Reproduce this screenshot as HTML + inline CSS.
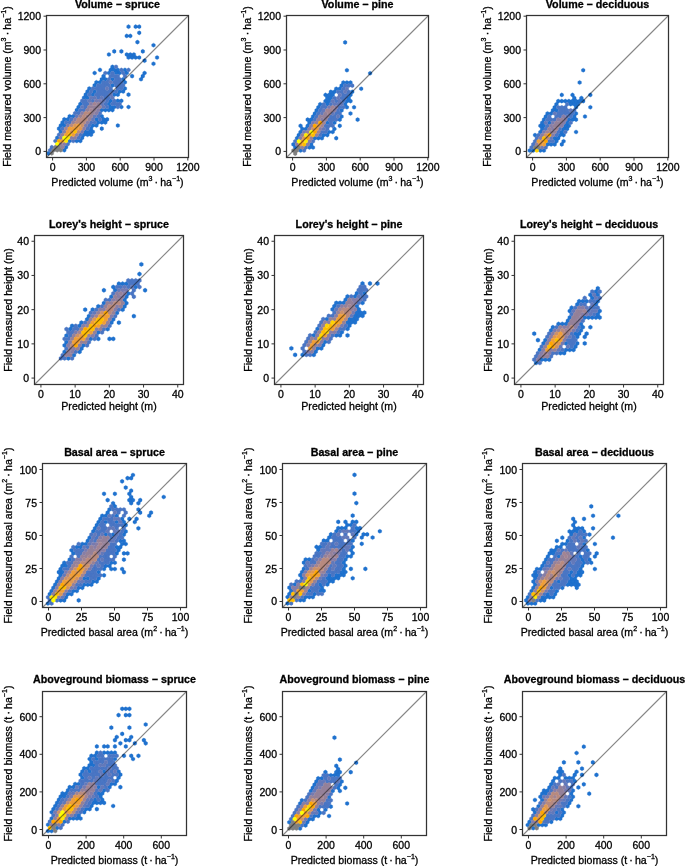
<!DOCTYPE html><html><head><meta charset="utf-8"><style>html,body{margin:0;padding:0;background:#fff}svg{display:block;will-change:transform}*{-webkit-font-smoothing:antialiased}text{font-family:"Liberation Sans", sans-serif;stroke:#000;stroke-width:0.3px;paint-order:stroke}</style></head><body>
<svg width="685" height="866" viewBox="0 0 685 866">
<rect width="685" height="866" fill="#fff"/>
<clipPath id="c46_15"><rect x="46.5" y="15.5" width="142" height="142"/></clipPath><g clip-path="url(#c46_15)"><path fill="#1f72cf" stroke="#1f72cf" stroke-width="0.35" stroke-linejoin="round" d="M48.25 151.28l1.78 1.03v2.06l-1.78 1.03l-1.78 -1.03v-2.06zM64.30 148.19l1.78 1.03v2.06l-1.78 1.03l-1.78 -1.03v-2.06zM66.09 145.10l1.78 1.03v2.06l-1.78 1.03l-1.78 -1.03v-2.06zM69.66 138.93l1.78 1.03v2.06l-1.78 1.03l-1.78 -1.03v-2.06zM76.79 138.93l1.78 1.03v2.06l-1.78 1.03l-1.78 -1.03v-2.06zM80.36 138.93l1.78 1.03v2.06l-1.78 1.03l-1.78 -1.03v-2.06zM57.17 135.84l1.78 1.03v2.06l-1.78 1.03l-1.78 -1.03v-2.06zM82.14 135.84l1.78 1.03v2.06l-1.78 1.03l-1.78 -1.03v-2.06zM83.93 132.75l1.78 1.03v2.06l-1.78 1.03l-1.78 -1.03v-2.06zM87.49 132.75l1.78 1.03v2.06l-1.78 1.03l-1.78 -1.03v-2.06zM91.06 132.75l1.78 1.03v2.06l-1.78 1.03l-1.78 -1.03v-2.06zM60.74 129.66l1.78 1.03v2.06l-1.78 1.03l-1.78 -1.03v-2.06zM85.71 129.66l1.78 1.03v2.06l-1.78 1.03l-1.78 -1.03v-2.06zM89.28 129.66l1.78 1.03v2.06l-1.78 1.03l-1.78 -1.03v-2.06zM92.85 129.66l1.78 1.03v2.06l-1.78 1.03l-1.78 -1.03v-2.06zM58.95 126.57l1.78 1.03v2.06l-1.78 1.03l-1.78 -1.03v-2.06zM91.06 126.57l1.78 1.03v2.06l-1.78 1.03l-1.78 -1.03v-2.06zM60.74 123.48l1.78 1.03v2.06l-1.78 1.03l-1.78 -1.03v-2.06zM64.30 123.48l1.78 1.03v2.06l-1.78 1.03l-1.78 -1.03v-2.06zM92.85 123.48l1.78 1.03v2.06l-1.78 1.03l-1.78 -1.03v-2.06zM96.41 123.48l1.78 1.03v2.06l-1.78 1.03l-1.78 -1.03v-2.06zM62.52 120.39l1.78 1.03v2.06l-1.78 1.03l-1.78 -1.03v-2.06zM98.20 120.39l1.78 1.03v2.06l-1.78 1.03l-1.78 -1.03v-2.06zM101.77 120.39l1.78 1.03v2.06l-1.78 1.03l-1.78 -1.03v-2.06zM105.33 120.39l1.78 1.03v2.06l-1.78 1.03l-1.78 -1.03v-2.06zM64.30 117.30l1.78 1.03v2.06l-1.78 1.03l-1.78 -1.03v-2.06zM67.87 117.30l1.78 1.03v2.06l-1.78 1.03l-1.78 -1.03v-2.06zM96.41 117.30l1.78 1.03v2.06l-1.78 1.03l-1.78 -1.03v-2.06zM103.55 117.30l1.78 1.03v2.06l-1.78 1.03l-1.78 -1.03v-2.06zM107.12 117.30l1.78 1.03v2.06l-1.78 1.03l-1.78 -1.03v-2.06zM69.66 114.21l1.78 1.03v2.06l-1.78 1.03l-1.78 -1.03v-2.06zM73.22 114.21l1.78 1.03v2.06l-1.78 1.03l-1.78 -1.03v-2.06zM101.77 114.21l1.78 1.03v2.06l-1.78 1.03l-1.78 -1.03v-2.06zM76.79 108.03l1.78 1.03v2.06l-1.78 1.03l-1.78 -1.03v-2.06zM101.77 108.03l1.78 1.03v2.06l-1.78 1.03l-1.78 -1.03v-2.06zM105.33 108.03l1.78 1.03v2.06l-1.78 1.03l-1.78 -1.03v-2.06zM108.90 108.03l1.78 1.03v2.06l-1.78 1.03l-1.78 -1.03v-2.06zM112.47 108.03l1.78 1.03v2.06l-1.78 1.03l-1.78 -1.03v-2.06zM78.58 104.94l1.78 1.03v2.06l-1.78 1.03l-1.78 -1.03v-2.06zM110.69 104.94l1.78 1.03v2.06l-1.78 1.03l-1.78 -1.03v-2.06zM114.25 104.94l1.78 1.03v2.06l-1.78 1.03l-1.78 -1.03v-2.06zM121.39 104.94l1.78 1.03v2.06l-1.78 1.03l-1.78 -1.03v-2.06zM80.36 101.85l1.78 1.03v2.06l-1.78 1.03l-1.78 -1.03v-2.06zM108.90 101.85l1.78 1.03v2.06l-1.78 1.03l-1.78 -1.03v-2.06zM110.69 98.76l1.78 1.03v2.06l-1.78 1.03l-1.78 -1.03v-2.06zM117.82 98.76l1.78 1.03v2.06l-1.78 1.03l-1.78 -1.03v-2.06zM121.39 98.76l1.78 1.03v2.06l-1.78 1.03l-1.78 -1.03v-2.06zM83.93 95.67l1.78 1.03v2.06l-1.78 1.03l-1.78 -1.03v-2.06zM87.49 95.67l1.78 1.03v2.06l-1.78 1.03l-1.78 -1.03v-2.06zM85.71 92.58l1.78 1.03v2.06l-1.78 1.03l-1.78 -1.03v-2.06zM92.85 92.58l1.78 1.03v2.06l-1.78 1.03l-1.78 -1.03v-2.06zM114.25 92.58l1.78 1.03v2.06l-1.78 1.03l-1.78 -1.03v-2.06zM117.82 92.58l1.78 1.03v2.06l-1.78 1.03l-1.78 -1.03v-2.06zM87.49 89.49l1.78 1.03v2.06l-1.78 1.03l-1.78 -1.03v-2.06zM94.63 89.49l1.78 1.03v2.06l-1.78 1.03l-1.78 -1.03v-2.06zM119.61 89.49l1.78 1.03v2.06l-1.78 1.03l-1.78 -1.03v-2.06zM123.17 89.49l1.78 1.03v2.06l-1.78 1.03l-1.78 -1.03v-2.06zM89.28 86.40l1.78 1.03v2.06l-1.78 1.03l-1.78 -1.03v-2.06zM94.63 83.31l1.78 1.03v2.06l-1.78 1.03l-1.78 -1.03v-2.06zM112.47 83.31l1.78 1.03v2.06l-1.78 1.03l-1.78 -1.03v-2.06zM96.41 80.22l1.78 1.03v2.06l-1.78 1.03l-1.78 -1.03v-2.06zM99.98 80.22l1.78 1.03v2.06l-1.78 1.03l-1.78 -1.03v-2.06zM124.96 80.22l1.78 1.03v2.06l-1.78 1.03l-1.78 -1.03v-2.06zM101.77 77.13l1.78 1.03v2.06l-1.78 1.03l-1.78 -1.03v-2.06zM105.33 77.13l1.78 1.03v2.06l-1.78 1.03l-1.78 -1.03v-2.06zM112.47 77.13l1.78 1.03v2.06l-1.78 1.03l-1.78 -1.03v-2.06zM123.17 77.13l1.78 1.03v2.06l-1.78 1.03l-1.78 -1.03v-2.06zM103.55 74.04l1.78 1.03v2.06l-1.78 1.03l-1.78 -1.03v-2.06zM108.90 70.95l1.78 1.03v2.06l-1.78 1.03l-1.78 -1.03v-2.06zM116.04 70.95l1.78 1.03v2.06l-1.78 1.03l-1.78 -1.03v-2.06zM119.61 70.95l1.78 1.03v2.06l-1.78 1.03l-1.78 -1.03v-2.06zM126.74 70.95l1.78 1.03v2.06l-1.78 1.03l-1.78 -1.03v-2.06zM110.69 67.86l1.78 1.03v2.06l-1.78 1.03l-1.78 -1.03v-2.06zM114.25 67.86l1.78 1.03v2.06l-1.78 1.03l-1.78 -1.03v-2.06zM117.82 67.86l1.78 1.03v2.06l-1.78 1.03l-1.78 -1.03v-2.06zM124.96 67.86l1.78 1.03v2.06l-1.78 1.03l-1.78 -1.03v-2.06zM112.47 64.77l1.78 1.03v2.06l-1.78 1.03l-1.78 -1.03v-2.06zM128.53 24.60l1.78 1.03v2.06l-1.78 1.03l-1.78 -1.03v-2.06zM135.66 24.60l1.78 1.03v2.06l-1.78 1.03l-1.78 -1.03v-2.06zM139.23 24.60l1.78 1.03v2.06l-1.78 1.03l-1.78 -1.03v-2.06zM139.23 30.78l1.78 1.03v2.06l-1.78 1.03l-1.78 -1.03v-2.06zM126.74 33.87l1.78 1.03v2.06l-1.78 1.03l-1.78 -1.03v-2.06zM130.31 33.87l1.78 1.03v2.06l-1.78 1.03l-1.78 -1.03v-2.06zM137.44 40.05l1.78 1.03v2.06l-1.78 1.03l-1.78 -1.03v-2.06zM153.50 43.14l1.78 1.03v2.06l-1.78 1.03l-1.78 -1.03v-2.06zM142.80 49.32l1.78 1.03v2.06l-1.78 1.03l-1.78 -1.03v-2.06zM108.90 52.41l1.78 1.03v2.06l-1.78 1.03l-1.78 -1.03v-2.06zM114.25 49.32l1.78 1.03v2.06l-1.78 1.03l-1.78 -1.03v-2.06zM121.39 49.32l1.78 1.03v2.06l-1.78 1.03l-1.78 -1.03v-2.06zM126.74 52.41l1.78 1.03v2.06l-1.78 1.03l-1.78 -1.03v-2.06zM130.31 52.41l1.78 1.03v2.06l-1.78 1.03l-1.78 -1.03v-2.06zM133.88 52.41l1.78 1.03v2.06l-1.78 1.03l-1.78 -1.03v-2.06zM128.53 55.50l1.78 1.03v2.06l-1.78 1.03l-1.78 -1.03v-2.06zM132.09 55.50l1.78 1.03v2.06l-1.78 1.03l-1.78 -1.03v-2.06zM135.66 55.50l1.78 1.03v2.06l-1.78 1.03l-1.78 -1.03v-2.06zM139.23 55.50l1.78 1.03v2.06l-1.78 1.03l-1.78 -1.03v-2.06zM157.07 55.50l1.78 1.03v2.06l-1.78 1.03l-1.78 -1.03v-2.06zM144.58 58.59l1.78 1.03v2.06l-1.78 1.03l-1.78 -1.03v-2.06zM153.50 61.68l1.78 1.03v2.06l-1.78 1.03l-1.78 -1.03v-2.06zM144.58 70.95l1.78 1.03v2.06l-1.78 1.03l-1.78 -1.03v-2.06zM142.80 74.04l1.78 1.03v2.06l-1.78 1.03l-1.78 -1.03v-2.06zM141.01 77.13l1.78 1.03v2.06l-1.78 1.03l-1.78 -1.03v-2.06zM132.09 74.04l1.78 1.03v2.06l-1.78 1.03l-1.78 -1.03v-2.06zM99.98 67.86l1.78 1.03v2.06l-1.78 1.03l-1.78 -1.03v-2.06zM94.63 70.95l1.78 1.03v2.06l-1.78 1.03l-1.78 -1.03v-2.06zM124.96 86.40l1.78 1.03v2.06l-1.78 1.03l-1.78 -1.03v-2.06zM128.53 92.58l1.78 1.03v2.06l-1.78 1.03l-1.78 -1.03v-2.06zM128.53 104.94l1.78 1.03v2.06l-1.78 1.03l-1.78 -1.03v-2.06zM117.82 123.48l1.78 1.03v2.06l-1.78 1.03l-1.78 -1.03v-2.06zM101.77 126.57l1.78 1.03v2.06l-1.78 1.03l-1.78 -1.03v-2.06z"/><path fill="#4a76c4" stroke="#4a76c4" stroke-width="0.35" stroke-linejoin="round" d="M50.03 148.19l1.78 1.03v2.06l-1.78 1.03l-1.78 -1.03v-2.06zM51.82 145.10l1.78 1.03v2.06l-1.78 1.03l-1.78 -1.03v-2.06zM67.87 142.01l1.78 1.03v2.06l-1.78 1.03l-1.78 -1.03v-2.06zM55.38 138.93l1.78 1.03v2.06l-1.78 1.03l-1.78 -1.03v-2.06zM73.22 138.93l1.78 1.03v2.06l-1.78 1.03l-1.78 -1.03v-2.06zM78.58 135.84l1.78 1.03v2.06l-1.78 1.03l-1.78 -1.03v-2.06zM58.95 132.75l1.78 1.03v2.06l-1.78 1.03l-1.78 -1.03v-2.06zM80.36 132.75l1.78 1.03v2.06l-1.78 1.03l-1.78 -1.03v-2.06zM62.52 126.57l1.78 1.03v2.06l-1.78 1.03l-1.78 -1.03v-2.06zM87.49 126.57l1.78 1.03v2.06l-1.78 1.03l-1.78 -1.03v-2.06zM89.28 123.48l1.78 1.03v2.06l-1.78 1.03l-1.78 -1.03v-2.06zM66.09 120.39l1.78 1.03v2.06l-1.78 1.03l-1.78 -1.03v-2.06zM69.66 120.39l1.78 1.03v2.06l-1.78 1.03l-1.78 -1.03v-2.06zM91.06 120.39l1.78 1.03v2.06l-1.78 1.03l-1.78 -1.03v-2.06zM94.63 120.39l1.78 1.03v2.06l-1.78 1.03l-1.78 -1.03v-2.06zM71.44 117.30l1.78 1.03v2.06l-1.78 1.03l-1.78 -1.03v-2.06zM99.98 117.30l1.78 1.03v2.06l-1.78 1.03l-1.78 -1.03v-2.06zM98.20 114.21l1.78 1.03v2.06l-1.78 1.03l-1.78 -1.03v-2.06zM75.01 111.12l1.78 1.03v2.06l-1.78 1.03l-1.78 -1.03v-2.06zM78.58 111.12l1.78 1.03v2.06l-1.78 1.03l-1.78 -1.03v-2.06zM99.98 111.12l1.78 1.03v2.06l-1.78 1.03l-1.78 -1.03v-2.06zM80.36 108.03l1.78 1.03v2.06l-1.78 1.03l-1.78 -1.03v-2.06zM83.93 108.03l1.78 1.03v2.06l-1.78 1.03l-1.78 -1.03v-2.06zM85.71 104.94l1.78 1.03v2.06l-1.78 1.03l-1.78 -1.03v-2.06zM107.12 104.94l1.78 1.03v2.06l-1.78 1.03l-1.78 -1.03v-2.06zM117.82 104.94l1.78 1.03v2.06l-1.78 1.03l-1.78 -1.03v-2.06zM83.93 101.85l1.78 1.03v2.06l-1.78 1.03l-1.78 -1.03v-2.06zM87.49 101.85l1.78 1.03v2.06l-1.78 1.03l-1.78 -1.03v-2.06zM105.33 101.85l1.78 1.03v2.06l-1.78 1.03l-1.78 -1.03v-2.06zM112.47 101.85l1.78 1.03v2.06l-1.78 1.03l-1.78 -1.03v-2.06zM116.04 101.85l1.78 1.03v2.06l-1.78 1.03l-1.78 -1.03v-2.06zM119.61 101.85l1.78 1.03v2.06l-1.78 1.03l-1.78 -1.03v-2.06zM82.14 98.76l1.78 1.03v2.06l-1.78 1.03l-1.78 -1.03v-2.06zM85.71 98.76l1.78 1.03v2.06l-1.78 1.03l-1.78 -1.03v-2.06zM92.85 98.76l1.78 1.03v2.06l-1.78 1.03l-1.78 -1.03v-2.06zM107.12 98.76l1.78 1.03v2.06l-1.78 1.03l-1.78 -1.03v-2.06zM114.25 98.76l1.78 1.03v2.06l-1.78 1.03l-1.78 -1.03v-2.06zM98.20 95.67l1.78 1.03v2.06l-1.78 1.03l-1.78 -1.03v-2.06zM105.33 95.67l1.78 1.03v2.06l-1.78 1.03l-1.78 -1.03v-2.06zM108.90 95.67l1.78 1.03v2.06l-1.78 1.03l-1.78 -1.03v-2.06zM89.28 92.58l1.78 1.03v2.06l-1.78 1.03l-1.78 -1.03v-2.06zM96.41 92.58l1.78 1.03v2.06l-1.78 1.03l-1.78 -1.03v-2.06zM99.98 92.58l1.78 1.03v2.06l-1.78 1.03l-1.78 -1.03v-2.06zM103.55 92.58l1.78 1.03v2.06l-1.78 1.03l-1.78 -1.03v-2.06zM107.12 92.58l1.78 1.03v2.06l-1.78 1.03l-1.78 -1.03v-2.06zM91.06 89.49l1.78 1.03v2.06l-1.78 1.03l-1.78 -1.03v-2.06zM98.20 89.49l1.78 1.03v2.06l-1.78 1.03l-1.78 -1.03v-2.06zM101.77 89.49l1.78 1.03v2.06l-1.78 1.03l-1.78 -1.03v-2.06zM105.33 89.49l1.78 1.03v2.06l-1.78 1.03l-1.78 -1.03v-2.06zM108.90 89.49l1.78 1.03v2.06l-1.78 1.03l-1.78 -1.03v-2.06zM112.47 89.49l1.78 1.03v2.06l-1.78 1.03l-1.78 -1.03v-2.06zM116.04 89.49l1.78 1.03v2.06l-1.78 1.03l-1.78 -1.03v-2.06zM92.85 86.40l1.78 1.03v2.06l-1.78 1.03l-1.78 -1.03v-2.06zM96.41 86.40l1.78 1.03v2.06l-1.78 1.03l-1.78 -1.03v-2.06zM99.98 86.40l1.78 1.03v2.06l-1.78 1.03l-1.78 -1.03v-2.06zM103.55 86.40l1.78 1.03v2.06l-1.78 1.03l-1.78 -1.03v-2.06zM110.69 86.40l1.78 1.03v2.06l-1.78 1.03l-1.78 -1.03v-2.06zM117.82 86.40l1.78 1.03v2.06l-1.78 1.03l-1.78 -1.03v-2.06zM121.39 86.40l1.78 1.03v2.06l-1.78 1.03l-1.78 -1.03v-2.06zM98.20 83.31l1.78 1.03v2.06l-1.78 1.03l-1.78 -1.03v-2.06zM101.77 83.31l1.78 1.03v2.06l-1.78 1.03l-1.78 -1.03v-2.06zM105.33 83.31l1.78 1.03v2.06l-1.78 1.03l-1.78 -1.03v-2.06zM108.90 83.31l1.78 1.03v2.06l-1.78 1.03l-1.78 -1.03v-2.06zM116.04 83.31l1.78 1.03v2.06l-1.78 1.03l-1.78 -1.03v-2.06zM119.61 83.31l1.78 1.03v2.06l-1.78 1.03l-1.78 -1.03v-2.06zM123.17 83.31l1.78 1.03v2.06l-1.78 1.03l-1.78 -1.03v-2.06zM103.55 80.22l1.78 1.03v2.06l-1.78 1.03l-1.78 -1.03v-2.06zM107.12 80.22l1.78 1.03v2.06l-1.78 1.03l-1.78 -1.03v-2.06zM114.25 80.22l1.78 1.03v2.06l-1.78 1.03l-1.78 -1.03v-2.06zM117.82 80.22l1.78 1.03v2.06l-1.78 1.03l-1.78 -1.03v-2.06zM121.39 80.22l1.78 1.03v2.06l-1.78 1.03l-1.78 -1.03v-2.06zM108.90 77.13l1.78 1.03v2.06l-1.78 1.03l-1.78 -1.03v-2.06zM116.04 77.13l1.78 1.03v2.06l-1.78 1.03l-1.78 -1.03v-2.06zM119.61 77.13l1.78 1.03v2.06l-1.78 1.03l-1.78 -1.03v-2.06zM110.69 74.04l1.78 1.03v2.06l-1.78 1.03l-1.78 -1.03v-2.06zM114.25 74.04l1.78 1.03v2.06l-1.78 1.03l-1.78 -1.03v-2.06zM117.82 74.04l1.78 1.03v2.06l-1.78 1.03l-1.78 -1.03v-2.06zM124.96 74.04l1.78 1.03v2.06l-1.78 1.03l-1.78 -1.03v-2.06zM105.33 70.95l1.78 1.03v2.06l-1.78 1.03l-1.78 -1.03v-2.06zM112.47 70.95l1.78 1.03v2.06l-1.78 1.03l-1.78 -1.03v-2.06zM123.17 70.95l1.78 1.03v2.06l-1.78 1.03l-1.78 -1.03v-2.06zM121.39 67.86l1.78 1.03v2.06l-1.78 1.03l-1.78 -1.03v-2.06zM128.53 67.86l1.78 1.03v2.06l-1.78 1.03l-1.78 -1.03v-2.06zM116.04 64.77l1.78 1.03v2.06l-1.78 1.03l-1.78 -1.03v-2.06z"/><path fill="#6379ba" stroke="#6379ba" stroke-width="0.35" stroke-linejoin="round" d="M92.85 117.30l1.78 1.03v2.06l-1.78 1.03l-1.78 -1.03v-2.06zM76.79 114.21l1.78 1.03v2.06l-1.78 1.03l-1.78 -1.03v-2.06zM94.63 114.21l1.78 1.03v2.06l-1.78 1.03l-1.78 -1.03v-2.06zM82.14 104.94l1.78 1.03v2.06l-1.78 1.03l-1.78 -1.03v-2.06zM103.55 104.94l1.78 1.03v2.06l-1.78 1.03l-1.78 -1.03v-2.06zM101.77 101.85l1.78 1.03v2.06l-1.78 1.03l-1.78 -1.03v-2.06zM89.28 98.76l1.78 1.03v2.06l-1.78 1.03l-1.78 -1.03v-2.06zM103.55 98.76l1.78 1.03v2.06l-1.78 1.03l-1.78 -1.03v-2.06zM91.06 95.67l1.78 1.03v2.06l-1.78 1.03l-1.78 -1.03v-2.06zM94.63 95.67l1.78 1.03v2.06l-1.78 1.03l-1.78 -1.03v-2.06zM101.77 95.67l1.78 1.03v2.06l-1.78 1.03l-1.78 -1.03v-2.06zM112.47 95.67l1.78 1.03v2.06l-1.78 1.03l-1.78 -1.03v-2.06zM110.69 92.58l1.78 1.03v2.06l-1.78 1.03l-1.78 -1.03v-2.06zM107.12 86.40l1.78 1.03v2.06l-1.78 1.03l-1.78 -1.03v-2.06zM110.69 80.22l1.78 1.03v2.06l-1.78 1.03l-1.78 -1.03v-2.06z"/><path fill="#767bb0" stroke="#767bb0" stroke-width="0.35" stroke-linejoin="round" d="M82.14 129.66l1.78 1.03v2.06l-1.78 1.03l-1.78 -1.03v-2.06zM67.87 123.48l1.78 1.03v2.06l-1.78 1.03l-1.78 -1.03v-2.06zM85.71 123.48l1.78 1.03v2.06l-1.78 1.03l-1.78 -1.03v-2.06zM96.41 98.76l1.78 1.03v2.06l-1.78 1.03l-1.78 -1.03v-2.06zM99.98 98.76l1.78 1.03v2.06l-1.78 1.03l-1.78 -1.03v-2.06z"/><path fill="#877ea6" stroke="#877ea6" stroke-width="0.35" stroke-linejoin="round" d="M64.30 142.01l1.78 1.03v2.06l-1.78 1.03l-1.78 -1.03v-2.06zM60.74 135.84l1.78 1.03v2.06l-1.78 1.03l-1.78 -1.03v-2.06zM71.44 135.84l1.78 1.03v2.06l-1.78 1.03l-1.78 -1.03v-2.06zM75.01 135.84l1.78 1.03v2.06l-1.78 1.03l-1.78 -1.03v-2.06zM64.30 129.66l1.78 1.03v2.06l-1.78 1.03l-1.78 -1.03v-2.06zM83.93 126.57l1.78 1.03v2.06l-1.78 1.03l-1.78 -1.03v-2.06zM87.49 120.39l1.78 1.03v2.06l-1.78 1.03l-1.78 -1.03v-2.06zM75.01 117.30l1.78 1.03v2.06l-1.78 1.03l-1.78 -1.03v-2.06zM82.14 111.12l1.78 1.03v2.06l-1.78 1.03l-1.78 -1.03v-2.06zM96.41 111.12l1.78 1.03v2.06l-1.78 1.03l-1.78 -1.03v-2.06zM98.20 108.03l1.78 1.03v2.06l-1.78 1.03l-1.78 -1.03v-2.06zM91.06 101.85l1.78 1.03v2.06l-1.78 1.03l-1.78 -1.03v-2.06z"/><path fill="#958199" stroke="#958199" stroke-width="0.35" stroke-linejoin="round" d="M62.52 145.10l1.78 1.03v2.06l-1.78 1.03l-1.78 -1.03v-2.06zM60.74 142.01l1.78 1.03v2.06l-1.78 1.03l-1.78 -1.03v-2.06zM62.52 132.75l1.78 1.03v2.06l-1.78 1.03l-1.78 -1.03v-2.06zM76.79 132.75l1.78 1.03v2.06l-1.78 1.03l-1.78 -1.03v-2.06zM73.22 120.39l1.78 1.03v2.06l-1.78 1.03l-1.78 -1.03v-2.06zM89.28 117.30l1.78 1.03v2.06l-1.78 1.03l-1.78 -1.03v-2.06zM80.36 114.21l1.78 1.03v2.06l-1.78 1.03l-1.78 -1.03v-2.06zM91.06 114.21l1.78 1.03v2.06l-1.78 1.03l-1.78 -1.03v-2.06zM92.85 111.12l1.78 1.03v2.06l-1.78 1.03l-1.78 -1.03v-2.06zM87.49 108.03l1.78 1.03v2.06l-1.78 1.03l-1.78 -1.03v-2.06zM94.63 108.03l1.78 1.03v2.06l-1.78 1.03l-1.78 -1.03v-2.06zM89.28 104.94l1.78 1.03v2.06l-1.78 1.03l-1.78 -1.03v-2.06zM92.85 104.94l1.78 1.03v2.06l-1.78 1.03l-1.78 -1.03v-2.06zM96.41 104.94l1.78 1.03v2.06l-1.78 1.03l-1.78 -1.03v-2.06zM99.98 104.94l1.78 1.03v2.06l-1.78 1.03l-1.78 -1.03v-2.06zM98.20 101.85l1.78 1.03v2.06l-1.78 1.03l-1.78 -1.03v-2.06z"/><path fill="#a28493" stroke="#a28493" stroke-width="0.35" stroke-linejoin="round" d="M66.09 126.57l1.78 1.03v2.06l-1.78 1.03l-1.78 -1.03v-2.06zM87.49 114.21l1.78 1.03v2.06l-1.78 1.03l-1.78 -1.03v-2.06zM91.06 108.03l1.78 1.03v2.06l-1.78 1.03l-1.78 -1.03v-2.06zM94.63 101.85l1.78 1.03v2.06l-1.78 1.03l-1.78 -1.03v-2.06z"/><path fill="#b88a7f" stroke="#b88a7f" stroke-width="0.35" stroke-linejoin="round" d="M78.58 129.66l1.78 1.03v2.06l-1.78 1.03l-1.78 -1.03v-2.06zM71.44 123.48l1.78 1.03v2.06l-1.78 1.03l-1.78 -1.03v-2.06zM76.79 120.39l1.78 1.03v2.06l-1.78 1.03l-1.78 -1.03v-2.06zM80.36 120.39l1.78 1.03v2.06l-1.78 1.03l-1.78 -1.03v-2.06zM83.93 120.39l1.78 1.03v2.06l-1.78 1.03l-1.78 -1.03v-2.06zM78.58 117.30l1.78 1.03v2.06l-1.78 1.03l-1.78 -1.03v-2.06zM82.14 117.30l1.78 1.03v2.06l-1.78 1.03l-1.78 -1.03v-2.06zM85.71 117.30l1.78 1.03v2.06l-1.78 1.03l-1.78 -1.03v-2.06zM83.93 114.21l1.78 1.03v2.06l-1.78 1.03l-1.78 -1.03v-2.06zM85.71 111.12l1.78 1.03v2.06l-1.78 1.03l-1.78 -1.03v-2.06zM89.28 111.12l1.78 1.03v2.06l-1.78 1.03l-1.78 -1.03v-2.06z"/><path fill="#cc916a" stroke="#cc916a" stroke-width="0.35" stroke-linejoin="round" d="M82.14 123.48l1.78 1.03v2.06l-1.78 1.03l-1.78 -1.03v-2.06z"/><path fill="#de9753" stroke="#de9753" stroke-width="0.35" stroke-linejoin="round" d="M71.44 129.66l1.78 1.03v2.06l-1.78 1.03l-1.78 -1.03v-2.06zM80.36 126.57l1.78 1.03v2.06l-1.78 1.03l-1.78 -1.03v-2.06zM75.01 123.48l1.78 1.03v2.06l-1.78 1.03l-1.78 -1.03v-2.06z"/><path fill="#ef9e38" stroke="#ef9e38" stroke-width="0.35" stroke-linejoin="round" d="M62.52 138.93l1.78 1.03v2.06l-1.78 1.03l-1.78 -1.03v-2.06zM66.09 132.75l1.78 1.03v2.06l-1.78 1.03l-1.78 -1.03v-2.06zM73.22 132.75l1.78 1.03v2.06l-1.78 1.03l-1.78 -1.03v-2.06zM67.87 129.66l1.78 1.03v2.06l-1.78 1.03l-1.78 -1.03v-2.06zM69.66 126.57l1.78 1.03v2.06l-1.78 1.03l-1.78 -1.03v-2.06zM73.22 126.57l1.78 1.03v2.06l-1.78 1.03l-1.78 -1.03v-2.06zM76.79 126.57l1.78 1.03v2.06l-1.78 1.03l-1.78 -1.03v-2.06zM78.58 123.48l1.78 1.03v2.06l-1.78 1.03l-1.78 -1.03v-2.06z"/><path fill="#ffa500" stroke="#ffa500" stroke-width="0.35" stroke-linejoin="round" d="M58.95 138.93l1.78 1.03v2.06l-1.78 1.03l-1.78 -1.03v-2.06z"/><path fill="#ffbc00" stroke="#ffbc00" stroke-width="0.35" stroke-linejoin="round" d="M69.66 132.75l1.78 1.03v2.06l-1.78 1.03l-1.78 -1.03v-2.06zM75.01 129.66l1.78 1.03v2.06l-1.78 1.03l-1.78 -1.03v-2.06z"/><path fill="#ffe900" stroke="#ffe900" stroke-width="0.35" stroke-linejoin="round" d="M66.09 138.93l1.78 1.03v2.06l-1.78 1.03l-1.78 -1.03v-2.06zM67.87 135.84l1.78 1.03v2.06l-1.78 1.03l-1.78 -1.03v-2.06z"/><path fill="#ffff00" stroke="#ffff00" stroke-width="0.35" stroke-linejoin="round" d="M57.17 142.01l1.78 1.03v2.06l-1.78 1.03l-1.78 -1.03v-2.06zM64.30 135.84l1.78 1.03v2.06l-1.78 1.03l-1.78 -1.03v-2.06z"/><path fill="#808080" stroke="#808080" stroke-width="0.35" stroke-linejoin="round" d="M51.82 151.28l1.78 1.03v2.06l-1.78 1.03l-1.78 -1.03v-2.06zM53.60 148.19l1.78 1.03v2.06l-1.78 1.03l-1.78 -1.03v-2.06zM57.17 148.19l1.78 1.03v2.06l-1.78 1.03l-1.78 -1.03v-2.06zM60.74 148.19l1.78 1.03v2.06l-1.78 1.03l-1.78 -1.03v-2.06zM55.38 145.10l1.78 1.03v2.06l-1.78 1.03l-1.78 -1.03v-2.06zM58.95 145.10l1.78 1.03v2.06l-1.78 1.03l-1.78 -1.03v-2.06z"/></g>
<line x1="46.5" y1="157.5" x2="188.5" y2="15.5" stroke="#000" stroke-opacity="0.48" stroke-width="1.1"/>
<rect x="46.5" y="15.5" width="142" height="142" fill="none" stroke="#333" stroke-width="1.25"/>
<path d="M52.59 157.5v3M46.5 151.41h-3M86.40 157.5v3M46.5 117.60h-3M120.20 157.5v3M46.5 83.80h-3M154.01 157.5v3M46.5 49.99h-3M187.82 157.5v3M46.5 16.18h-3" stroke="#333" stroke-width="1" fill="none"/>
<text x="52.59" y="170.70" font-size="10.5" text-anchor="middle" fill="#000">0</text>
<text x="41.00" y="155.41" font-size="10.5" text-anchor="end" fill="#000">0</text>
<text x="86.40" y="170.70" font-size="10.5" text-anchor="middle" fill="#000">300</text>
<text x="41.00" y="121.60" font-size="10.5" text-anchor="end" fill="#000">300</text>
<text x="120.20" y="170.70" font-size="10.5" text-anchor="middle" fill="#000">600</text>
<text x="41.00" y="87.80" font-size="10.5" text-anchor="end" fill="#000">600</text>
<text x="154.01" y="170.70" font-size="10.5" text-anchor="middle" fill="#000">900</text>
<text x="41.00" y="53.99" font-size="10.5" text-anchor="end" fill="#000">900</text>
<text x="187.82" y="170.70" font-size="10.5" text-anchor="middle" fill="#000">1200</text>
<text x="41.00" y="20.18" font-size="10.5" text-anchor="end" fill="#000">1200</text>
<text x="117.50" y="7.5" font-size="10.7" font-weight="bold" text-anchor="middle">Volume − spruce</text>
<text x="117.50" y="185.50" font-size="10.6" text-anchor="middle"><tspan>Predicted volume (m</tspan><tspan font-size="7.1" dy="-4.5">3</tspan><tspan dy="4.5"> · ha</tspan><tspan font-size="7.1" dy="-4.5">−1</tspan><tspan dy="4.5">)</tspan></text>
<text transform="translate(10.90,86.50) rotate(-90)" font-size="10.6" text-anchor="middle"><tspan>Field measured volume (m</tspan><tspan font-size="7.1" dy="-4.5">3</tspan><tspan dy="4.5"> · ha</tspan><tspan font-size="7.1" dy="-4.5">−1</tspan><tspan dy="4.5">)</tspan></text>
<clipPath id="c286_15"><rect x="286.5" y="15.5" width="142" height="142"/></clipPath><g clip-path="url(#c286_15)"><path fill="#1f72cf" stroke="#1f72cf" stroke-width="0.35" stroke-linejoin="round" d="M300.54 148.48l1.78 1.03v2.06l-1.78 1.03l-1.78 -1.03v-2.06zM295.19 145.39l1.78 1.03v2.06l-1.78 1.03l-1.78 -1.03v-2.06zM309.46 145.39l1.78 1.03v2.06l-1.78 1.03l-1.78 -1.03v-2.06zM313.03 145.39l1.78 1.03v2.06l-1.78 1.03l-1.78 -1.03v-2.06zM293.40 142.30l1.78 1.03v2.06l-1.78 1.03l-1.78 -1.03v-2.06zM311.24 142.30l1.78 1.03v2.06l-1.78 1.03l-1.78 -1.03v-2.06zM296.97 136.12l1.78 1.03v2.06l-1.78 1.03l-1.78 -1.03v-2.06zM314.81 136.12l1.78 1.03v2.06l-1.78 1.03l-1.78 -1.03v-2.06zM318.38 136.12l1.78 1.03v2.06l-1.78 1.03l-1.78 -1.03v-2.06zM321.95 136.12l1.78 1.03v2.06l-1.78 1.03l-1.78 -1.03v-2.06zM298.75 133.03l1.78 1.03v2.06l-1.78 1.03l-1.78 -1.03v-2.06zM323.73 133.03l1.78 1.03v2.06l-1.78 1.03l-1.78 -1.03v-2.06zM327.30 133.03l1.78 1.03v2.06l-1.78 1.03l-1.78 -1.03v-2.06zM300.54 129.94l1.78 1.03v2.06l-1.78 1.03l-1.78 -1.03v-2.06zM329.08 129.94l1.78 1.03v2.06l-1.78 1.03l-1.78 -1.03v-2.06zM332.65 129.94l1.78 1.03v2.06l-1.78 1.03l-1.78 -1.03v-2.06zM302.32 126.85l1.78 1.03v2.06l-1.78 1.03l-1.78 -1.03v-2.06zM305.89 126.85l1.78 1.03v2.06l-1.78 1.03l-1.78 -1.03v-2.06zM334.43 126.85l1.78 1.03v2.06l-1.78 1.03l-1.78 -1.03v-2.06zM307.67 123.76l1.78 1.03v2.06l-1.78 1.03l-1.78 -1.03v-2.06zM309.46 120.67l1.78 1.03v2.06l-1.78 1.03l-1.78 -1.03v-2.06zM327.30 120.67l1.78 1.03v2.06l-1.78 1.03l-1.78 -1.03v-2.06zM334.43 120.67l1.78 1.03v2.06l-1.78 1.03l-1.78 -1.03v-2.06zM311.24 117.58l1.78 1.03v2.06l-1.78 1.03l-1.78 -1.03v-2.06zM339.78 117.58l1.78 1.03v2.06l-1.78 1.03l-1.78 -1.03v-2.06zM313.03 114.49l1.78 1.03v2.06l-1.78 1.03l-1.78 -1.03v-2.06zM341.57 114.49l1.78 1.03v2.06l-1.78 1.03l-1.78 -1.03v-2.06zM314.81 111.40l1.78 1.03v2.06l-1.78 1.03l-1.78 -1.03v-2.06zM316.59 108.31l1.78 1.03v2.06l-1.78 1.03l-1.78 -1.03v-2.06zM341.57 108.31l1.78 1.03v2.06l-1.78 1.03l-1.78 -1.03v-2.06zM318.38 105.22l1.78 1.03v2.06l-1.78 1.03l-1.78 -1.03v-2.06zM346.92 105.22l1.78 1.03v2.06l-1.78 1.03l-1.78 -1.03v-2.06zM320.16 102.13l1.78 1.03v2.06l-1.78 1.03l-1.78 -1.03v-2.06zM327.30 102.13l1.78 1.03v2.06l-1.78 1.03l-1.78 -1.03v-2.06zM345.14 102.13l1.78 1.03v2.06l-1.78 1.03l-1.78 -1.03v-2.06zM325.51 99.04l1.78 1.03v2.06l-1.78 1.03l-1.78 -1.03v-2.06zM329.08 99.04l1.78 1.03v2.06l-1.78 1.03l-1.78 -1.03v-2.06zM346.92 99.04l1.78 1.03v2.06l-1.78 1.03l-1.78 -1.03v-2.06zM350.49 99.04l1.78 1.03v2.06l-1.78 1.03l-1.78 -1.03v-2.06zM327.30 95.95l1.78 1.03v2.06l-1.78 1.03l-1.78 -1.03v-2.06zM330.86 95.95l1.78 1.03v2.06l-1.78 1.03l-1.78 -1.03v-2.06zM348.70 95.95l1.78 1.03v2.06l-1.78 1.03l-1.78 -1.03v-2.06zM329.08 92.86l1.78 1.03v2.06l-1.78 1.03l-1.78 -1.03v-2.06zM332.65 92.86l1.78 1.03v2.06l-1.78 1.03l-1.78 -1.03v-2.06zM350.49 92.86l1.78 1.03v2.06l-1.78 1.03l-1.78 -1.03v-2.06zM330.86 89.77l1.78 1.03v2.06l-1.78 1.03l-1.78 -1.03v-2.06zM334.43 89.77l1.78 1.03v2.06l-1.78 1.03l-1.78 -1.03v-2.06zM352.27 89.77l1.78 1.03v2.06l-1.78 1.03l-1.78 -1.03v-2.06zM336.22 86.68l1.78 1.03v2.06l-1.78 1.03l-1.78 -1.03v-2.06zM339.78 86.68l1.78 1.03v2.06l-1.78 1.03l-1.78 -1.03v-2.06zM341.57 83.59l1.78 1.03v2.06l-1.78 1.03l-1.78 -1.03v-2.06zM343.35 80.50l1.78 1.03v2.06l-1.78 1.03l-1.78 -1.03v-2.06zM346.92 80.50l1.78 1.03v2.06l-1.78 1.03l-1.78 -1.03v-2.06zM350.49 80.50l1.78 1.03v2.06l-1.78 1.03l-1.78 -1.03v-2.06zM325.51 92.86l1.78 1.03v2.06l-1.78 1.03l-1.78 -1.03v-2.06zM361.19 86.68l1.78 1.03v2.06l-1.78 1.03l-1.78 -1.03v-2.06zM354.06 105.22l1.78 1.03v2.06l-1.78 1.03l-1.78 -1.03v-2.06zM350.49 111.40l1.78 1.03v2.06l-1.78 1.03l-1.78 -1.03v-2.06zM357.62 117.58l1.78 1.03v2.06l-1.78 1.03l-1.78 -1.03v-2.06zM339.78 123.76l1.78 1.03v2.06l-1.78 1.03l-1.78 -1.03v-2.06zM336.22 136.12l1.78 1.03v2.06l-1.78 1.03l-1.78 -1.03v-2.06zM300.54 123.76l1.78 1.03v2.06l-1.78 1.03l-1.78 -1.03v-2.06zM307.67 117.58l1.78 1.03v2.06l-1.78 1.03l-1.78 -1.03v-2.06zM345.14 40.33l1.78 1.03v2.06l-1.78 1.03l-1.78 -1.03v-2.06zM346.92 68.14l1.78 1.03v2.06l-1.78 1.03l-1.78 -1.03v-2.06zM370.11 71.23l1.78 1.03v2.06l-1.78 1.03l-1.78 -1.03v-2.06z"/><path fill="#4a76c4" stroke="#4a76c4" stroke-width="0.35" stroke-linejoin="round" d="M304.11 148.48l1.78 1.03v2.06l-1.78 1.03l-1.78 -1.03v-2.06zM305.89 145.39l1.78 1.03v2.06l-1.78 1.03l-1.78 -1.03v-2.06zM295.19 139.21l1.78 1.03v2.06l-1.78 1.03l-1.78 -1.03v-2.06zM313.03 139.21l1.78 1.03v2.06l-1.78 1.03l-1.78 -1.03v-2.06zM320.16 133.03l1.78 1.03v2.06l-1.78 1.03l-1.78 -1.03v-2.06zM321.95 129.94l1.78 1.03v2.06l-1.78 1.03l-1.78 -1.03v-2.06zM325.51 129.94l1.78 1.03v2.06l-1.78 1.03l-1.78 -1.03v-2.06zM327.30 126.85l1.78 1.03v2.06l-1.78 1.03l-1.78 -1.03v-2.06zM325.51 123.76l1.78 1.03v2.06l-1.78 1.03l-1.78 -1.03v-2.06zM329.08 123.76l1.78 1.03v2.06l-1.78 1.03l-1.78 -1.03v-2.06zM332.65 123.76l1.78 1.03v2.06l-1.78 1.03l-1.78 -1.03v-2.06zM330.86 120.67l1.78 1.03v2.06l-1.78 1.03l-1.78 -1.03v-2.06zM314.81 117.58l1.78 1.03v2.06l-1.78 1.03l-1.78 -1.03v-2.06zM329.08 117.58l1.78 1.03v2.06l-1.78 1.03l-1.78 -1.03v-2.06zM332.65 117.58l1.78 1.03v2.06l-1.78 1.03l-1.78 -1.03v-2.06zM336.22 117.58l1.78 1.03v2.06l-1.78 1.03l-1.78 -1.03v-2.06zM316.59 114.49l1.78 1.03v2.06l-1.78 1.03l-1.78 -1.03v-2.06zM330.86 114.49l1.78 1.03v2.06l-1.78 1.03l-1.78 -1.03v-2.06zM334.43 114.49l1.78 1.03v2.06l-1.78 1.03l-1.78 -1.03v-2.06zM318.38 111.40l1.78 1.03v2.06l-1.78 1.03l-1.78 -1.03v-2.06zM336.22 111.40l1.78 1.03v2.06l-1.78 1.03l-1.78 -1.03v-2.06zM339.78 111.40l1.78 1.03v2.06l-1.78 1.03l-1.78 -1.03v-2.06zM320.16 108.31l1.78 1.03v2.06l-1.78 1.03l-1.78 -1.03v-2.06zM338.00 108.31l1.78 1.03v2.06l-1.78 1.03l-1.78 -1.03v-2.06zM321.95 105.22l1.78 1.03v2.06l-1.78 1.03l-1.78 -1.03v-2.06zM325.51 105.22l1.78 1.03v2.06l-1.78 1.03l-1.78 -1.03v-2.06zM339.78 105.22l1.78 1.03v2.06l-1.78 1.03l-1.78 -1.03v-2.06zM343.35 105.22l1.78 1.03v2.06l-1.78 1.03l-1.78 -1.03v-2.06zM323.73 102.13l1.78 1.03v2.06l-1.78 1.03l-1.78 -1.03v-2.06zM330.86 102.13l1.78 1.03v2.06l-1.78 1.03l-1.78 -1.03v-2.06zM336.22 99.04l1.78 1.03v2.06l-1.78 1.03l-1.78 -1.03v-2.06zM343.35 99.04l1.78 1.03v2.06l-1.78 1.03l-1.78 -1.03v-2.06zM334.43 95.95l1.78 1.03v2.06l-1.78 1.03l-1.78 -1.03v-2.06zM341.57 95.95l1.78 1.03v2.06l-1.78 1.03l-1.78 -1.03v-2.06zM345.14 95.95l1.78 1.03v2.06l-1.78 1.03l-1.78 -1.03v-2.06zM343.35 92.86l1.78 1.03v2.06l-1.78 1.03l-1.78 -1.03v-2.06zM346.92 92.86l1.78 1.03v2.06l-1.78 1.03l-1.78 -1.03v-2.06zM338.00 89.77l1.78 1.03v2.06l-1.78 1.03l-1.78 -1.03v-2.06zM341.57 89.77l1.78 1.03v2.06l-1.78 1.03l-1.78 -1.03v-2.06zM348.70 89.77l1.78 1.03v2.06l-1.78 1.03l-1.78 -1.03v-2.06zM343.35 86.68l1.78 1.03v2.06l-1.78 1.03l-1.78 -1.03v-2.06zM345.14 83.59l1.78 1.03v2.06l-1.78 1.03l-1.78 -1.03v-2.06zM348.70 83.59l1.78 1.03v2.06l-1.78 1.03l-1.78 -1.03v-2.06zM352.27 83.59l1.78 1.03v2.06l-1.78 1.03l-1.78 -1.03v-2.06z"/><path fill="#6379ba" stroke="#6379ba" stroke-width="0.35" stroke-linejoin="round" d="M323.73 126.85l1.78 1.03v2.06l-1.78 1.03l-1.78 -1.03v-2.06zM338.00 114.49l1.78 1.03v2.06l-1.78 1.03l-1.78 -1.03v-2.06zM321.95 111.40l1.78 1.03v2.06l-1.78 1.03l-1.78 -1.03v-2.06zM332.65 111.40l1.78 1.03v2.06l-1.78 1.03l-1.78 -1.03v-2.06zM323.73 108.31l1.78 1.03v2.06l-1.78 1.03l-1.78 -1.03v-2.06zM334.43 102.13l1.78 1.03v2.06l-1.78 1.03l-1.78 -1.03v-2.06zM338.00 102.13l1.78 1.03v2.06l-1.78 1.03l-1.78 -1.03v-2.06zM341.57 102.13l1.78 1.03v2.06l-1.78 1.03l-1.78 -1.03v-2.06zM332.65 99.04l1.78 1.03v2.06l-1.78 1.03l-1.78 -1.03v-2.06zM339.78 99.04l1.78 1.03v2.06l-1.78 1.03l-1.78 -1.03v-2.06zM338.00 95.95l1.78 1.03v2.06l-1.78 1.03l-1.78 -1.03v-2.06zM339.78 92.86l1.78 1.03v2.06l-1.78 1.03l-1.78 -1.03v-2.06zM345.14 89.77l1.78 1.03v2.06l-1.78 1.03l-1.78 -1.03v-2.06zM346.92 86.68l1.78 1.03v2.06l-1.78 1.03l-1.78 -1.03v-2.06z"/><path fill="#767bb0" stroke="#767bb0" stroke-width="0.35" stroke-linejoin="round" d="M304.11 129.94l1.78 1.03v2.06l-1.78 1.03l-1.78 -1.03v-2.06zM313.03 120.67l1.78 1.03v2.06l-1.78 1.03l-1.78 -1.03v-2.06zM329.08 105.22l1.78 1.03v2.06l-1.78 1.03l-1.78 -1.03v-2.06z"/><path fill="#877ea6" stroke="#877ea6" stroke-width="0.35" stroke-linejoin="round" d="M296.97 142.30l1.78 1.03v2.06l-1.78 1.03l-1.78 -1.03v-2.06zM307.67 142.30l1.78 1.03v2.06l-1.78 1.03l-1.78 -1.03v-2.06zM309.46 139.21l1.78 1.03v2.06l-1.78 1.03l-1.78 -1.03v-2.06zM300.54 136.12l1.78 1.03v2.06l-1.78 1.03l-1.78 -1.03v-2.06zM309.46 126.85l1.78 1.03v2.06l-1.78 1.03l-1.78 -1.03v-2.06zM320.16 126.85l1.78 1.03v2.06l-1.78 1.03l-1.78 -1.03v-2.06zM311.24 123.76l1.78 1.03v2.06l-1.78 1.03l-1.78 -1.03v-2.06zM321.95 117.58l1.78 1.03v2.06l-1.78 1.03l-1.78 -1.03v-2.06zM334.43 108.31l1.78 1.03v2.06l-1.78 1.03l-1.78 -1.03v-2.06zM336.22 105.22l1.78 1.03v2.06l-1.78 1.03l-1.78 -1.03v-2.06z"/><path fill="#958199" stroke="#958199" stroke-width="0.35" stroke-linejoin="round" d="M302.32 145.39l1.78 1.03v2.06l-1.78 1.03l-1.78 -1.03v-2.06zM311.24 136.12l1.78 1.03v2.06l-1.78 1.03l-1.78 -1.03v-2.06zM302.32 133.03l1.78 1.03v2.06l-1.78 1.03l-1.78 -1.03v-2.06zM316.59 133.03l1.78 1.03v2.06l-1.78 1.03l-1.78 -1.03v-2.06zM307.67 129.94l1.78 1.03v2.06l-1.78 1.03l-1.78 -1.03v-2.06zM316.59 120.67l1.78 1.03v2.06l-1.78 1.03l-1.78 -1.03v-2.06zM318.38 117.58l1.78 1.03v2.06l-1.78 1.03l-1.78 -1.03v-2.06zM325.51 117.58l1.78 1.03v2.06l-1.78 1.03l-1.78 -1.03v-2.06zM320.16 114.49l1.78 1.03v2.06l-1.78 1.03l-1.78 -1.03v-2.06zM323.73 114.49l1.78 1.03v2.06l-1.78 1.03l-1.78 -1.03v-2.06zM327.30 114.49l1.78 1.03v2.06l-1.78 1.03l-1.78 -1.03v-2.06zM325.51 111.40l1.78 1.03v2.06l-1.78 1.03l-1.78 -1.03v-2.06z"/><path fill="#a28493" stroke="#a28493" stroke-width="0.35" stroke-linejoin="round" d="M318.38 129.94l1.78 1.03v2.06l-1.78 1.03l-1.78 -1.03v-2.06zM321.95 123.76l1.78 1.03v2.06l-1.78 1.03l-1.78 -1.03v-2.06zM323.73 120.67l1.78 1.03v2.06l-1.78 1.03l-1.78 -1.03v-2.06zM329.08 111.40l1.78 1.03v2.06l-1.78 1.03l-1.78 -1.03v-2.06zM327.30 108.31l1.78 1.03v2.06l-1.78 1.03l-1.78 -1.03v-2.06zM330.86 108.31l1.78 1.03v2.06l-1.78 1.03l-1.78 -1.03v-2.06zM332.65 105.22l1.78 1.03v2.06l-1.78 1.03l-1.78 -1.03v-2.06z"/><path fill="#cc916a" stroke="#cc916a" stroke-width="0.35" stroke-linejoin="round" d="M313.03 126.85l1.78 1.03v2.06l-1.78 1.03l-1.78 -1.03v-2.06z"/><path fill="#de9753" stroke="#de9753" stroke-width="0.35" stroke-linejoin="round" d="M304.11 136.12l1.78 1.03v2.06l-1.78 1.03l-1.78 -1.03v-2.06zM318.38 123.76l1.78 1.03v2.06l-1.78 1.03l-1.78 -1.03v-2.06z"/><path fill="#ef9e38" stroke="#ef9e38" stroke-width="0.35" stroke-linejoin="round" d="M300.54 142.30l1.78 1.03v2.06l-1.78 1.03l-1.78 -1.03v-2.06zM302.32 139.21l1.78 1.03v2.06l-1.78 1.03l-1.78 -1.03v-2.06zM309.46 133.03l1.78 1.03v2.06l-1.78 1.03l-1.78 -1.03v-2.06zM316.59 126.85l1.78 1.03v2.06l-1.78 1.03l-1.78 -1.03v-2.06z"/><path fill="#ffa500" stroke="#ffa500" stroke-width="0.35" stroke-linejoin="round" d="M307.67 136.12l1.78 1.03v2.06l-1.78 1.03l-1.78 -1.03v-2.06zM314.81 129.94l1.78 1.03v2.06l-1.78 1.03l-1.78 -1.03v-2.06zM314.81 123.76l1.78 1.03v2.06l-1.78 1.03l-1.78 -1.03v-2.06zM320.16 120.67l1.78 1.03v2.06l-1.78 1.03l-1.78 -1.03v-2.06z"/><path fill="#ffbc00" stroke="#ffbc00" stroke-width="0.35" stroke-linejoin="round" d="M304.11 142.30l1.78 1.03v2.06l-1.78 1.03l-1.78 -1.03v-2.06zM313.03 133.03l1.78 1.03v2.06l-1.78 1.03l-1.78 -1.03v-2.06z"/><path fill="#ffe900" stroke="#ffe900" stroke-width="0.35" stroke-linejoin="round" d="M305.89 139.21l1.78 1.03v2.06l-1.78 1.03l-1.78 -1.03v-2.06zM305.89 133.03l1.78 1.03v2.06l-1.78 1.03l-1.78 -1.03v-2.06z"/><path fill="#ffff00" stroke="#ffff00" stroke-width="0.35" stroke-linejoin="round" d="M298.75 139.21l1.78 1.03v2.06l-1.78 1.03l-1.78 -1.03v-2.06zM311.24 129.94l1.78 1.03v2.06l-1.78 1.03l-1.78 -1.03v-2.06z"/><path fill="#808080" stroke="#808080" stroke-width="0.35" stroke-linejoin="round" d="M293.40 148.48l1.78 1.03v2.06l-1.78 1.03l-1.78 -1.03v-2.06zM296.97 148.48l1.78 1.03v2.06l-1.78 1.03l-1.78 -1.03v-2.06zM298.75 145.39l1.78 1.03v2.06l-1.78 1.03l-1.78 -1.03v-2.06zM295.19 151.57l1.78 1.03v2.06l-1.78 1.03l-1.78 -1.03v-2.06z"/></g>
<line x1="286.5" y1="157.5" x2="428.5" y2="15.5" stroke="#000" stroke-opacity="0.48" stroke-width="1.1"/>
<rect x="286.5" y="15.5" width="142" height="142" fill="none" stroke="#333" stroke-width="1.25"/>
<path d="M292.59 157.5v3M286.5 151.41h-3M326.40 157.5v3M286.5 117.60h-3M360.20 157.5v3M286.5 83.80h-3M394.01 157.5v3M286.5 49.99h-3M427.82 157.5v3M286.5 16.18h-3" stroke="#333" stroke-width="1" fill="none"/>
<text x="292.59" y="170.70" font-size="10.5" text-anchor="middle" fill="#000">0</text>
<text x="281.00" y="155.41" font-size="10.5" text-anchor="end" fill="#000">0</text>
<text x="326.40" y="170.70" font-size="10.5" text-anchor="middle" fill="#000">300</text>
<text x="281.00" y="121.60" font-size="10.5" text-anchor="end" fill="#000">300</text>
<text x="360.20" y="170.70" font-size="10.5" text-anchor="middle" fill="#000">600</text>
<text x="281.00" y="87.80" font-size="10.5" text-anchor="end" fill="#000">600</text>
<text x="394.01" y="170.70" font-size="10.5" text-anchor="middle" fill="#000">900</text>
<text x="281.00" y="53.99" font-size="10.5" text-anchor="end" fill="#000">900</text>
<text x="427.82" y="170.70" font-size="10.5" text-anchor="middle" fill="#000">1200</text>
<text x="281.00" y="20.18" font-size="10.5" text-anchor="end" fill="#000">1200</text>
<text x="357.50" y="7.5" font-size="10.7" font-weight="bold" text-anchor="middle">Volume − pine</text>
<text x="357.50" y="185.50" font-size="10.6" text-anchor="middle"><tspan>Predicted volume (m</tspan><tspan font-size="7.1" dy="-4.5">3</tspan><tspan dy="4.5"> · ha</tspan><tspan font-size="7.1" dy="-4.5">−1</tspan><tspan dy="4.5">)</tspan></text>
<text transform="translate(250.90,86.50) rotate(-90)" font-size="10.6" text-anchor="middle"><tspan>Field measured volume (m</tspan><tspan font-size="7.1" dy="-4.5">3</tspan><tspan dy="4.5"> · ha</tspan><tspan font-size="7.1" dy="-4.5">−1</tspan><tspan dy="4.5">)</tspan></text>
<clipPath id="c526_15"><rect x="526.5" y="15.5" width="142" height="142"/></clipPath><g clip-path="url(#c526_15)"><path fill="#1f72cf" stroke="#1f72cf" stroke-width="0.35" stroke-linejoin="round" d="M529.68 148.48l1.78 1.03v2.06l-1.78 1.03l-1.78 -1.03v-2.06zM533.25 148.48l1.78 1.03v2.06l-1.78 1.03l-1.78 -1.03v-2.06zM540.39 148.48l1.78 1.03v2.06l-1.78 1.03l-1.78 -1.03v-2.06zM543.95 148.48l1.78 1.03v2.06l-1.78 1.03l-1.78 -1.03v-2.06zM547.52 142.30l1.78 1.03v2.06l-1.78 1.03l-1.78 -1.03v-2.06zM551.09 142.30l1.78 1.03v2.06l-1.78 1.03l-1.78 -1.03v-2.06zM554.66 142.30l1.78 1.03v2.06l-1.78 1.03l-1.78 -1.03v-2.06zM556.44 139.21l1.78 1.03v2.06l-1.78 1.03l-1.78 -1.03v-2.06zM554.66 136.12l1.78 1.03v2.06l-1.78 1.03l-1.78 -1.03v-2.06zM558.23 136.12l1.78 1.03v2.06l-1.78 1.03l-1.78 -1.03v-2.06zM535.03 133.03l1.78 1.03v2.06l-1.78 1.03l-1.78 -1.03v-2.06zM560.01 133.03l1.78 1.03v2.06l-1.78 1.03l-1.78 -1.03v-2.06zM563.58 133.03l1.78 1.03v2.06l-1.78 1.03l-1.78 -1.03v-2.06zM540.39 129.94l1.78 1.03v2.06l-1.78 1.03l-1.78 -1.03v-2.06zM561.79 129.94l1.78 1.03v2.06l-1.78 1.03l-1.78 -1.03v-2.06zM542.17 126.85l1.78 1.03v2.06l-1.78 1.03l-1.78 -1.03v-2.06zM563.58 126.85l1.78 1.03v2.06l-1.78 1.03l-1.78 -1.03v-2.06zM567.14 126.85l1.78 1.03v2.06l-1.78 1.03l-1.78 -1.03v-2.06zM540.39 123.76l1.78 1.03v2.06l-1.78 1.03l-1.78 -1.03v-2.06zM543.95 123.76l1.78 1.03v2.06l-1.78 1.03l-1.78 -1.03v-2.06zM565.36 123.76l1.78 1.03v2.06l-1.78 1.03l-1.78 -1.03v-2.06zM568.93 123.76l1.78 1.03v2.06l-1.78 1.03l-1.78 -1.03v-2.06zM542.17 120.67l1.78 1.03v2.06l-1.78 1.03l-1.78 -1.03v-2.06zM549.31 120.67l1.78 1.03v2.06l-1.78 1.03l-1.78 -1.03v-2.06zM567.14 120.67l1.78 1.03v2.06l-1.78 1.03l-1.78 -1.03v-2.06zM543.95 117.58l1.78 1.03v2.06l-1.78 1.03l-1.78 -1.03v-2.06zM568.93 117.58l1.78 1.03v2.06l-1.78 1.03l-1.78 -1.03v-2.06zM572.50 117.58l1.78 1.03v2.06l-1.78 1.03l-1.78 -1.03v-2.06zM576.06 117.58l1.78 1.03v2.06l-1.78 1.03l-1.78 -1.03v-2.06zM545.74 114.49l1.78 1.03v2.06l-1.78 1.03l-1.78 -1.03v-2.06zM574.28 114.49l1.78 1.03v2.06l-1.78 1.03l-1.78 -1.03v-2.06zM547.52 111.40l1.78 1.03v2.06l-1.78 1.03l-1.78 -1.03v-2.06zM551.09 111.40l1.78 1.03v2.06l-1.78 1.03l-1.78 -1.03v-2.06zM576.06 111.40l1.78 1.03v2.06l-1.78 1.03l-1.78 -1.03v-2.06zM552.87 108.31l1.78 1.03v2.06l-1.78 1.03l-1.78 -1.03v-2.06zM556.44 108.31l1.78 1.03v2.06l-1.78 1.03l-1.78 -1.03v-2.06zM554.66 105.22l1.78 1.03v2.06l-1.78 1.03l-1.78 -1.03v-2.06zM576.06 105.22l1.78 1.03v2.06l-1.78 1.03l-1.78 -1.03v-2.06zM556.44 102.13l1.78 1.03v2.06l-1.78 1.03l-1.78 -1.03v-2.06zM570.71 102.13l1.78 1.03v2.06l-1.78 1.03l-1.78 -1.03v-2.06zM574.28 102.13l1.78 1.03v2.06l-1.78 1.03l-1.78 -1.03v-2.06zM577.85 102.13l1.78 1.03v2.06l-1.78 1.03l-1.78 -1.03v-2.06zM558.23 99.04l1.78 1.03v2.06l-1.78 1.03l-1.78 -1.03v-2.06zM561.79 99.04l1.78 1.03v2.06l-1.78 1.03l-1.78 -1.03v-2.06zM565.36 99.04l1.78 1.03v2.06l-1.78 1.03l-1.78 -1.03v-2.06zM568.93 99.04l1.78 1.03v2.06l-1.78 1.03l-1.78 -1.03v-2.06zM572.50 99.04l1.78 1.03v2.06l-1.78 1.03l-1.78 -1.03v-2.06zM576.06 99.04l1.78 1.03v2.06l-1.78 1.03l-1.78 -1.03v-2.06zM579.63 99.04l1.78 1.03v2.06l-1.78 1.03l-1.78 -1.03v-2.06zM561.79 92.86l1.78 1.03v2.06l-1.78 1.03l-1.78 -1.03v-2.06zM572.50 92.86l1.78 1.03v2.06l-1.78 1.03l-1.78 -1.03v-2.06zM574.28 95.95l1.78 1.03v2.06l-1.78 1.03l-1.78 -1.03v-2.06zM581.42 95.95l1.78 1.03v2.06l-1.78 1.03l-1.78 -1.03v-2.06zM583.20 99.04l1.78 1.03v2.06l-1.78 1.03l-1.78 -1.03v-2.06zM583.20 68.14l1.78 1.03v2.06l-1.78 1.03l-1.78 -1.03v-2.06zM579.63 80.50l1.78 1.03v2.06l-1.78 1.03l-1.78 -1.03v-2.06zM590.34 92.86l1.78 1.03v2.06l-1.78 1.03l-1.78 -1.03v-2.06zM590.34 105.22l1.78 1.03v2.06l-1.78 1.03l-1.78 -1.03v-2.06zM584.98 114.49l1.78 1.03v2.06l-1.78 1.03l-1.78 -1.03v-2.06zM576.06 129.94l1.78 1.03v2.06l-1.78 1.03l-1.78 -1.03v-2.06zM563.58 139.21l1.78 1.03v2.06l-1.78 1.03l-1.78 -1.03v-2.06zM561.79 142.30l1.78 1.03v2.06l-1.78 1.03l-1.78 -1.03v-2.06z"/><path fill="#4a76c4" stroke="#4a76c4" stroke-width="0.35" stroke-linejoin="round" d="M531.47 145.39l1.78 1.03v2.06l-1.78 1.03l-1.78 -1.03v-2.06zM545.74 145.39l1.78 1.03v2.06l-1.78 1.03l-1.78 -1.03v-2.06zM533.25 142.30l1.78 1.03v2.06l-1.78 1.03l-1.78 -1.03v-2.06zM535.03 139.21l1.78 1.03v2.06l-1.78 1.03l-1.78 -1.03v-2.06zM549.31 139.21l1.78 1.03v2.06l-1.78 1.03l-1.78 -1.03v-2.06zM552.87 139.21l1.78 1.03v2.06l-1.78 1.03l-1.78 -1.03v-2.06zM536.82 136.12l1.78 1.03v2.06l-1.78 1.03l-1.78 -1.03v-2.06zM538.60 133.03l1.78 1.03v2.06l-1.78 1.03l-1.78 -1.03v-2.06zM556.44 133.03l1.78 1.03v2.06l-1.78 1.03l-1.78 -1.03v-2.06zM558.23 129.94l1.78 1.03v2.06l-1.78 1.03l-1.78 -1.03v-2.06zM565.36 129.94l1.78 1.03v2.06l-1.78 1.03l-1.78 -1.03v-2.06zM545.74 126.85l1.78 1.03v2.06l-1.78 1.03l-1.78 -1.03v-2.06zM560.01 126.85l1.78 1.03v2.06l-1.78 1.03l-1.78 -1.03v-2.06zM547.52 123.76l1.78 1.03v2.06l-1.78 1.03l-1.78 -1.03v-2.06zM570.71 120.67l1.78 1.03v2.06l-1.78 1.03l-1.78 -1.03v-2.06zM547.52 117.58l1.78 1.03v2.06l-1.78 1.03l-1.78 -1.03v-2.06zM551.09 117.58l1.78 1.03v2.06l-1.78 1.03l-1.78 -1.03v-2.06zM554.66 117.58l1.78 1.03v2.06l-1.78 1.03l-1.78 -1.03v-2.06zM549.31 114.49l1.78 1.03v2.06l-1.78 1.03l-1.78 -1.03v-2.06zM556.44 114.49l1.78 1.03v2.06l-1.78 1.03l-1.78 -1.03v-2.06zM560.01 114.49l1.78 1.03v2.06l-1.78 1.03l-1.78 -1.03v-2.06zM570.71 114.49l1.78 1.03v2.06l-1.78 1.03l-1.78 -1.03v-2.06zM558.23 111.40l1.78 1.03v2.06l-1.78 1.03l-1.78 -1.03v-2.06zM561.79 111.40l1.78 1.03v2.06l-1.78 1.03l-1.78 -1.03v-2.06zM565.36 111.40l1.78 1.03v2.06l-1.78 1.03l-1.78 -1.03v-2.06zM568.93 111.40l1.78 1.03v2.06l-1.78 1.03l-1.78 -1.03v-2.06zM572.50 111.40l1.78 1.03v2.06l-1.78 1.03l-1.78 -1.03v-2.06zM560.01 108.31l1.78 1.03v2.06l-1.78 1.03l-1.78 -1.03v-2.06zM563.58 108.31l1.78 1.03v2.06l-1.78 1.03l-1.78 -1.03v-2.06zM567.14 108.31l1.78 1.03v2.06l-1.78 1.03l-1.78 -1.03v-2.06zM574.28 108.31l1.78 1.03v2.06l-1.78 1.03l-1.78 -1.03v-2.06zM558.23 105.22l1.78 1.03v2.06l-1.78 1.03l-1.78 -1.03v-2.06zM561.79 105.22l1.78 1.03v2.06l-1.78 1.03l-1.78 -1.03v-2.06zM565.36 105.22l1.78 1.03v2.06l-1.78 1.03l-1.78 -1.03v-2.06zM567.14 102.13l1.78 1.03v2.06l-1.78 1.03l-1.78 -1.03v-2.06z"/><path fill="#6379ba" stroke="#6379ba" stroke-width="0.35" stroke-linejoin="round" d="M551.09 136.12l1.78 1.03v2.06l-1.78 1.03l-1.78 -1.03v-2.06zM545.74 120.67l1.78 1.03v2.06l-1.78 1.03l-1.78 -1.03v-2.06zM567.14 114.49l1.78 1.03v2.06l-1.78 1.03l-1.78 -1.03v-2.06zM554.66 111.40l1.78 1.03v2.06l-1.78 1.03l-1.78 -1.03v-2.06zM570.71 108.31l1.78 1.03v2.06l-1.78 1.03l-1.78 -1.03v-2.06z"/><path fill="#767bb0" stroke="#767bb0" stroke-width="0.35" stroke-linejoin="round" d="M542.17 145.39l1.78 1.03v2.06l-1.78 1.03l-1.78 -1.03v-2.06zM543.95 129.94l1.78 1.03v2.06l-1.78 1.03l-1.78 -1.03v-2.06zM552.87 120.67l1.78 1.03v2.06l-1.78 1.03l-1.78 -1.03v-2.06z"/><path fill="#877ea6" stroke="#877ea6" stroke-width="0.35" stroke-linejoin="round" d="M540.39 136.12l1.78 1.03v2.06l-1.78 1.03l-1.78 -1.03v-2.06zM542.17 133.03l1.78 1.03v2.06l-1.78 1.03l-1.78 -1.03v-2.06zM552.87 133.03l1.78 1.03v2.06l-1.78 1.03l-1.78 -1.03v-2.06zM552.87 126.85l1.78 1.03v2.06l-1.78 1.03l-1.78 -1.03v-2.06zM551.09 123.76l1.78 1.03v2.06l-1.78 1.03l-1.78 -1.03v-2.06zM561.79 123.76l1.78 1.03v2.06l-1.78 1.03l-1.78 -1.03v-2.06zM563.58 120.67l1.78 1.03v2.06l-1.78 1.03l-1.78 -1.03v-2.06zM558.23 117.58l1.78 1.03v2.06l-1.78 1.03l-1.78 -1.03v-2.06zM565.36 117.58l1.78 1.03v2.06l-1.78 1.03l-1.78 -1.03v-2.06zM563.58 114.49l1.78 1.03v2.06l-1.78 1.03l-1.78 -1.03v-2.06z"/><path fill="#958199" stroke="#958199" stroke-width="0.35" stroke-linejoin="round" d="M536.82 142.30l1.78 1.03v2.06l-1.78 1.03l-1.78 -1.03v-2.06zM551.09 129.94l1.78 1.03v2.06l-1.78 1.03l-1.78 -1.03v-2.06zM554.66 129.94l1.78 1.03v2.06l-1.78 1.03l-1.78 -1.03v-2.06zM549.31 126.85l1.78 1.03v2.06l-1.78 1.03l-1.78 -1.03v-2.06zM554.66 123.76l1.78 1.03v2.06l-1.78 1.03l-1.78 -1.03v-2.06zM558.23 123.76l1.78 1.03v2.06l-1.78 1.03l-1.78 -1.03v-2.06zM556.44 120.67l1.78 1.03v2.06l-1.78 1.03l-1.78 -1.03v-2.06zM560.01 120.67l1.78 1.03v2.06l-1.78 1.03l-1.78 -1.03v-2.06zM561.79 117.58l1.78 1.03v2.06l-1.78 1.03l-1.78 -1.03v-2.06z"/><path fill="#a28493" stroke="#a28493" stroke-width="0.35" stroke-linejoin="round" d="M547.52 129.94l1.78 1.03v2.06l-1.78 1.03l-1.78 -1.03v-2.06zM556.44 126.85l1.78 1.03v2.06l-1.78 1.03l-1.78 -1.03v-2.06z"/><path fill="#b88a7f" stroke="#b88a7f" stroke-width="0.35" stroke-linejoin="round" d="M547.52 136.12l1.78 1.03v2.06l-1.78 1.03l-1.78 -1.03v-2.06z"/><path fill="#cc916a" stroke="#cc916a" stroke-width="0.35" stroke-linejoin="round" d="M545.74 133.03l1.78 1.03v2.06l-1.78 1.03l-1.78 -1.03v-2.06z"/><path fill="#de9753" stroke="#de9753" stroke-width="0.35" stroke-linejoin="round" d="M540.39 142.30l1.78 1.03v2.06l-1.78 1.03l-1.78 -1.03v-2.06zM542.17 139.21l1.78 1.03v2.06l-1.78 1.03l-1.78 -1.03v-2.06z"/><path fill="#ef9e38" stroke="#ef9e38" stroke-width="0.35" stroke-linejoin="round" d="M543.95 142.30l1.78 1.03v2.06l-1.78 1.03l-1.78 -1.03v-2.06zM538.60 139.21l1.78 1.03v2.06l-1.78 1.03l-1.78 -1.03v-2.06z"/><path fill="#ffa500" stroke="#ffa500" stroke-width="0.35" stroke-linejoin="round" d="M545.74 139.21l1.78 1.03v2.06l-1.78 1.03l-1.78 -1.03v-2.06zM549.31 133.03l1.78 1.03v2.06l-1.78 1.03l-1.78 -1.03v-2.06z"/><path fill="#ffbc00" stroke="#ffbc00" stroke-width="0.35" stroke-linejoin="round" d="M543.95 136.12l1.78 1.03v2.06l-1.78 1.03l-1.78 -1.03v-2.06z"/><path fill="#ffd300" stroke="#ffd300" stroke-width="0.35" stroke-linejoin="round" d="M536.82 148.48l1.78 1.03v2.06l-1.78 1.03l-1.78 -1.03v-2.06z"/><path fill="#808080" stroke="#808080" stroke-width="0.35" stroke-linejoin="round" d="M535.03 145.39l1.78 1.03v2.06l-1.78 1.03l-1.78 -1.03v-2.06zM538.60 145.39l1.78 1.03v2.06l-1.78 1.03l-1.78 -1.03v-2.06z"/></g>
<line x1="526.5" y1="157.5" x2="668.5" y2="15.5" stroke="#000" stroke-opacity="0.48" stroke-width="1.1"/>
<rect x="526.5" y="15.5" width="142" height="142" fill="none" stroke="#333" stroke-width="1.25"/>
<path d="M532.59 157.5v3M526.5 151.41h-3M566.40 157.5v3M526.5 117.60h-3M600.20 157.5v3M526.5 83.80h-3M634.01 157.5v3M526.5 49.99h-3M667.82 157.5v3M526.5 16.18h-3" stroke="#333" stroke-width="1" fill="none"/>
<text x="532.59" y="170.70" font-size="10.5" text-anchor="middle" fill="#000">0</text>
<text x="521.00" y="155.41" font-size="10.5" text-anchor="end" fill="#000">0</text>
<text x="566.40" y="170.70" font-size="10.5" text-anchor="middle" fill="#000">300</text>
<text x="521.00" y="121.60" font-size="10.5" text-anchor="end" fill="#000">300</text>
<text x="600.20" y="170.70" font-size="10.5" text-anchor="middle" fill="#000">600</text>
<text x="521.00" y="87.80" font-size="10.5" text-anchor="end" fill="#000">600</text>
<text x="634.01" y="170.70" font-size="10.5" text-anchor="middle" fill="#000">900</text>
<text x="521.00" y="53.99" font-size="10.5" text-anchor="end" fill="#000">900</text>
<text x="667.82" y="170.70" font-size="10.5" text-anchor="middle" fill="#000">1200</text>
<text x="521.00" y="20.18" font-size="10.5" text-anchor="end" fill="#000">1200</text>
<text x="597.50" y="7.5" font-size="10.7" font-weight="bold" text-anchor="middle">Volume − deciduous</text>
<text x="597.50" y="185.50" font-size="10.6" text-anchor="middle"><tspan>Predicted volume (m</tspan><tspan font-size="7.1" dy="-4.5">3</tspan><tspan dy="4.5"> · ha</tspan><tspan font-size="7.1" dy="-4.5">−1</tspan><tspan dy="4.5">)</tspan></text>
<text transform="translate(490.90,86.50) rotate(-90)" font-size="10.6" text-anchor="middle"><tspan>Field measured volume (m</tspan><tspan font-size="7.1" dy="-4.5">3</tspan><tspan dy="4.5"> · ha</tspan><tspan font-size="7.1" dy="-4.5">−1</tspan><tspan dy="4.5">)</tspan></text>
<clipPath id="c34_235"><rect x="34.5" y="235.5" width="149" height="149"/></clipPath><g clip-path="url(#c34_235)"><path fill="#1f72cf" stroke="#1f72cf" stroke-width="0.35" stroke-linejoin="round" d="M68.35 356.16l1.87 1.08v2.16l-1.87 1.08l-1.87 -1.08v-2.16zM73.96 352.92l1.87 1.08v2.16l-1.87 1.08l-1.87 -1.08v-2.16zM64.60 349.68l1.87 1.08v2.16l-1.87 1.08l-1.87 -1.08v-2.16zM79.58 349.68l1.87 1.08v2.16l-1.87 1.08l-1.87 -1.08v-2.16zM81.45 346.43l1.87 1.08v2.16l-1.87 1.08l-1.87 -1.08v-2.16zM64.60 343.19l1.87 1.08v2.16l-1.87 1.08l-1.87 -1.08v-2.16zM83.32 343.19l1.87 1.08v2.16l-1.87 1.08l-1.87 -1.08v-2.16zM66.48 339.95l1.87 1.08v2.16l-1.87 1.08l-1.87 -1.08v-2.16zM90.81 336.71l1.87 1.08v2.16l-1.87 1.08l-1.87 -1.08v-2.16zM98.30 336.71l1.87 1.08v2.16l-1.87 1.08l-1.87 -1.08v-2.16zM66.48 333.47l1.87 1.08v2.16l-1.87 1.08l-1.87 -1.08v-2.16zM98.30 330.22l1.87 1.08v2.16l-1.87 1.08l-1.87 -1.08v-2.16zM70.22 326.98l1.87 1.08v2.16l-1.87 1.08l-1.87 -1.08v-2.16zM107.66 326.98l1.87 1.08v2.16l-1.87 1.08l-1.87 -1.08v-2.16zM72.09 323.74l1.87 1.08v2.16l-1.87 1.08l-1.87 -1.08v-2.16zM79.58 323.74l1.87 1.08v2.16l-1.87 1.08l-1.87 -1.08v-2.16zM81.45 320.50l1.87 1.08v2.16l-1.87 1.08l-1.87 -1.08v-2.16zM111.40 320.50l1.87 1.08v2.16l-1.87 1.08l-1.87 -1.08v-2.16zM87.07 317.26l1.87 1.08v2.16l-1.87 1.08l-1.87 -1.08v-2.16zM113.27 317.26l1.87 1.08v2.16l-1.87 1.08l-1.87 -1.08v-2.16zM88.94 314.01l1.87 1.08v2.16l-1.87 1.08l-1.87 -1.08v-2.16zM117.02 310.77l1.87 1.08v2.16l-1.87 1.08l-1.87 -1.08v-2.16zM92.68 307.53l1.87 1.08v2.16l-1.87 1.08l-1.87 -1.08v-2.16zM122.63 307.53l1.87 1.08v2.16l-1.87 1.08l-1.87 -1.08v-2.16zM98.30 304.29l1.87 1.08v2.16l-1.87 1.08l-1.87 -1.08v-2.16zM124.50 304.29l1.87 1.08v2.16l-1.87 1.08l-1.87 -1.08v-2.16zM103.91 301.04l1.87 1.08v2.16l-1.87 1.08l-1.87 -1.08v-2.16zM126.38 301.04l1.87 1.08v2.16l-1.87 1.08l-1.87 -1.08v-2.16zM124.50 297.80l1.87 1.08v2.16l-1.87 1.08l-1.87 -1.08v-2.16zM111.40 294.56l1.87 1.08v2.16l-1.87 1.08l-1.87 -1.08v-2.16zM126.38 294.56l1.87 1.08v2.16l-1.87 1.08l-1.87 -1.08v-2.16zM128.25 291.32l1.87 1.08v2.16l-1.87 1.08l-1.87 -1.08v-2.16zM115.14 288.08l1.87 1.08v2.16l-1.87 1.08l-1.87 -1.08v-2.16zM113.27 284.83l1.87 1.08v2.16l-1.87 1.08l-1.87 -1.08v-2.16zM135.73 284.83l1.87 1.08v2.16l-1.87 1.08l-1.87 -1.08v-2.16zM118.89 281.59l1.87 1.08v2.16l-1.87 1.08l-1.87 -1.08v-2.16zM122.63 281.59l1.87 1.08v2.16l-1.87 1.08l-1.87 -1.08v-2.16zM126.38 281.59l1.87 1.08v2.16l-1.87 1.08l-1.87 -1.08v-2.16zM85.19 307.53l1.87 1.08v2.16l-1.87 1.08l-1.87 -1.08v-2.16zM118.89 320.50l1.87 1.08v2.16l-1.87 1.08l-1.87 -1.08v-2.16zM109.53 336.71l1.87 1.08v2.16l-1.87 1.08l-1.87 -1.08v-2.16zM113.27 336.71l1.87 1.08v2.16l-1.87 1.08l-1.87 -1.08v-2.16zM141.35 262.14l1.87 1.08v2.16l-1.87 1.08l-1.87 -1.08v-2.16zM139.48 271.87l1.87 1.08v2.16l-1.87 1.08l-1.87 -1.08v-2.16zM145.09 288.08l1.87 1.08v2.16l-1.87 1.08l-1.87 -1.08v-2.16zM133.86 314.01l1.87 1.08v2.16l-1.87 1.08l-1.87 -1.08v-2.16zM103.91 288.08l1.87 1.08v2.16l-1.87 1.08l-1.87 -1.08v-2.16z"/><path fill="#4a76c4" stroke="#4a76c4" stroke-width="0.35" stroke-linejoin="round" d="M60.86 356.16l1.87 1.08v2.16l-1.87 1.08l-1.87 -1.08v-2.16zM64.60 356.16l1.87 1.08v2.16l-1.87 1.08l-1.87 -1.08v-2.16zM72.09 356.16l1.87 1.08v2.16l-1.87 1.08l-1.87 -1.08v-2.16zM62.73 352.92l1.87 1.08v2.16l-1.87 1.08l-1.87 -1.08v-2.16zM75.83 349.68l1.87 1.08v2.16l-1.87 1.08l-1.87 -1.08v-2.16zM66.48 346.43l1.87 1.08v2.16l-1.87 1.08l-1.87 -1.08v-2.16zM87.07 343.19l1.87 1.08v2.16l-1.87 1.08l-1.87 -1.08v-2.16zM88.94 339.95l1.87 1.08v2.16l-1.87 1.08l-1.87 -1.08v-2.16zM64.60 336.71l1.87 1.08v2.16l-1.87 1.08l-1.87 -1.08v-2.16zM68.35 336.71l1.87 1.08v2.16l-1.87 1.08l-1.87 -1.08v-2.16zM94.55 336.71l1.87 1.08v2.16l-1.87 1.08l-1.87 -1.08v-2.16zM70.22 333.47l1.87 1.08v2.16l-1.87 1.08l-1.87 -1.08v-2.16zM96.43 333.47l1.87 1.08v2.16l-1.87 1.08l-1.87 -1.08v-2.16zM68.35 330.22l1.87 1.08v2.16l-1.87 1.08l-1.87 -1.08v-2.16zM72.09 330.22l1.87 1.08v2.16l-1.87 1.08l-1.87 -1.08v-2.16zM102.04 330.22l1.87 1.08v2.16l-1.87 1.08l-1.87 -1.08v-2.16zM66.48 326.98l1.87 1.08v2.16l-1.87 1.08l-1.87 -1.08v-2.16zM73.96 326.98l1.87 1.08v2.16l-1.87 1.08l-1.87 -1.08v-2.16zM77.71 326.98l1.87 1.08v2.16l-1.87 1.08l-1.87 -1.08v-2.16zM103.91 326.98l1.87 1.08v2.16l-1.87 1.08l-1.87 -1.08v-2.16zM75.83 323.74l1.87 1.08v2.16l-1.87 1.08l-1.87 -1.08v-2.16zM109.53 323.74l1.87 1.08v2.16l-1.87 1.08l-1.87 -1.08v-2.16zM85.19 320.50l1.87 1.08v2.16l-1.87 1.08l-1.87 -1.08v-2.16zM115.14 314.01l1.87 1.08v2.16l-1.87 1.08l-1.87 -1.08v-2.16zM90.81 310.77l1.87 1.08v2.16l-1.87 1.08l-1.87 -1.08v-2.16zM96.43 307.53l1.87 1.08v2.16l-1.87 1.08l-1.87 -1.08v-2.16zM118.89 307.53l1.87 1.08v2.16l-1.87 1.08l-1.87 -1.08v-2.16zM102.04 304.29l1.87 1.08v2.16l-1.87 1.08l-1.87 -1.08v-2.16zM105.78 297.80l1.87 1.08v2.16l-1.87 1.08l-1.87 -1.08v-2.16zM109.53 297.80l1.87 1.08v2.16l-1.87 1.08l-1.87 -1.08v-2.16zM133.86 294.56l1.87 1.08v2.16l-1.87 1.08l-1.87 -1.08v-2.16zM113.27 291.32l1.87 1.08v2.16l-1.87 1.08l-1.87 -1.08v-2.16zM131.99 291.32l1.87 1.08v2.16l-1.87 1.08l-1.87 -1.08v-2.16zM133.86 288.08l1.87 1.08v2.16l-1.87 1.08l-1.87 -1.08v-2.16zM117.02 284.83l1.87 1.08v2.16l-1.87 1.08l-1.87 -1.08v-2.16zM120.76 284.83l1.87 1.08v2.16l-1.87 1.08l-1.87 -1.08v-2.16zM128.25 284.83l1.87 1.08v2.16l-1.87 1.08l-1.87 -1.08v-2.16zM139.48 284.83l1.87 1.08v2.16l-1.87 1.08l-1.87 -1.08v-2.16zM130.12 281.59l1.87 1.08v2.16l-1.87 1.08l-1.87 -1.08v-2.16zM133.86 281.59l1.87 1.08v2.16l-1.87 1.08l-1.87 -1.08v-2.16zM137.61 281.59l1.87 1.08v2.16l-1.87 1.08l-1.87 -1.08v-2.16zM128.25 278.35l1.87 1.08v2.16l-1.87 1.08l-1.87 -1.08v-2.16zM131.99 278.35l1.87 1.08v2.16l-1.87 1.08l-1.87 -1.08v-2.16zM135.73 278.35l1.87 1.08v2.16l-1.87 1.08l-1.87 -1.08v-2.16zM139.48 278.35l1.87 1.08v2.16l-1.87 1.08l-1.87 -1.08v-2.16z"/><path fill="#6379ba" stroke="#6379ba" stroke-width="0.35" stroke-linejoin="round" d="M94.55 310.77l1.87 1.08v2.16l-1.87 1.08l-1.87 -1.08v-2.16zM118.89 288.08l1.87 1.08v2.16l-1.87 1.08l-1.87 -1.08v-2.16zM124.50 284.83l1.87 1.08v2.16l-1.87 1.08l-1.87 -1.08v-2.16zM131.99 284.83l1.87 1.08v2.16l-1.87 1.08l-1.87 -1.08v-2.16z"/><path fill="#767bb0" stroke="#767bb0" stroke-width="0.35" stroke-linejoin="round" d="M75.83 330.22l1.87 1.08v2.16l-1.87 1.08l-1.87 -1.08v-2.16zM92.68 314.01l1.87 1.08v2.16l-1.87 1.08l-1.87 -1.08v-2.16zM122.63 288.08l1.87 1.08v2.16l-1.87 1.08l-1.87 -1.08v-2.16zM126.38 288.08l1.87 1.08v2.16l-1.87 1.08l-1.87 -1.08v-2.16z"/><path fill="#877ea6" stroke="#877ea6" stroke-width="0.35" stroke-linejoin="round" d="M72.09 349.68l1.87 1.08v2.16l-1.87 1.08l-1.87 -1.08v-2.16zM73.96 346.43l1.87 1.08v2.16l-1.87 1.08l-1.87 -1.08v-2.16zM68.35 343.19l1.87 1.08v2.16l-1.87 1.08l-1.87 -1.08v-2.16zM79.58 343.19l1.87 1.08v2.16l-1.87 1.08l-1.87 -1.08v-2.16zM70.22 339.95l1.87 1.08v2.16l-1.87 1.08l-1.87 -1.08v-2.16zM87.07 336.71l1.87 1.08v2.16l-1.87 1.08l-1.87 -1.08v-2.16zM92.68 333.47l1.87 1.08v2.16l-1.87 1.08l-1.87 -1.08v-2.16zM96.43 326.98l1.87 1.08v2.16l-1.87 1.08l-1.87 -1.08v-2.16zM83.32 323.74l1.87 1.08v2.16l-1.87 1.08l-1.87 -1.08v-2.16zM109.53 317.26l1.87 1.08v2.16l-1.87 1.08l-1.87 -1.08v-2.16zM111.40 314.01l1.87 1.08v2.16l-1.87 1.08l-1.87 -1.08v-2.16zM100.17 307.53l1.87 1.08v2.16l-1.87 1.08l-1.87 -1.08v-2.16zM103.91 307.53l1.87 1.08v2.16l-1.87 1.08l-1.87 -1.08v-2.16zM115.14 307.53l1.87 1.08v2.16l-1.87 1.08l-1.87 -1.08v-2.16zM117.02 304.29l1.87 1.08v2.16l-1.87 1.08l-1.87 -1.08v-2.16zM113.27 297.80l1.87 1.08v2.16l-1.87 1.08l-1.87 -1.08v-2.16zM118.89 294.56l1.87 1.08v2.16l-1.87 1.08l-1.87 -1.08v-2.16zM122.63 294.56l1.87 1.08v2.16l-1.87 1.08l-1.87 -1.08v-2.16zM117.02 291.32l1.87 1.08v2.16l-1.87 1.08l-1.87 -1.08v-2.16zM124.50 291.32l1.87 1.08v2.16l-1.87 1.08l-1.87 -1.08v-2.16z"/><path fill="#958199" stroke="#958199" stroke-width="0.35" stroke-linejoin="round" d="M66.48 352.92l1.87 1.08v2.16l-1.87 1.08l-1.87 -1.08v-2.16zM70.22 352.92l1.87 1.08v2.16l-1.87 1.08l-1.87 -1.08v-2.16zM68.35 349.68l1.87 1.08v2.16l-1.87 1.08l-1.87 -1.08v-2.16zM70.22 346.43l1.87 1.08v2.16l-1.87 1.08l-1.87 -1.08v-2.16zM77.71 346.43l1.87 1.08v2.16l-1.87 1.08l-1.87 -1.08v-2.16zM81.45 339.95l1.87 1.08v2.16l-1.87 1.08l-1.87 -1.08v-2.16zM85.19 339.95l1.87 1.08v2.16l-1.87 1.08l-1.87 -1.08v-2.16zM72.09 336.71l1.87 1.08v2.16l-1.87 1.08l-1.87 -1.08v-2.16zM73.96 333.47l1.87 1.08v2.16l-1.87 1.08l-1.87 -1.08v-2.16zM88.94 333.47l1.87 1.08v2.16l-1.87 1.08l-1.87 -1.08v-2.16zM94.55 330.22l1.87 1.08v2.16l-1.87 1.08l-1.87 -1.08v-2.16zM81.45 326.98l1.87 1.08v2.16l-1.87 1.08l-1.87 -1.08v-2.16zM100.17 326.98l1.87 1.08v2.16l-1.87 1.08l-1.87 -1.08v-2.16zM87.07 323.74l1.87 1.08v2.16l-1.87 1.08l-1.87 -1.08v-2.16zM102.04 323.74l1.87 1.08v2.16l-1.87 1.08l-1.87 -1.08v-2.16zM105.78 323.74l1.87 1.08v2.16l-1.87 1.08l-1.87 -1.08v-2.16zM88.94 320.50l1.87 1.08v2.16l-1.87 1.08l-1.87 -1.08v-2.16zM107.66 320.50l1.87 1.08v2.16l-1.87 1.08l-1.87 -1.08v-2.16zM90.81 317.26l1.87 1.08v2.16l-1.87 1.08l-1.87 -1.08v-2.16zM98.30 310.77l1.87 1.08v2.16l-1.87 1.08l-1.87 -1.08v-2.16zM113.27 310.77l1.87 1.08v2.16l-1.87 1.08l-1.87 -1.08v-2.16zM105.78 304.29l1.87 1.08v2.16l-1.87 1.08l-1.87 -1.08v-2.16zM120.76 304.29l1.87 1.08v2.16l-1.87 1.08l-1.87 -1.08v-2.16zM107.66 301.04l1.87 1.08v2.16l-1.87 1.08l-1.87 -1.08v-2.16zM111.40 301.04l1.87 1.08v2.16l-1.87 1.08l-1.87 -1.08v-2.16zM122.63 301.04l1.87 1.08v2.16l-1.87 1.08l-1.87 -1.08v-2.16zM117.02 297.80l1.87 1.08v2.16l-1.87 1.08l-1.87 -1.08v-2.16zM120.76 297.80l1.87 1.08v2.16l-1.87 1.08l-1.87 -1.08v-2.16zM115.14 294.56l1.87 1.08v2.16l-1.87 1.08l-1.87 -1.08v-2.16zM120.76 291.32l1.87 1.08v2.16l-1.87 1.08l-1.87 -1.08v-2.16z"/><path fill="#a28493" stroke="#a28493" stroke-width="0.35" stroke-linejoin="round" d="M79.58 330.22l1.87 1.08v2.16l-1.87 1.08l-1.87 -1.08v-2.16zM96.43 314.01l1.87 1.08v2.16l-1.87 1.08l-1.87 -1.08v-2.16z"/><path fill="#b88a7f" stroke="#b88a7f" stroke-width="0.35" stroke-linejoin="round" d="M72.09 343.19l1.87 1.08v2.16l-1.87 1.08l-1.87 -1.08v-2.16zM109.53 310.77l1.87 1.08v2.16l-1.87 1.08l-1.87 -1.08v-2.16zM107.66 307.53l1.87 1.08v2.16l-1.87 1.08l-1.87 -1.08v-2.16zM111.40 307.53l1.87 1.08v2.16l-1.87 1.08l-1.87 -1.08v-2.16zM109.53 304.29l1.87 1.08v2.16l-1.87 1.08l-1.87 -1.08v-2.16zM113.27 304.29l1.87 1.08v2.16l-1.87 1.08l-1.87 -1.08v-2.16zM115.14 301.04l1.87 1.08v2.16l-1.87 1.08l-1.87 -1.08v-2.16zM118.89 301.04l1.87 1.08v2.16l-1.87 1.08l-1.87 -1.08v-2.16z"/><path fill="#cc916a" stroke="#cc916a" stroke-width="0.35" stroke-linejoin="round" d="M77.71 333.47l1.87 1.08v2.16l-1.87 1.08l-1.87 -1.08v-2.16zM102.04 310.77l1.87 1.08v2.16l-1.87 1.08l-1.87 -1.08v-2.16z"/><path fill="#de9753" stroke="#de9753" stroke-width="0.35" stroke-linejoin="round" d="M94.55 317.26l1.87 1.08v2.16l-1.87 1.08l-1.87 -1.08v-2.16z"/><path fill="#ef9e38" stroke="#ef9e38" stroke-width="0.35" stroke-linejoin="round" d="M73.96 339.95l1.87 1.08v2.16l-1.87 1.08l-1.87 -1.08v-2.16zM77.71 339.95l1.87 1.08v2.16l-1.87 1.08l-1.87 -1.08v-2.16zM75.83 336.71l1.87 1.08v2.16l-1.87 1.08l-1.87 -1.08v-2.16zM79.58 336.71l1.87 1.08v2.16l-1.87 1.08l-1.87 -1.08v-2.16zM83.32 336.71l1.87 1.08v2.16l-1.87 1.08l-1.87 -1.08v-2.16zM81.45 333.47l1.87 1.08v2.16l-1.87 1.08l-1.87 -1.08v-2.16zM90.81 330.22l1.87 1.08v2.16l-1.87 1.08l-1.87 -1.08v-2.16zM98.30 323.74l1.87 1.08v2.16l-1.87 1.08l-1.87 -1.08v-2.16zM92.68 320.50l1.87 1.08v2.16l-1.87 1.08l-1.87 -1.08v-2.16zM103.91 320.50l1.87 1.08v2.16l-1.87 1.08l-1.87 -1.08v-2.16zM105.78 317.26l1.87 1.08v2.16l-1.87 1.08l-1.87 -1.08v-2.16zM100.17 314.01l1.87 1.08v2.16l-1.87 1.08l-1.87 -1.08v-2.16zM103.91 314.01l1.87 1.08v2.16l-1.87 1.08l-1.87 -1.08v-2.16zM107.66 314.01l1.87 1.08v2.16l-1.87 1.08l-1.87 -1.08v-2.16z"/><path fill="#ffa500" stroke="#ffa500" stroke-width="0.35" stroke-linejoin="round" d="M75.83 343.19l1.87 1.08v2.16l-1.87 1.08l-1.87 -1.08v-2.16zM85.19 326.98l1.87 1.08v2.16l-1.87 1.08l-1.87 -1.08v-2.16zM94.55 323.74l1.87 1.08v2.16l-1.87 1.08l-1.87 -1.08v-2.16zM105.78 310.77l1.87 1.08v2.16l-1.87 1.08l-1.87 -1.08v-2.16z"/><path fill="#ffbc00" stroke="#ffbc00" stroke-width="0.35" stroke-linejoin="round" d="M85.19 333.47l1.87 1.08v2.16l-1.87 1.08l-1.87 -1.08v-2.16zM83.32 330.22l1.87 1.08v2.16l-1.87 1.08l-1.87 -1.08v-2.16zM87.07 330.22l1.87 1.08v2.16l-1.87 1.08l-1.87 -1.08v-2.16zM88.94 326.98l1.87 1.08v2.16l-1.87 1.08l-1.87 -1.08v-2.16zM92.68 326.98l1.87 1.08v2.16l-1.87 1.08l-1.87 -1.08v-2.16zM90.81 323.74l1.87 1.08v2.16l-1.87 1.08l-1.87 -1.08v-2.16zM96.43 320.50l1.87 1.08v2.16l-1.87 1.08l-1.87 -1.08v-2.16zM100.17 320.50l1.87 1.08v2.16l-1.87 1.08l-1.87 -1.08v-2.16zM98.30 317.26l1.87 1.08v2.16l-1.87 1.08l-1.87 -1.08v-2.16zM102.04 317.26l1.87 1.08v2.16l-1.87 1.08l-1.87 -1.08v-2.16z"/></g>
<line x1="34.5" y1="384.5" x2="183.5" y2="235.5" stroke="#000" stroke-opacity="0.48" stroke-width="1.1"/>
<rect x="34.5" y="235.5" width="149" height="149" fill="none" stroke="#333" stroke-width="1.25"/>
<path d="M40.93 384.5v3M34.5 378.07h-3M75.14 384.5v3M34.5 343.86h-3M109.34 384.5v3M34.5 309.66h-3M143.55 384.5v3M34.5 275.45h-3M177.75 384.5v3M34.5 241.25h-3" stroke="#333" stroke-width="1" fill="none"/>
<text x="40.93" y="398.10" font-size="10.5" text-anchor="middle" fill="#000">0</text>
<text x="29.00" y="382.07" font-size="10.5" text-anchor="end" fill="#000">0</text>
<text x="75.14" y="398.10" font-size="10.5" text-anchor="middle" fill="#000">10</text>
<text x="29.00" y="347.86" font-size="10.5" text-anchor="end" fill="#000">10</text>
<text x="109.34" y="398.10" font-size="10.5" text-anchor="middle" fill="#000">20</text>
<text x="29.00" y="313.66" font-size="10.5" text-anchor="end" fill="#000">20</text>
<text x="143.55" y="398.10" font-size="10.5" text-anchor="middle" fill="#000">30</text>
<text x="29.00" y="279.45" font-size="10.5" text-anchor="end" fill="#000">30</text>
<text x="177.75" y="398.10" font-size="10.5" text-anchor="middle" fill="#000">40</text>
<text x="29.00" y="245.25" font-size="10.5" text-anchor="end" fill="#000">40</text>
<text x="109.00" y="227.7" font-size="10.7" font-weight="bold" text-anchor="middle">Lorey's height − spruce</text>
<text x="109.00" y="410.10" font-size="10.6" text-anchor="middle"><tspan>Predicted height (m)</tspan></text>
<text transform="translate(12.30,310.00) rotate(-90)" font-size="10.6" text-anchor="middle"><tspan>Field measured height (m)</tspan></text>
<clipPath id="c274_235"><rect x="274.5" y="235.5" width="149" height="149"/></clipPath><g clip-path="url(#c274_235)"><path fill="#1f72cf" stroke="#1f72cf" stroke-width="0.35" stroke-linejoin="round" d="M302.60 352.67l1.87 1.08v2.16l-1.87 1.08l-1.87 -1.08v-2.16zM313.83 352.67l1.87 1.08v2.16l-1.87 1.08l-1.87 -1.08v-2.16zM315.70 349.42l1.87 1.08v2.16l-1.87 1.08l-1.87 -1.08v-2.16zM317.58 346.18l1.87 1.08v2.16l-1.87 1.08l-1.87 -1.08v-2.16zM321.32 346.18l1.87 1.08v2.16l-1.87 1.08l-1.87 -1.08v-2.16zM323.19 342.94l1.87 1.08v2.16l-1.87 1.08l-1.87 -1.08v-2.16zM325.06 339.70l1.87 1.08v2.16l-1.87 1.08l-1.87 -1.08v-2.16zM313.83 333.21l1.87 1.08v2.16l-1.87 1.08l-1.87 -1.08v-2.16zM336.29 333.21l1.87 1.08v2.16l-1.87 1.08l-1.87 -1.08v-2.16zM340.04 333.21l1.87 1.08v2.16l-1.87 1.08l-1.87 -1.08v-2.16zM341.91 329.97l1.87 1.08v2.16l-1.87 1.08l-1.87 -1.08v-2.16zM317.58 326.73l1.87 1.08v2.16l-1.87 1.08l-1.87 -1.08v-2.16zM347.53 326.73l1.87 1.08v2.16l-1.87 1.08l-1.87 -1.08v-2.16zM349.40 323.49l1.87 1.08v2.16l-1.87 1.08l-1.87 -1.08v-2.16zM347.53 320.24l1.87 1.08v2.16l-1.87 1.08l-1.87 -1.08v-2.16zM351.27 320.24l1.87 1.08v2.16l-1.87 1.08l-1.87 -1.08v-2.16zM355.01 320.24l1.87 1.08v2.16l-1.87 1.08l-1.87 -1.08v-2.16zM326.93 317.00l1.87 1.08v2.16l-1.87 1.08l-1.87 -1.08v-2.16zM349.40 317.00l1.87 1.08v2.16l-1.87 1.08l-1.87 -1.08v-2.16zM353.14 317.00l1.87 1.08v2.16l-1.87 1.08l-1.87 -1.08v-2.16zM356.88 317.00l1.87 1.08v2.16l-1.87 1.08l-1.87 -1.08v-2.16zM355.01 313.76l1.87 1.08v2.16l-1.87 1.08l-1.87 -1.08v-2.16zM358.76 313.76l1.87 1.08v2.16l-1.87 1.08l-1.87 -1.08v-2.16zM362.50 313.76l1.87 1.08v2.16l-1.87 1.08l-1.87 -1.08v-2.16zM356.88 310.52l1.87 1.08v2.16l-1.87 1.08l-1.87 -1.08v-2.16zM360.63 310.52l1.87 1.08v2.16l-1.87 1.08l-1.87 -1.08v-2.16zM364.37 310.52l1.87 1.08v2.16l-1.87 1.08l-1.87 -1.08v-2.16zM332.55 307.28l1.87 1.08v2.16l-1.87 1.08l-1.87 -1.08v-2.16zM358.76 307.28l1.87 1.08v2.16l-1.87 1.08l-1.87 -1.08v-2.16zM334.42 304.03l1.87 1.08v2.16l-1.87 1.08l-1.87 -1.08v-2.16zM356.88 304.03l1.87 1.08v2.16l-1.87 1.08l-1.87 -1.08v-2.16zM336.29 300.79l1.87 1.08v2.16l-1.87 1.08l-1.87 -1.08v-2.16zM340.04 300.79l1.87 1.08v2.16l-1.87 1.08l-1.87 -1.08v-2.16zM343.78 300.79l1.87 1.08v2.16l-1.87 1.08l-1.87 -1.08v-2.16zM362.50 300.79l1.87 1.08v2.16l-1.87 1.08l-1.87 -1.08v-2.16zM345.65 297.55l1.87 1.08v2.16l-1.87 1.08l-1.87 -1.08v-2.16zM347.53 294.31l1.87 1.08v2.16l-1.87 1.08l-1.87 -1.08v-2.16zM355.01 294.31l1.87 1.08v2.16l-1.87 1.08l-1.87 -1.08v-2.16zM356.88 291.07l1.87 1.08v2.16l-1.87 1.08l-1.87 -1.08v-2.16zM364.37 291.07l1.87 1.08v2.16l-1.87 1.08l-1.87 -1.08v-2.16zM291.37 346.18l1.87 1.08v2.16l-1.87 1.08l-1.87 -1.08v-2.16zM295.11 352.67l1.87 1.08v2.16l-1.87 1.08l-1.87 -1.08v-2.16zM347.53 333.21l1.87 1.08v2.16l-1.87 1.08l-1.87 -1.08v-2.16zM362.50 281.34l1.87 1.08v2.16l-1.87 1.08l-1.87 -1.08v-2.16zM369.99 281.34l1.87 1.08v2.16l-1.87 1.08l-1.87 -1.08v-2.16zM377.47 281.34l1.87 1.08v2.16l-1.87 1.08l-1.87 -1.08v-2.16z"/><path fill="#4a76c4" stroke="#4a76c4" stroke-width="0.35" stroke-linejoin="round" d="M306.34 352.67l1.87 1.08v2.16l-1.87 1.08l-1.87 -1.08v-2.16zM310.09 352.67l1.87 1.08v2.16l-1.87 1.08l-1.87 -1.08v-2.16zM304.47 349.42l1.87 1.08v2.16l-1.87 1.08l-1.87 -1.08v-2.16zM302.60 346.18l1.87 1.08v2.16l-1.87 1.08l-1.87 -1.08v-2.16zM304.47 342.94l1.87 1.08v2.16l-1.87 1.08l-1.87 -1.08v-2.16zM306.34 339.70l1.87 1.08v2.16l-1.87 1.08l-1.87 -1.08v-2.16zM328.81 339.70l1.87 1.08v2.16l-1.87 1.08l-1.87 -1.08v-2.16zM308.22 336.46l1.87 1.08v2.16l-1.87 1.08l-1.87 -1.08v-2.16zM330.68 336.46l1.87 1.08v2.16l-1.87 1.08l-1.87 -1.08v-2.16zM310.09 333.21l1.87 1.08v2.16l-1.87 1.08l-1.87 -1.08v-2.16zM332.55 333.21l1.87 1.08v2.16l-1.87 1.08l-1.87 -1.08v-2.16zM315.70 329.97l1.87 1.08v2.16l-1.87 1.08l-1.87 -1.08v-2.16zM338.17 329.97l1.87 1.08v2.16l-1.87 1.08l-1.87 -1.08v-2.16zM340.04 326.73l1.87 1.08v2.16l-1.87 1.08l-1.87 -1.08v-2.16zM343.78 326.73l1.87 1.08v2.16l-1.87 1.08l-1.87 -1.08v-2.16zM319.45 323.49l1.87 1.08v2.16l-1.87 1.08l-1.87 -1.08v-2.16zM345.65 323.49l1.87 1.08v2.16l-1.87 1.08l-1.87 -1.08v-2.16zM321.32 320.24l1.87 1.08v2.16l-1.87 1.08l-1.87 -1.08v-2.16zM323.19 317.00l1.87 1.08v2.16l-1.87 1.08l-1.87 -1.08v-2.16zM328.81 313.76l1.87 1.08v2.16l-1.87 1.08l-1.87 -1.08v-2.16zM332.55 313.76l1.87 1.08v2.16l-1.87 1.08l-1.87 -1.08v-2.16zM334.42 310.52l1.87 1.08v2.16l-1.87 1.08l-1.87 -1.08v-2.16zM338.17 304.03l1.87 1.08v2.16l-1.87 1.08l-1.87 -1.08v-2.16zM358.76 300.79l1.87 1.08v2.16l-1.87 1.08l-1.87 -1.08v-2.16zM364.37 297.55l1.87 1.08v2.16l-1.87 1.08l-1.87 -1.08v-2.16zM351.27 294.31l1.87 1.08v2.16l-1.87 1.08l-1.87 -1.08v-2.16zM362.50 294.31l1.87 1.08v2.16l-1.87 1.08l-1.87 -1.08v-2.16zM366.24 294.31l1.87 1.08v2.16l-1.87 1.08l-1.87 -1.08v-2.16zM360.63 291.07l1.87 1.08v2.16l-1.87 1.08l-1.87 -1.08v-2.16zM358.76 287.82l1.87 1.08v2.16l-1.87 1.08l-1.87 -1.08v-2.16zM362.50 287.82l1.87 1.08v2.16l-1.87 1.08l-1.87 -1.08v-2.16zM366.24 287.82l1.87 1.08v2.16l-1.87 1.08l-1.87 -1.08v-2.16zM360.63 284.58l1.87 1.08v2.16l-1.87 1.08l-1.87 -1.08v-2.16zM364.37 284.58l1.87 1.08v2.16l-1.87 1.08l-1.87 -1.08v-2.16z"/><path fill="#6379ba" stroke="#6379ba" stroke-width="0.35" stroke-linejoin="round" d="M351.27 313.76l1.87 1.08v2.16l-1.87 1.08l-1.87 -1.08v-2.16zM336.29 307.28l1.87 1.08v2.16l-1.87 1.08l-1.87 -1.08v-2.16zM360.63 297.55l1.87 1.08v2.16l-1.87 1.08l-1.87 -1.08v-2.16zM358.76 294.31l1.87 1.08v2.16l-1.87 1.08l-1.87 -1.08v-2.16z"/><path fill="#767bb0" stroke="#767bb0" stroke-width="0.35" stroke-linejoin="round" d="M341.91 323.49l1.87 1.08v2.16l-1.87 1.08l-1.87 -1.08v-2.16zM353.14 310.52l1.87 1.08v2.16l-1.87 1.08l-1.87 -1.08v-2.16z"/><path fill="#877ea6" stroke="#877ea6" stroke-width="0.35" stroke-linejoin="round" d="M308.22 349.42l1.87 1.08v2.16l-1.87 1.08l-1.87 -1.08v-2.16zM311.96 349.42l1.87 1.08v2.16l-1.87 1.08l-1.87 -1.08v-2.16zM308.22 342.94l1.87 1.08v2.16l-1.87 1.08l-1.87 -1.08v-2.16zM319.45 342.94l1.87 1.08v2.16l-1.87 1.08l-1.87 -1.08v-2.16zM321.32 339.70l1.87 1.08v2.16l-1.87 1.08l-1.87 -1.08v-2.16zM315.70 336.46l1.87 1.08v2.16l-1.87 1.08l-1.87 -1.08v-2.16zM323.19 336.46l1.87 1.08v2.16l-1.87 1.08l-1.87 -1.08v-2.16zM326.93 336.46l1.87 1.08v2.16l-1.87 1.08l-1.87 -1.08v-2.16zM317.58 333.21l1.87 1.08v2.16l-1.87 1.08l-1.87 -1.08v-2.16zM328.81 333.21l1.87 1.08v2.16l-1.87 1.08l-1.87 -1.08v-2.16zM330.68 329.97l1.87 1.08v2.16l-1.87 1.08l-1.87 -1.08v-2.16zM334.42 329.97l1.87 1.08v2.16l-1.87 1.08l-1.87 -1.08v-2.16zM321.32 326.73l1.87 1.08v2.16l-1.87 1.08l-1.87 -1.08v-2.16zM328.81 320.24l1.87 1.08v2.16l-1.87 1.08l-1.87 -1.08v-2.16zM336.29 313.76l1.87 1.08v2.16l-1.87 1.08l-1.87 -1.08v-2.16zM355.01 307.28l1.87 1.08v2.16l-1.87 1.08l-1.87 -1.08v-2.16zM341.91 304.03l1.87 1.08v2.16l-1.87 1.08l-1.87 -1.08v-2.16zM355.01 300.79l1.87 1.08v2.16l-1.87 1.08l-1.87 -1.08v-2.16zM353.14 297.55l1.87 1.08v2.16l-1.87 1.08l-1.87 -1.08v-2.16zM356.88 297.55l1.87 1.08v2.16l-1.87 1.08l-1.87 -1.08v-2.16z"/><path fill="#958199" stroke="#958199" stroke-width="0.35" stroke-linejoin="round" d="M313.83 346.18l1.87 1.08v2.16l-1.87 1.08l-1.87 -1.08v-2.16zM315.70 342.94l1.87 1.08v2.16l-1.87 1.08l-1.87 -1.08v-2.16zM310.09 339.70l1.87 1.08v2.16l-1.87 1.08l-1.87 -1.08v-2.16zM311.96 336.46l1.87 1.08v2.16l-1.87 1.08l-1.87 -1.08v-2.16zM319.45 329.97l1.87 1.08v2.16l-1.87 1.08l-1.87 -1.08v-2.16zM323.19 323.49l1.87 1.08v2.16l-1.87 1.08l-1.87 -1.08v-2.16zM325.06 320.24l1.87 1.08v2.16l-1.87 1.08l-1.87 -1.08v-2.16zM343.78 320.24l1.87 1.08v2.16l-1.87 1.08l-1.87 -1.08v-2.16zM330.68 317.00l1.87 1.08v2.16l-1.87 1.08l-1.87 -1.08v-2.16zM334.42 317.00l1.87 1.08v2.16l-1.87 1.08l-1.87 -1.08v-2.16zM338.17 310.52l1.87 1.08v2.16l-1.87 1.08l-1.87 -1.08v-2.16zM351.27 307.28l1.87 1.08v2.16l-1.87 1.08l-1.87 -1.08v-2.16zM345.65 304.03l1.87 1.08v2.16l-1.87 1.08l-1.87 -1.08v-2.16zM353.14 304.03l1.87 1.08v2.16l-1.87 1.08l-1.87 -1.08v-2.16zM347.53 300.79l1.87 1.08v2.16l-1.87 1.08l-1.87 -1.08v-2.16zM351.27 300.79l1.87 1.08v2.16l-1.87 1.08l-1.87 -1.08v-2.16zM349.40 297.55l1.87 1.08v2.16l-1.87 1.08l-1.87 -1.08v-2.16z"/><path fill="#a28493" stroke="#a28493" stroke-width="0.35" stroke-linejoin="round" d="M336.29 326.73l1.87 1.08v2.16l-1.87 1.08l-1.87 -1.08v-2.16zM340.04 307.28l1.87 1.08v2.16l-1.87 1.08l-1.87 -1.08v-2.16zM349.40 304.03l1.87 1.08v2.16l-1.87 1.08l-1.87 -1.08v-2.16z"/><path fill="#b88a7f" stroke="#b88a7f" stroke-width="0.35" stroke-linejoin="round" d="M345.65 317.00l1.87 1.08v2.16l-1.87 1.08l-1.87 -1.08v-2.16zM347.53 313.76l1.87 1.08v2.16l-1.87 1.08l-1.87 -1.08v-2.16zM345.65 310.52l1.87 1.08v2.16l-1.87 1.08l-1.87 -1.08v-2.16zM349.40 310.52l1.87 1.08v2.16l-1.87 1.08l-1.87 -1.08v-2.16zM343.78 307.28l1.87 1.08v2.16l-1.87 1.08l-1.87 -1.08v-2.16zM347.53 307.28l1.87 1.08v2.16l-1.87 1.08l-1.87 -1.08v-2.16z"/><path fill="#cc916a" stroke="#cc916a" stroke-width="0.35" stroke-linejoin="round" d="M338.17 323.49l1.87 1.08v2.16l-1.87 1.08l-1.87 -1.08v-2.16zM341.91 310.52l1.87 1.08v2.16l-1.87 1.08l-1.87 -1.08v-2.16z"/><path fill="#ef9e38" stroke="#ef9e38" stroke-width="0.35" stroke-linejoin="round" d="M310.09 346.18l1.87 1.08v2.16l-1.87 1.08l-1.87 -1.08v-2.16zM311.96 342.94l1.87 1.08v2.16l-1.87 1.08l-1.87 -1.08v-2.16zM313.83 339.70l1.87 1.08v2.16l-1.87 1.08l-1.87 -1.08v-2.16zM317.58 339.70l1.87 1.08v2.16l-1.87 1.08l-1.87 -1.08v-2.16zM325.06 333.21l1.87 1.08v2.16l-1.87 1.08l-1.87 -1.08v-2.16zM332.55 326.73l1.87 1.08v2.16l-1.87 1.08l-1.87 -1.08v-2.16zM334.42 323.49l1.87 1.08v2.16l-1.87 1.08l-1.87 -1.08v-2.16zM340.04 320.24l1.87 1.08v2.16l-1.87 1.08l-1.87 -1.08v-2.16zM338.17 317.00l1.87 1.08v2.16l-1.87 1.08l-1.87 -1.08v-2.16zM341.91 317.00l1.87 1.08v2.16l-1.87 1.08l-1.87 -1.08v-2.16zM340.04 313.76l1.87 1.08v2.16l-1.87 1.08l-1.87 -1.08v-2.16zM343.78 313.76l1.87 1.08v2.16l-1.87 1.08l-1.87 -1.08v-2.16z"/><path fill="#ffa500" stroke="#ffa500" stroke-width="0.35" stroke-linejoin="round" d="M336.29 320.24l1.87 1.08v2.16l-1.87 1.08l-1.87 -1.08v-2.16z"/><path fill="#ffbc00" stroke="#ffbc00" stroke-width="0.35" stroke-linejoin="round" d="M323.19 329.97l1.87 1.08v2.16l-1.87 1.08l-1.87 -1.08v-2.16zM325.06 326.73l1.87 1.08v2.16l-1.87 1.08l-1.87 -1.08v-2.16zM328.81 326.73l1.87 1.08v2.16l-1.87 1.08l-1.87 -1.08v-2.16zM330.68 323.49l1.87 1.08v2.16l-1.87 1.08l-1.87 -1.08v-2.16z"/><path fill="#ffd300" stroke="#ffd300" stroke-width="0.35" stroke-linejoin="round" d="M319.45 336.46l1.87 1.08v2.16l-1.87 1.08l-1.87 -1.08v-2.16zM321.32 333.21l1.87 1.08v2.16l-1.87 1.08l-1.87 -1.08v-2.16zM326.93 329.97l1.87 1.08v2.16l-1.87 1.08l-1.87 -1.08v-2.16zM326.93 323.49l1.87 1.08v2.16l-1.87 1.08l-1.87 -1.08v-2.16zM332.55 320.24l1.87 1.08v2.16l-1.87 1.08l-1.87 -1.08v-2.16z"/></g>
<line x1="274.5" y1="384.5" x2="423.5" y2="235.5" stroke="#000" stroke-opacity="0.48" stroke-width="1.1"/>
<rect x="274.5" y="235.5" width="149" height="149" fill="none" stroke="#333" stroke-width="1.25"/>
<path d="M280.93 384.5v3M274.5 378.07h-3M315.14 384.5v3M274.5 343.86h-3M349.34 384.5v3M274.5 309.66h-3M383.55 384.5v3M274.5 275.45h-3M417.75 384.5v3M274.5 241.25h-3" stroke="#333" stroke-width="1" fill="none"/>
<text x="280.93" y="398.10" font-size="10.5" text-anchor="middle" fill="#000">0</text>
<text x="269.00" y="382.07" font-size="10.5" text-anchor="end" fill="#000">0</text>
<text x="315.14" y="398.10" font-size="10.5" text-anchor="middle" fill="#000">10</text>
<text x="269.00" y="347.86" font-size="10.5" text-anchor="end" fill="#000">10</text>
<text x="349.34" y="398.10" font-size="10.5" text-anchor="middle" fill="#000">20</text>
<text x="269.00" y="313.66" font-size="10.5" text-anchor="end" fill="#000">20</text>
<text x="383.55" y="398.10" font-size="10.5" text-anchor="middle" fill="#000">30</text>
<text x="269.00" y="279.45" font-size="10.5" text-anchor="end" fill="#000">30</text>
<text x="417.75" y="398.10" font-size="10.5" text-anchor="middle" fill="#000">40</text>
<text x="269.00" y="245.25" font-size="10.5" text-anchor="end" fill="#000">40</text>
<text x="349.00" y="227.7" font-size="10.7" font-weight="bold" text-anchor="middle">Lorey's height − pine</text>
<text x="349.00" y="410.10" font-size="10.6" text-anchor="middle"><tspan>Predicted height (m)</tspan></text>
<text transform="translate(252.30,310.00) rotate(-90)" font-size="10.6" text-anchor="middle"><tspan>Field measured height (m)</tspan></text>
<clipPath id="c514_235"><rect x="514.5" y="235.5" width="149" height="149"/></clipPath><g clip-path="url(#c514_235)"><path fill="#1f72cf" stroke="#1f72cf" stroke-width="0.35" stroke-linejoin="round" d="M536.07 360.72l1.87 1.08v2.16l-1.87 1.08l-1.87 -1.08v-2.16zM541.69 357.48l1.87 1.08v2.16l-1.87 1.08l-1.87 -1.08v-2.16zM545.43 357.48l1.87 1.08v2.16l-1.87 1.08l-1.87 -1.08v-2.16zM549.17 357.48l1.87 1.08v2.16l-1.87 1.08l-1.87 -1.08v-2.16zM560.41 350.99l1.87 1.08v2.16l-1.87 1.08l-1.87 -1.08v-2.16zM564.15 350.99l1.87 1.08v2.16l-1.87 1.08l-1.87 -1.08v-2.16zM539.82 347.75l1.87 1.08v2.16l-1.87 1.08l-1.87 -1.08v-2.16zM566.02 347.75l1.87 1.08v2.16l-1.87 1.08l-1.87 -1.08v-2.16zM569.77 347.75l1.87 1.08v2.16l-1.87 1.08l-1.87 -1.08v-2.16zM573.51 347.75l1.87 1.08v2.16l-1.87 1.08l-1.87 -1.08v-2.16zM575.38 344.51l1.87 1.08v2.16l-1.87 1.08l-1.87 -1.08v-2.16zM543.56 341.27l1.87 1.08v2.16l-1.87 1.08l-1.87 -1.08v-2.16zM566.02 341.27l1.87 1.08v2.16l-1.87 1.08l-1.87 -1.08v-2.16zM577.25 341.27l1.87 1.08v2.16l-1.87 1.08l-1.87 -1.08v-2.16zM545.43 338.02l1.87 1.08v2.16l-1.87 1.08l-1.87 -1.08v-2.16zM577.25 334.78l1.87 1.08v2.16l-1.87 1.08l-1.87 -1.08v-2.16zM575.38 331.54l1.87 1.08v2.16l-1.87 1.08l-1.87 -1.08v-2.16zM579.12 331.54l1.87 1.08v2.16l-1.87 1.08l-1.87 -1.08v-2.16zM551.05 328.30l1.87 1.08v2.16l-1.87 1.08l-1.87 -1.08v-2.16zM581.00 328.30l1.87 1.08v2.16l-1.87 1.08l-1.87 -1.08v-2.16zM552.92 325.05l1.87 1.08v2.16l-1.87 1.08l-1.87 -1.08v-2.16zM582.87 325.05l1.87 1.08v2.16l-1.87 1.08l-1.87 -1.08v-2.16zM558.53 321.81l1.87 1.08v2.16l-1.87 1.08l-1.87 -1.08v-2.16zM562.28 321.81l1.87 1.08v2.16l-1.87 1.08l-1.87 -1.08v-2.16zM566.02 321.81l1.87 1.08v2.16l-1.87 1.08l-1.87 -1.08v-2.16zM581.00 321.81l1.87 1.08v2.16l-1.87 1.08l-1.87 -1.08v-2.16zM567.89 318.57l1.87 1.08v2.16l-1.87 1.08l-1.87 -1.08v-2.16zM569.77 315.33l1.87 1.08v2.16l-1.87 1.08l-1.87 -1.08v-2.16zM584.74 315.33l1.87 1.08v2.16l-1.87 1.08l-1.87 -1.08v-2.16zM588.48 315.33l1.87 1.08v2.16l-1.87 1.08l-1.87 -1.08v-2.16zM592.23 315.33l1.87 1.08v2.16l-1.87 1.08l-1.87 -1.08v-2.16zM595.97 315.33l1.87 1.08v2.16l-1.87 1.08l-1.87 -1.08v-2.16zM599.72 315.33l1.87 1.08v2.16l-1.87 1.08l-1.87 -1.08v-2.16zM597.84 312.09l1.87 1.08v2.16l-1.87 1.08l-1.87 -1.08v-2.16zM569.77 308.84l1.87 1.08v2.16l-1.87 1.08l-1.87 -1.08v-2.16zM599.72 308.84l1.87 1.08v2.16l-1.87 1.08l-1.87 -1.08v-2.16zM571.64 305.60l1.87 1.08v2.16l-1.87 1.08l-1.87 -1.08v-2.16zM577.25 302.36l1.87 1.08v2.16l-1.87 1.08l-1.87 -1.08v-2.16zM595.97 302.36l1.87 1.08v2.16l-1.87 1.08l-1.87 -1.08v-2.16zM579.12 299.12l1.87 1.08v2.16l-1.87 1.08l-1.87 -1.08v-2.16zM582.87 299.12l1.87 1.08v2.16l-1.87 1.08l-1.87 -1.08v-2.16zM586.61 299.12l1.87 1.08v2.16l-1.87 1.08l-1.87 -1.08v-2.16zM597.84 299.12l1.87 1.08v2.16l-1.87 1.08l-1.87 -1.08v-2.16zM592.23 295.87l1.87 1.08v2.16l-1.87 1.08l-1.87 -1.08v-2.16zM590.36 292.63l1.87 1.08v2.16l-1.87 1.08l-1.87 -1.08v-2.16zM597.84 292.63l1.87 1.08v2.16l-1.87 1.08l-1.87 -1.08v-2.16zM595.97 289.39l1.87 1.08v2.16l-1.87 1.08l-1.87 -1.08v-2.16zM597.84 286.15l1.87 1.08v2.16l-1.87 1.08l-1.87 -1.08v-2.16zM534.20 331.54l1.87 1.08v2.16l-1.87 1.08l-1.87 -1.08v-2.16zM537.94 338.02l1.87 1.08v2.16l-1.87 1.08l-1.87 -1.08v-2.16zM590.36 325.05l1.87 1.08v2.16l-1.87 1.08l-1.87 -1.08v-2.16zM586.61 331.54l1.87 1.08v2.16l-1.87 1.08l-1.87 -1.08v-2.16zM584.74 334.78l1.87 1.08v2.16l-1.87 1.08l-1.87 -1.08v-2.16zM584.74 341.27l1.87 1.08v2.16l-1.87 1.08l-1.87 -1.08v-2.16z"/><path fill="#4a76c4" stroke="#4a76c4" stroke-width="0.35" stroke-linejoin="round" d="M539.82 360.72l1.87 1.08v2.16l-1.87 1.08l-1.87 -1.08v-2.16zM534.20 357.48l1.87 1.08v2.16l-1.87 1.08l-1.87 -1.08v-2.16zM536.07 354.23l1.87 1.08v2.16l-1.87 1.08l-1.87 -1.08v-2.16zM551.05 354.23l1.87 1.08v2.16l-1.87 1.08l-1.87 -1.08v-2.16zM537.94 350.99l1.87 1.08v2.16l-1.87 1.08l-1.87 -1.08v-2.16zM552.92 350.99l1.87 1.08v2.16l-1.87 1.08l-1.87 -1.08v-2.16zM556.66 350.99l1.87 1.08v2.16l-1.87 1.08l-1.87 -1.08v-2.16zM562.28 347.75l1.87 1.08v2.16l-1.87 1.08l-1.87 -1.08v-2.16zM541.69 344.51l1.87 1.08v2.16l-1.87 1.08l-1.87 -1.08v-2.16zM571.64 344.51l1.87 1.08v2.16l-1.87 1.08l-1.87 -1.08v-2.16zM569.77 341.27l1.87 1.08v2.16l-1.87 1.08l-1.87 -1.08v-2.16zM573.51 341.27l1.87 1.08v2.16l-1.87 1.08l-1.87 -1.08v-2.16zM567.89 338.02l1.87 1.08v2.16l-1.87 1.08l-1.87 -1.08v-2.16zM571.64 338.02l1.87 1.08v2.16l-1.87 1.08l-1.87 -1.08v-2.16zM575.38 338.02l1.87 1.08v2.16l-1.87 1.08l-1.87 -1.08v-2.16zM547.30 334.78l1.87 1.08v2.16l-1.87 1.08l-1.87 -1.08v-2.16zM573.51 334.78l1.87 1.08v2.16l-1.87 1.08l-1.87 -1.08v-2.16zM549.17 331.54l1.87 1.08v2.16l-1.87 1.08l-1.87 -1.08v-2.16zM571.64 331.54l1.87 1.08v2.16l-1.87 1.08l-1.87 -1.08v-2.16zM577.25 328.30l1.87 1.08v2.16l-1.87 1.08l-1.87 -1.08v-2.16zM556.66 325.05l1.87 1.08v2.16l-1.87 1.08l-1.87 -1.08v-2.16zM579.12 325.05l1.87 1.08v2.16l-1.87 1.08l-1.87 -1.08v-2.16zM582.87 318.57l1.87 1.08v2.16l-1.87 1.08l-1.87 -1.08v-2.16zM571.64 312.09l1.87 1.08v2.16l-1.87 1.08l-1.87 -1.08v-2.16zM594.10 312.09l1.87 1.08v2.16l-1.87 1.08l-1.87 -1.08v-2.16zM588.48 308.84l1.87 1.08v2.16l-1.87 1.08l-1.87 -1.08v-2.16zM575.38 305.60l1.87 1.08v2.16l-1.87 1.08l-1.87 -1.08v-2.16zM590.36 305.60l1.87 1.08v2.16l-1.87 1.08l-1.87 -1.08v-2.16zM594.10 305.60l1.87 1.08v2.16l-1.87 1.08l-1.87 -1.08v-2.16zM597.84 305.60l1.87 1.08v2.16l-1.87 1.08l-1.87 -1.08v-2.16zM581.00 302.36l1.87 1.08v2.16l-1.87 1.08l-1.87 -1.08v-2.16zM584.74 302.36l1.87 1.08v2.16l-1.87 1.08l-1.87 -1.08v-2.16zM590.36 299.12l1.87 1.08v2.16l-1.87 1.08l-1.87 -1.08v-2.16zM594.10 299.12l1.87 1.08v2.16l-1.87 1.08l-1.87 -1.08v-2.16zM584.74 295.87l1.87 1.08v2.16l-1.87 1.08l-1.87 -1.08v-2.16zM599.72 295.87l1.87 1.08v2.16l-1.87 1.08l-1.87 -1.08v-2.16zM592.23 289.39l1.87 1.08v2.16l-1.87 1.08l-1.87 -1.08v-2.16zM599.72 289.39l1.87 1.08v2.16l-1.87 1.08l-1.87 -1.08v-2.16z"/><path fill="#6379ba" stroke="#6379ba" stroke-width="0.35" stroke-linejoin="round" d="M558.53 347.75l1.87 1.08v2.16l-1.87 1.08l-1.87 -1.08v-2.16zM560.41 344.51l1.87 1.08v2.16l-1.87 1.08l-1.87 -1.08v-2.16zM567.89 344.51l1.87 1.08v2.16l-1.87 1.08l-1.87 -1.08v-2.16zM569.77 334.78l1.87 1.08v2.16l-1.87 1.08l-1.87 -1.08v-2.16zM590.36 312.09l1.87 1.08v2.16l-1.87 1.08l-1.87 -1.08v-2.16zM573.51 308.84l1.87 1.08v2.16l-1.87 1.08l-1.87 -1.08v-2.16zM592.23 308.84l1.87 1.08v2.16l-1.87 1.08l-1.87 -1.08v-2.16zM595.97 308.84l1.87 1.08v2.16l-1.87 1.08l-1.87 -1.08v-2.16zM586.61 305.60l1.87 1.08v2.16l-1.87 1.08l-1.87 -1.08v-2.16zM592.23 302.36l1.87 1.08v2.16l-1.87 1.08l-1.87 -1.08v-2.16zM595.97 295.87l1.87 1.08v2.16l-1.87 1.08l-1.87 -1.08v-2.16zM594.10 292.63l1.87 1.08v2.16l-1.87 1.08l-1.87 -1.08v-2.16z"/><path fill="#767bb0" stroke="#767bb0" stroke-width="0.35" stroke-linejoin="round" d="M562.28 341.27l1.87 1.08v2.16l-1.87 1.08l-1.87 -1.08v-2.16zM554.79 328.30l1.87 1.08v2.16l-1.87 1.08l-1.87 -1.08v-2.16zM573.51 328.30l1.87 1.08v2.16l-1.87 1.08l-1.87 -1.08v-2.16zM586.61 312.09l1.87 1.08v2.16l-1.87 1.08l-1.87 -1.08v-2.16z"/><path fill="#877ea6" stroke="#877ea6" stroke-width="0.35" stroke-linejoin="round" d="M537.94 357.48l1.87 1.08v2.16l-1.87 1.08l-1.87 -1.08v-2.16zM539.82 354.23l1.87 1.08v2.16l-1.87 1.08l-1.87 -1.08v-2.16zM541.69 350.99l1.87 1.08v2.16l-1.87 1.08l-1.87 -1.08v-2.16zM549.17 350.99l1.87 1.08v2.16l-1.87 1.08l-1.87 -1.08v-2.16zM543.56 347.75l1.87 1.08v2.16l-1.87 1.08l-1.87 -1.08v-2.16zM551.05 347.75l1.87 1.08v2.16l-1.87 1.08l-1.87 -1.08v-2.16zM547.30 341.27l1.87 1.08v2.16l-1.87 1.08l-1.87 -1.08v-2.16zM549.17 338.02l1.87 1.08v2.16l-1.87 1.08l-1.87 -1.08v-2.16zM564.15 338.02l1.87 1.08v2.16l-1.87 1.08l-1.87 -1.08v-2.16zM551.05 334.78l1.87 1.08v2.16l-1.87 1.08l-1.87 -1.08v-2.16zM566.02 334.78l1.87 1.08v2.16l-1.87 1.08l-1.87 -1.08v-2.16zM552.92 331.54l1.87 1.08v2.16l-1.87 1.08l-1.87 -1.08v-2.16zM564.15 325.05l1.87 1.08v2.16l-1.87 1.08l-1.87 -1.08v-2.16zM575.38 325.05l1.87 1.08v2.16l-1.87 1.08l-1.87 -1.08v-2.16zM577.25 321.81l1.87 1.08v2.16l-1.87 1.08l-1.87 -1.08v-2.16zM579.12 318.57l1.87 1.08v2.16l-1.87 1.08l-1.87 -1.08v-2.16zM581.00 315.33l1.87 1.08v2.16l-1.87 1.08l-1.87 -1.08v-2.16zM582.87 312.09l1.87 1.08v2.16l-1.87 1.08l-1.87 -1.08v-2.16zM579.12 305.60l1.87 1.08v2.16l-1.87 1.08l-1.87 -1.08v-2.16zM582.87 305.60l1.87 1.08v2.16l-1.87 1.08l-1.87 -1.08v-2.16z"/><path fill="#958199" stroke="#958199" stroke-width="0.35" stroke-linejoin="round" d="M543.56 354.23l1.87 1.08v2.16l-1.87 1.08l-1.87 -1.08v-2.16zM547.30 354.23l1.87 1.08v2.16l-1.87 1.08l-1.87 -1.08v-2.16zM554.79 347.75l1.87 1.08v2.16l-1.87 1.08l-1.87 -1.08v-2.16zM545.43 344.51l1.87 1.08v2.16l-1.87 1.08l-1.87 -1.08v-2.16zM567.89 331.54l1.87 1.08v2.16l-1.87 1.08l-1.87 -1.08v-2.16zM558.53 328.30l1.87 1.08v2.16l-1.87 1.08l-1.87 -1.08v-2.16zM560.41 325.05l1.87 1.08v2.16l-1.87 1.08l-1.87 -1.08v-2.16zM567.89 325.05l1.87 1.08v2.16l-1.87 1.08l-1.87 -1.08v-2.16zM569.77 321.81l1.87 1.08v2.16l-1.87 1.08l-1.87 -1.08v-2.16zM573.51 321.81l1.87 1.08v2.16l-1.87 1.08l-1.87 -1.08v-2.16zM571.64 318.57l1.87 1.08v2.16l-1.87 1.08l-1.87 -1.08v-2.16zM575.38 318.57l1.87 1.08v2.16l-1.87 1.08l-1.87 -1.08v-2.16zM573.51 315.33l1.87 1.08v2.16l-1.87 1.08l-1.87 -1.08v-2.16zM577.25 315.33l1.87 1.08v2.16l-1.87 1.08l-1.87 -1.08v-2.16zM575.38 312.09l1.87 1.08v2.16l-1.87 1.08l-1.87 -1.08v-2.16zM579.12 312.09l1.87 1.08v2.16l-1.87 1.08l-1.87 -1.08v-2.16zM577.25 308.84l1.87 1.08v2.16l-1.87 1.08l-1.87 -1.08v-2.16zM581.00 308.84l1.87 1.08v2.16l-1.87 1.08l-1.87 -1.08v-2.16z"/><path fill="#a28493" stroke="#a28493" stroke-width="0.35" stroke-linejoin="round" d="M545.43 350.99l1.87 1.08v2.16l-1.87 1.08l-1.87 -1.08v-2.16zM566.02 328.30l1.87 1.08v2.16l-1.87 1.08l-1.87 -1.08v-2.16zM569.77 328.30l1.87 1.08v2.16l-1.87 1.08l-1.87 -1.08v-2.16zM584.74 308.84l1.87 1.08v2.16l-1.87 1.08l-1.87 -1.08v-2.16z"/><path fill="#b88a7f" stroke="#b88a7f" stroke-width="0.35" stroke-linejoin="round" d="M564.15 331.54l1.87 1.08v2.16l-1.87 1.08l-1.87 -1.08v-2.16zM562.28 328.30l1.87 1.08v2.16l-1.87 1.08l-1.87 -1.08v-2.16zM571.64 325.05l1.87 1.08v2.16l-1.87 1.08l-1.87 -1.08v-2.16z"/><path fill="#cc916a" stroke="#cc916a" stroke-width="0.35" stroke-linejoin="round" d="M556.66 344.51l1.87 1.08v2.16l-1.87 1.08l-1.87 -1.08v-2.16zM556.66 331.54l1.87 1.08v2.16l-1.87 1.08l-1.87 -1.08v-2.16z"/><path fill="#de9753" stroke="#de9753" stroke-width="0.35" stroke-linejoin="round" d="M558.53 341.27l1.87 1.08v2.16l-1.87 1.08l-1.87 -1.08v-2.16zM554.79 334.78l1.87 1.08v2.16l-1.87 1.08l-1.87 -1.08v-2.16zM562.28 334.78l1.87 1.08v2.16l-1.87 1.08l-1.87 -1.08v-2.16z"/><path fill="#ef9e38" stroke="#ef9e38" stroke-width="0.35" stroke-linejoin="round" d="M547.30 347.75l1.87 1.08v2.16l-1.87 1.08l-1.87 -1.08v-2.16zM554.79 341.27l1.87 1.08v2.16l-1.87 1.08l-1.87 -1.08v-2.16zM552.92 338.02l1.87 1.08v2.16l-1.87 1.08l-1.87 -1.08v-2.16zM560.41 338.02l1.87 1.08v2.16l-1.87 1.08l-1.87 -1.08v-2.16zM558.53 334.78l1.87 1.08v2.16l-1.87 1.08l-1.87 -1.08v-2.16zM560.41 331.54l1.87 1.08v2.16l-1.87 1.08l-1.87 -1.08v-2.16z"/><path fill="#ffa500" stroke="#ffa500" stroke-width="0.35" stroke-linejoin="round" d="M552.92 344.51l1.87 1.08v2.16l-1.87 1.08l-1.87 -1.08v-2.16zM551.05 341.27l1.87 1.08v2.16l-1.87 1.08l-1.87 -1.08v-2.16z"/><path fill="#ffbc00" stroke="#ffbc00" stroke-width="0.35" stroke-linejoin="round" d="M549.17 344.51l1.87 1.08v2.16l-1.87 1.08l-1.87 -1.08v-2.16zM556.66 338.02l1.87 1.08v2.16l-1.87 1.08l-1.87 -1.08v-2.16z"/></g>
<line x1="514.5" y1="384.5" x2="663.5" y2="235.5" stroke="#000" stroke-opacity="0.48" stroke-width="1.1"/>
<rect x="514.5" y="235.5" width="149" height="149" fill="none" stroke="#333" stroke-width="1.25"/>
<path d="M520.93 384.5v3M514.5 378.07h-3M555.14 384.5v3M514.5 343.86h-3M589.34 384.5v3M514.5 309.66h-3M623.55 384.5v3M514.5 275.45h-3M657.75 384.5v3M514.5 241.25h-3" stroke="#333" stroke-width="1" fill="none"/>
<text x="520.93" y="398.10" font-size="10.5" text-anchor="middle" fill="#000">0</text>
<text x="509.00" y="382.07" font-size="10.5" text-anchor="end" fill="#000">0</text>
<text x="555.14" y="398.10" font-size="10.5" text-anchor="middle" fill="#000">10</text>
<text x="509.00" y="347.86" font-size="10.5" text-anchor="end" fill="#000">10</text>
<text x="589.34" y="398.10" font-size="10.5" text-anchor="middle" fill="#000">20</text>
<text x="509.00" y="313.66" font-size="10.5" text-anchor="end" fill="#000">20</text>
<text x="623.55" y="398.10" font-size="10.5" text-anchor="middle" fill="#000">30</text>
<text x="509.00" y="279.45" font-size="10.5" text-anchor="end" fill="#000">30</text>
<text x="657.75" y="398.10" font-size="10.5" text-anchor="middle" fill="#000">40</text>
<text x="509.00" y="245.25" font-size="10.5" text-anchor="end" fill="#000">40</text>
<text x="589.00" y="227.7" font-size="10.7" font-weight="bold" text-anchor="middle">Lorey's height − deciduous</text>
<text x="589.00" y="410.10" font-size="10.6" text-anchor="middle"><tspan>Predicted height (m)</tspan></text>
<text transform="translate(492.30,310.00) rotate(-90)" font-size="10.6" text-anchor="middle"><tspan>Field measured height (m)</tspan></text>
<clipPath id="c42_463"><rect x="42.5" y="463.5" width="144" height="144"/></clipPath><g clip-path="url(#c42_463)"><path fill="#1f72cf" stroke="#1f72cf" stroke-width="0.35" stroke-linejoin="round" d="M47.95 601.41l1.81 1.04v2.09l-1.81 1.04l-1.81 -1.04v-2.09zM60.61 598.28l1.81 1.04v2.09l-1.81 1.04l-1.81 -1.04v-2.09zM64.23 598.28l1.81 1.04v2.09l-1.81 1.04l-1.81 -1.04v-2.09zM66.04 595.14l1.81 1.04v2.09l-1.81 1.04l-1.81 -1.04v-2.09zM49.76 592.01l1.81 1.04v2.09l-1.81 1.04l-1.81 -1.04v-2.09zM67.85 592.01l1.81 1.04v2.09l-1.81 1.04l-1.81 -1.04v-2.09zM71.47 592.01l1.81 1.04v2.09l-1.81 1.04l-1.81 -1.04v-2.09zM51.57 588.88l1.81 1.04v2.09l-1.81 1.04l-1.81 -1.04v-2.09zM73.27 588.88l1.81 1.04v2.09l-1.81 1.04l-1.81 -1.04v-2.09zM76.89 588.88l1.81 1.04v2.09l-1.81 1.04l-1.81 -1.04v-2.09zM53.37 585.74l1.81 1.04v2.09l-1.81 1.04l-1.81 -1.04v-2.09zM78.70 585.74l1.81 1.04v2.09l-1.81 1.04l-1.81 -1.04v-2.09zM82.32 585.74l1.81 1.04v2.09l-1.81 1.04l-1.81 -1.04v-2.09zM55.18 582.61l1.81 1.04v2.09l-1.81 1.04l-1.81 -1.04v-2.09zM84.13 582.61l1.81 1.04v2.09l-1.81 1.04l-1.81 -1.04v-2.09zM87.75 582.61l1.81 1.04v2.09l-1.81 1.04l-1.81 -1.04v-2.09zM91.36 582.61l1.81 1.04v2.09l-1.81 1.04l-1.81 -1.04v-2.09zM56.99 579.48l1.81 1.04v2.09l-1.81 1.04l-1.81 -1.04v-2.09zM93.17 579.48l1.81 1.04v2.09l-1.81 1.04l-1.81 -1.04v-2.09zM96.79 579.48l1.81 1.04v2.09l-1.81 1.04l-1.81 -1.04v-2.09zM58.80 576.34l1.81 1.04v2.09l-1.81 1.04l-1.81 -1.04v-2.09zM84.13 576.34l1.81 1.04v2.09l-1.81 1.04l-1.81 -1.04v-2.09zM87.75 576.34l1.81 1.04v2.09l-1.81 1.04l-1.81 -1.04v-2.09zM98.60 576.34l1.81 1.04v2.09l-1.81 1.04l-1.81 -1.04v-2.09zM60.61 573.21l1.81 1.04v2.09l-1.81 1.04l-1.81 -1.04v-2.09zM104.03 573.21l1.81 1.04v2.09l-1.81 1.04l-1.81 -1.04v-2.09zM58.80 570.08l1.81 1.04v2.09l-1.81 1.04l-1.81 -1.04v-2.09zM62.42 570.08l1.81 1.04v2.09l-1.81 1.04l-1.81 -1.04v-2.09zM98.60 570.08l1.81 1.04v2.09l-1.81 1.04l-1.81 -1.04v-2.09zM60.61 566.94l1.81 1.04v2.09l-1.81 1.04l-1.81 -1.04v-2.09zM104.03 566.94l1.81 1.04v2.09l-1.81 1.04l-1.81 -1.04v-2.09zM62.42 563.81l1.81 1.04v2.09l-1.81 1.04l-1.81 -1.04v-2.09zM66.04 563.81l1.81 1.04v2.09l-1.81 1.04l-1.81 -1.04v-2.09zM105.84 563.81l1.81 1.04v2.09l-1.81 1.04l-1.81 -1.04v-2.09zM109.46 563.81l1.81 1.04v2.09l-1.81 1.04l-1.81 -1.04v-2.09zM64.23 560.68l1.81 1.04v2.09l-1.81 1.04l-1.81 -1.04v-2.09zM111.26 560.68l1.81 1.04v2.09l-1.81 1.04l-1.81 -1.04v-2.09zM114.88 560.68l1.81 1.04v2.09l-1.81 1.04l-1.81 -1.04v-2.09zM69.66 557.54l1.81 1.04v2.09l-1.81 1.04l-1.81 -1.04v-2.09zM73.27 551.28l1.81 1.04v2.09l-1.81 1.04l-1.81 -1.04v-2.09zM116.69 551.28l1.81 1.04v2.09l-1.81 1.04l-1.81 -1.04v-2.09zM71.47 548.14l1.81 1.04v2.09l-1.81 1.04l-1.81 -1.04v-2.09zM118.50 548.14l1.81 1.04v2.09l-1.81 1.04l-1.81 -1.04v-2.09zM76.89 545.01l1.81 1.04v2.09l-1.81 1.04l-1.81 -1.04v-2.09zM80.51 545.01l1.81 1.04v2.09l-1.81 1.04l-1.81 -1.04v-2.09zM116.69 545.01l1.81 1.04v2.09l-1.81 1.04l-1.81 -1.04v-2.09zM120.31 545.01l1.81 1.04v2.09l-1.81 1.04l-1.81 -1.04v-2.09zM82.32 541.88l1.81 1.04v2.09l-1.81 1.04l-1.81 -1.04v-2.09zM85.94 541.88l1.81 1.04v2.09l-1.81 1.04l-1.81 -1.04v-2.09zM122.12 541.88l1.81 1.04v2.09l-1.81 1.04l-1.81 -1.04v-2.09zM125.74 541.88l1.81 1.04v2.09l-1.81 1.04l-1.81 -1.04v-2.09zM87.75 538.74l1.81 1.04v2.09l-1.81 1.04l-1.81 -1.04v-2.09zM120.31 538.74l1.81 1.04v2.09l-1.81 1.04l-1.81 -1.04v-2.09zM123.93 538.74l1.81 1.04v2.09l-1.81 1.04l-1.81 -1.04v-2.09zM89.56 535.61l1.81 1.04v2.09l-1.81 1.04l-1.81 -1.04v-2.09zM105.84 532.48l1.81 1.04v2.09l-1.81 1.04l-1.81 -1.04v-2.09zM113.07 532.48l1.81 1.04v2.09l-1.81 1.04l-1.81 -1.04v-2.09zM123.93 532.48l1.81 1.04v2.09l-1.81 1.04l-1.81 -1.04v-2.09zM93.17 529.34l1.81 1.04v2.09l-1.81 1.04l-1.81 -1.04v-2.09zM125.74 529.34l1.81 1.04v2.09l-1.81 1.04l-1.81 -1.04v-2.09zM94.98 526.21l1.81 1.04v2.09l-1.81 1.04l-1.81 -1.04v-2.09zM96.79 523.08l1.81 1.04v2.09l-1.81 1.04l-1.81 -1.04v-2.09zM125.74 523.08l1.81 1.04v2.09l-1.81 1.04l-1.81 -1.04v-2.09zM98.60 519.94l1.81 1.04v2.09l-1.81 1.04l-1.81 -1.04v-2.09zM105.84 519.94l1.81 1.04v2.09l-1.81 1.04l-1.81 -1.04v-2.09zM116.69 519.94l1.81 1.04v2.09l-1.81 1.04l-1.81 -1.04v-2.09zM123.93 519.94l1.81 1.04v2.09l-1.81 1.04l-1.81 -1.04v-2.09zM100.41 516.81l1.81 1.04v2.09l-1.81 1.04l-1.81 -1.04v-2.09zM122.12 516.81l1.81 1.04v2.09l-1.81 1.04l-1.81 -1.04v-2.09zM102.22 513.68l1.81 1.04v2.09l-1.81 1.04l-1.81 -1.04v-2.09zM105.84 513.68l1.81 1.04v2.09l-1.81 1.04l-1.81 -1.04v-2.09zM116.69 513.68l1.81 1.04v2.09l-1.81 1.04l-1.81 -1.04v-2.09zM107.65 510.54l1.81 1.04v2.09l-1.81 1.04l-1.81 -1.04v-2.09zM109.46 507.41l1.81 1.04v2.09l-1.81 1.04l-1.81 -1.04v-2.09zM114.88 504.28l1.81 1.04v2.09l-1.81 1.04l-1.81 -1.04v-2.09zM113.07 501.14l1.81 1.04v2.09l-1.81 1.04l-1.81 -1.04v-2.09zM78.70 598.28l1.81 1.04v2.09l-1.81 1.04l-1.81 -1.04v-2.09zM111.26 566.94l1.81 1.04v2.09l-1.81 1.04l-1.81 -1.04v-2.09zM114.88 566.94l1.81 1.04v2.09l-1.81 1.04l-1.81 -1.04v-2.09zM122.12 566.94l1.81 1.04v2.09l-1.81 1.04l-1.81 -1.04v-2.09zM132.97 472.94l1.81 1.04v2.09l-1.81 1.04l-1.81 -1.04v-2.09zM131.16 476.08l1.81 1.04v2.09l-1.81 1.04l-1.81 -1.04v-2.09zM127.55 476.08l1.81 1.04v2.09l-1.81 1.04l-1.81 -1.04v-2.09zM122.12 479.21l1.81 1.04v2.09l-1.81 1.04l-1.81 -1.04v-2.09zM125.74 485.48l1.81 1.04v2.09l-1.81 1.04l-1.81 -1.04v-2.09zM131.16 488.61l1.81 1.04v2.09l-1.81 1.04l-1.81 -1.04v-2.09zM129.35 491.74l1.81 1.04v2.09l-1.81 1.04l-1.81 -1.04v-2.09zM131.16 494.88l1.81 1.04v2.09l-1.81 1.04l-1.81 -1.04v-2.09zM129.35 498.01l1.81 1.04v2.09l-1.81 1.04l-1.81 -1.04v-2.09zM132.97 498.01l1.81 1.04v2.09l-1.81 1.04l-1.81 -1.04v-2.09zM131.16 501.14l1.81 1.04v2.09l-1.81 1.04l-1.81 -1.04v-2.09zM104.03 491.74l1.81 1.04v2.09l-1.81 1.04l-1.81 -1.04v-2.09zM114.88 491.74l1.81 1.04v2.09l-1.81 1.04l-1.81 -1.04v-2.09zM107.65 498.01l1.81 1.04v2.09l-1.81 1.04l-1.81 -1.04v-2.09zM140.21 498.01l1.81 1.04v2.09l-1.81 1.04l-1.81 -1.04v-2.09zM138.40 501.14l1.81 1.04v2.09l-1.81 1.04l-1.81 -1.04v-2.09zM138.40 507.41l1.81 1.04v2.09l-1.81 1.04l-1.81 -1.04v-2.09zM140.21 510.54l1.81 1.04v2.09l-1.81 1.04l-1.81 -1.04v-2.09zM129.35 516.81l1.81 1.04v2.09l-1.81 1.04l-1.81 -1.04v-2.09zM136.59 516.81l1.81 1.04v2.09l-1.81 1.04l-1.81 -1.04v-2.09zM134.78 519.94l1.81 1.04v2.09l-1.81 1.04l-1.81 -1.04v-2.09zM138.40 526.21l1.81 1.04v2.09l-1.81 1.04l-1.81 -1.04v-2.09zM151.06 510.54l1.81 1.04v2.09l-1.81 1.04l-1.81 -1.04v-2.09zM149.25 513.68l1.81 1.04v2.09l-1.81 1.04l-1.81 -1.04v-2.09zM163.73 494.88l1.81 1.04v2.09l-1.81 1.04l-1.81 -1.04v-2.09zM123.93 551.28l1.81 1.04v2.09l-1.81 1.04l-1.81 -1.04v-2.09zM127.55 551.28l1.81 1.04v2.09l-1.81 1.04l-1.81 -1.04v-2.09zM123.93 557.54l1.81 1.04v2.09l-1.81 1.04l-1.81 -1.04v-2.09zM123.93 570.08l1.81 1.04v2.09l-1.81 1.04l-1.81 -1.04v-2.09z"/><path fill="#4a76c4" stroke="#4a76c4" stroke-width="0.35" stroke-linejoin="round" d="M51.57 601.41l1.81 1.04v2.09l-1.81 1.04l-1.81 -1.04v-2.09zM49.76 598.28l1.81 1.04v2.09l-1.81 1.04l-1.81 -1.04v-2.09zM56.99 598.28l1.81 1.04v2.09l-1.81 1.04l-1.81 -1.04v-2.09zM47.95 595.14l1.81 1.04v2.09l-1.81 1.04l-1.81 -1.04v-2.09zM69.66 588.88l1.81 1.04v2.09l-1.81 1.04l-1.81 -1.04v-2.09zM76.89 582.61l1.81 1.04v2.09l-1.81 1.04l-1.81 -1.04v-2.09zM80.51 582.61l1.81 1.04v2.09l-1.81 1.04l-1.81 -1.04v-2.09zM85.94 579.48l1.81 1.04v2.09l-1.81 1.04l-1.81 -1.04v-2.09zM89.56 579.48l1.81 1.04v2.09l-1.81 1.04l-1.81 -1.04v-2.09zM91.36 576.34l1.81 1.04v2.09l-1.81 1.04l-1.81 -1.04v-2.09zM94.98 576.34l1.81 1.04v2.09l-1.81 1.04l-1.81 -1.04v-2.09zM85.94 573.21l1.81 1.04v2.09l-1.81 1.04l-1.81 -1.04v-2.09zM89.56 573.21l1.81 1.04v2.09l-1.81 1.04l-1.81 -1.04v-2.09zM93.17 573.21l1.81 1.04v2.09l-1.81 1.04l-1.81 -1.04v-2.09zM96.79 573.21l1.81 1.04v2.09l-1.81 1.04l-1.81 -1.04v-2.09zM100.41 573.21l1.81 1.04v2.09l-1.81 1.04l-1.81 -1.04v-2.09zM87.75 570.08l1.81 1.04v2.09l-1.81 1.04l-1.81 -1.04v-2.09zM91.36 570.08l1.81 1.04v2.09l-1.81 1.04l-1.81 -1.04v-2.09zM94.98 570.08l1.81 1.04v2.09l-1.81 1.04l-1.81 -1.04v-2.09zM64.23 566.94l1.81 1.04v2.09l-1.81 1.04l-1.81 -1.04v-2.09zM67.85 566.94l1.81 1.04v2.09l-1.81 1.04l-1.81 -1.04v-2.09zM93.17 566.94l1.81 1.04v2.09l-1.81 1.04l-1.81 -1.04v-2.09zM96.79 566.94l1.81 1.04v2.09l-1.81 1.04l-1.81 -1.04v-2.09zM100.41 566.94l1.81 1.04v2.09l-1.81 1.04l-1.81 -1.04v-2.09zM69.66 563.81l1.81 1.04v2.09l-1.81 1.04l-1.81 -1.04v-2.09zM94.98 563.81l1.81 1.04v2.09l-1.81 1.04l-1.81 -1.04v-2.09zM102.22 563.81l1.81 1.04v2.09l-1.81 1.04l-1.81 -1.04v-2.09zM67.85 560.68l1.81 1.04v2.09l-1.81 1.04l-1.81 -1.04v-2.09zM71.47 560.68l1.81 1.04v2.09l-1.81 1.04l-1.81 -1.04v-2.09zM100.41 560.68l1.81 1.04v2.09l-1.81 1.04l-1.81 -1.04v-2.09zM104.03 560.68l1.81 1.04v2.09l-1.81 1.04l-1.81 -1.04v-2.09zM107.65 560.68l1.81 1.04v2.09l-1.81 1.04l-1.81 -1.04v-2.09zM73.27 557.54l1.81 1.04v2.09l-1.81 1.04l-1.81 -1.04v-2.09zM98.60 557.54l1.81 1.04v2.09l-1.81 1.04l-1.81 -1.04v-2.09zM105.84 557.54l1.81 1.04v2.09l-1.81 1.04l-1.81 -1.04v-2.09zM109.46 557.54l1.81 1.04v2.09l-1.81 1.04l-1.81 -1.04v-2.09zM113.07 557.54l1.81 1.04v2.09l-1.81 1.04l-1.81 -1.04v-2.09zM71.47 554.41l1.81 1.04v2.09l-1.81 1.04l-1.81 -1.04v-2.09zM78.70 554.41l1.81 1.04v2.09l-1.81 1.04l-1.81 -1.04v-2.09zM100.41 554.41l1.81 1.04v2.09l-1.81 1.04l-1.81 -1.04v-2.09zM104.03 554.41l1.81 1.04v2.09l-1.81 1.04l-1.81 -1.04v-2.09zM107.65 554.41l1.81 1.04v2.09l-1.81 1.04l-1.81 -1.04v-2.09zM114.88 554.41l1.81 1.04v2.09l-1.81 1.04l-1.81 -1.04v-2.09zM76.89 551.28l1.81 1.04v2.09l-1.81 1.04l-1.81 -1.04v-2.09zM80.51 551.28l1.81 1.04v2.09l-1.81 1.04l-1.81 -1.04v-2.09zM105.84 551.28l1.81 1.04v2.09l-1.81 1.04l-1.81 -1.04v-2.09zM109.46 551.28l1.81 1.04v2.09l-1.81 1.04l-1.81 -1.04v-2.09zM113.07 551.28l1.81 1.04v2.09l-1.81 1.04l-1.81 -1.04v-2.09zM75.08 548.14l1.81 1.04v2.09l-1.81 1.04l-1.81 -1.04v-2.09zM78.70 548.14l1.81 1.04v2.09l-1.81 1.04l-1.81 -1.04v-2.09zM82.32 548.14l1.81 1.04v2.09l-1.81 1.04l-1.81 -1.04v-2.09zM107.65 548.14l1.81 1.04v2.09l-1.81 1.04l-1.81 -1.04v-2.09zM111.26 548.14l1.81 1.04v2.09l-1.81 1.04l-1.81 -1.04v-2.09zM114.88 548.14l1.81 1.04v2.09l-1.81 1.04l-1.81 -1.04v-2.09zM73.27 545.01l1.81 1.04v2.09l-1.81 1.04l-1.81 -1.04v-2.09zM87.75 545.01l1.81 1.04v2.09l-1.81 1.04l-1.81 -1.04v-2.09zM109.46 545.01l1.81 1.04v2.09l-1.81 1.04l-1.81 -1.04v-2.09zM113.07 545.01l1.81 1.04v2.09l-1.81 1.04l-1.81 -1.04v-2.09zM78.70 541.88l1.81 1.04v2.09l-1.81 1.04l-1.81 -1.04v-2.09zM111.26 541.88l1.81 1.04v2.09l-1.81 1.04l-1.81 -1.04v-2.09zM114.88 541.88l1.81 1.04v2.09l-1.81 1.04l-1.81 -1.04v-2.09zM94.98 538.74l1.81 1.04v2.09l-1.81 1.04l-1.81 -1.04v-2.09zM116.69 538.74l1.81 1.04v2.09l-1.81 1.04l-1.81 -1.04v-2.09zM96.79 535.61l1.81 1.04v2.09l-1.81 1.04l-1.81 -1.04v-2.09zM111.26 535.61l1.81 1.04v2.09l-1.81 1.04l-1.81 -1.04v-2.09zM118.50 535.61l1.81 1.04v2.09l-1.81 1.04l-1.81 -1.04v-2.09zM122.12 535.61l1.81 1.04v2.09l-1.81 1.04l-1.81 -1.04v-2.09zM91.36 532.48l1.81 1.04v2.09l-1.81 1.04l-1.81 -1.04v-2.09zM98.60 532.48l1.81 1.04v2.09l-1.81 1.04l-1.81 -1.04v-2.09zM109.46 532.48l1.81 1.04v2.09l-1.81 1.04l-1.81 -1.04v-2.09zM120.31 532.48l1.81 1.04v2.09l-1.81 1.04l-1.81 -1.04v-2.09zM96.79 529.34l1.81 1.04v2.09l-1.81 1.04l-1.81 -1.04v-2.09zM100.41 529.34l1.81 1.04v2.09l-1.81 1.04l-1.81 -1.04v-2.09zM104.03 529.34l1.81 1.04v2.09l-1.81 1.04l-1.81 -1.04v-2.09zM122.12 529.34l1.81 1.04v2.09l-1.81 1.04l-1.81 -1.04v-2.09zM102.22 526.21l1.81 1.04v2.09l-1.81 1.04l-1.81 -1.04v-2.09zM105.84 526.21l1.81 1.04v2.09l-1.81 1.04l-1.81 -1.04v-2.09zM116.69 526.21l1.81 1.04v2.09l-1.81 1.04l-1.81 -1.04v-2.09zM123.93 526.21l1.81 1.04v2.09l-1.81 1.04l-1.81 -1.04v-2.09zM100.41 523.08l1.81 1.04v2.09l-1.81 1.04l-1.81 -1.04v-2.09zM104.03 523.08l1.81 1.04v2.09l-1.81 1.04l-1.81 -1.04v-2.09zM111.26 523.08l1.81 1.04v2.09l-1.81 1.04l-1.81 -1.04v-2.09zM114.88 523.08l1.81 1.04v2.09l-1.81 1.04l-1.81 -1.04v-2.09zM118.50 523.08l1.81 1.04v2.09l-1.81 1.04l-1.81 -1.04v-2.09zM122.12 523.08l1.81 1.04v2.09l-1.81 1.04l-1.81 -1.04v-2.09zM102.22 519.94l1.81 1.04v2.09l-1.81 1.04l-1.81 -1.04v-2.09zM109.46 519.94l1.81 1.04v2.09l-1.81 1.04l-1.81 -1.04v-2.09zM113.07 519.94l1.81 1.04v2.09l-1.81 1.04l-1.81 -1.04v-2.09zM104.03 516.81l1.81 1.04v2.09l-1.81 1.04l-1.81 -1.04v-2.09zM107.65 516.81l1.81 1.04v2.09l-1.81 1.04l-1.81 -1.04v-2.09zM111.26 516.81l1.81 1.04v2.09l-1.81 1.04l-1.81 -1.04v-2.09zM113.07 513.68l1.81 1.04v2.09l-1.81 1.04l-1.81 -1.04v-2.09zM123.93 513.68l1.81 1.04v2.09l-1.81 1.04l-1.81 -1.04v-2.09zM118.50 510.54l1.81 1.04v2.09l-1.81 1.04l-1.81 -1.04v-2.09zM125.74 510.54l1.81 1.04v2.09l-1.81 1.04l-1.81 -1.04v-2.09zM113.07 507.41l1.81 1.04v2.09l-1.81 1.04l-1.81 -1.04v-2.09zM116.69 507.41l1.81 1.04v2.09l-1.81 1.04l-1.81 -1.04v-2.09zM120.31 507.41l1.81 1.04v2.09l-1.81 1.04l-1.81 -1.04v-2.09zM123.93 507.41l1.81 1.04v2.09l-1.81 1.04l-1.81 -1.04v-2.09zM111.26 504.28l1.81 1.04v2.09l-1.81 1.04l-1.81 -1.04v-2.09z"/><path fill="#6379ba" stroke="#6379ba" stroke-width="0.35" stroke-linejoin="round" d="M62.42 595.14l1.81 1.04v2.09l-1.81 1.04l-1.81 -1.04v-2.09zM75.08 585.74l1.81 1.04v2.09l-1.81 1.04l-1.81 -1.04v-2.09zM78.70 579.48l1.81 1.04v2.09l-1.81 1.04l-1.81 -1.04v-2.09zM82.32 579.48l1.81 1.04v2.09l-1.81 1.04l-1.81 -1.04v-2.09zM64.23 573.21l1.81 1.04v2.09l-1.81 1.04l-1.81 -1.04v-2.09zM98.60 563.81l1.81 1.04v2.09l-1.81 1.04l-1.81 -1.04v-2.09zM96.79 560.68l1.81 1.04v2.09l-1.81 1.04l-1.81 -1.04v-2.09zM102.22 557.54l1.81 1.04v2.09l-1.81 1.04l-1.81 -1.04v-2.09zM102.22 551.28l1.81 1.04v2.09l-1.81 1.04l-1.81 -1.04v-2.09zM84.13 545.01l1.81 1.04v2.09l-1.81 1.04l-1.81 -1.04v-2.09zM89.56 541.88l1.81 1.04v2.09l-1.81 1.04l-1.81 -1.04v-2.09zM91.36 538.74l1.81 1.04v2.09l-1.81 1.04l-1.81 -1.04v-2.09zM109.46 538.74l1.81 1.04v2.09l-1.81 1.04l-1.81 -1.04v-2.09zM113.07 538.74l1.81 1.04v2.09l-1.81 1.04l-1.81 -1.04v-2.09zM93.17 535.61l1.81 1.04v2.09l-1.81 1.04l-1.81 -1.04v-2.09zM114.88 535.61l1.81 1.04v2.09l-1.81 1.04l-1.81 -1.04v-2.09zM94.98 532.48l1.81 1.04v2.09l-1.81 1.04l-1.81 -1.04v-2.09zM102.22 532.48l1.81 1.04v2.09l-1.81 1.04l-1.81 -1.04v-2.09zM116.69 532.48l1.81 1.04v2.09l-1.81 1.04l-1.81 -1.04v-2.09zM107.65 529.34l1.81 1.04v2.09l-1.81 1.04l-1.81 -1.04v-2.09zM114.88 529.34l1.81 1.04v2.09l-1.81 1.04l-1.81 -1.04v-2.09zM118.50 529.34l1.81 1.04v2.09l-1.81 1.04l-1.81 -1.04v-2.09zM98.60 526.21l1.81 1.04v2.09l-1.81 1.04l-1.81 -1.04v-2.09zM109.46 526.21l1.81 1.04v2.09l-1.81 1.04l-1.81 -1.04v-2.09zM113.07 526.21l1.81 1.04v2.09l-1.81 1.04l-1.81 -1.04v-2.09zM120.31 519.94l1.81 1.04v2.09l-1.81 1.04l-1.81 -1.04v-2.09zM114.88 516.81l1.81 1.04v2.09l-1.81 1.04l-1.81 -1.04v-2.09zM118.50 516.81l1.81 1.04v2.09l-1.81 1.04l-1.81 -1.04v-2.09zM109.46 513.68l1.81 1.04v2.09l-1.81 1.04l-1.81 -1.04v-2.09zM114.88 510.54l1.81 1.04v2.09l-1.81 1.04l-1.81 -1.04v-2.09z"/><path fill="#767bb0" stroke="#767bb0" stroke-width="0.35" stroke-linejoin="round" d="M64.23 592.01l1.81 1.04v2.09l-1.81 1.04l-1.81 -1.04v-2.09zM71.47 585.74l1.81 1.04v2.09l-1.81 1.04l-1.81 -1.04v-2.09zM66.04 570.08l1.81 1.04v2.09l-1.81 1.04l-1.81 -1.04v-2.09zM89.56 566.94l1.81 1.04v2.09l-1.81 1.04l-1.81 -1.04v-2.09zM91.36 563.81l1.81 1.04v2.09l-1.81 1.04l-1.81 -1.04v-2.09zM85.94 548.14l1.81 1.04v2.09l-1.81 1.04l-1.81 -1.04v-2.09zM93.17 541.88l1.81 1.04v2.09l-1.81 1.04l-1.81 -1.04v-2.09z"/><path fill="#877ea6" stroke="#877ea6" stroke-width="0.35" stroke-linejoin="round" d="M58.80 595.14l1.81 1.04v2.09l-1.81 1.04l-1.81 -1.04v-2.09zM66.04 588.88l1.81 1.04v2.09l-1.81 1.04l-1.81 -1.04v-2.09zM56.99 585.74l1.81 1.04v2.09l-1.81 1.04l-1.81 -1.04v-2.09zM60.61 579.48l1.81 1.04v2.09l-1.81 1.04l-1.81 -1.04v-2.09zM62.42 576.34l1.81 1.04v2.09l-1.81 1.04l-1.81 -1.04v-2.09zM80.51 576.34l1.81 1.04v2.09l-1.81 1.04l-1.81 -1.04v-2.09zM76.89 557.54l1.81 1.04v2.09l-1.81 1.04l-1.81 -1.04v-2.09zM80.51 557.54l1.81 1.04v2.09l-1.81 1.04l-1.81 -1.04v-2.09zM84.13 551.28l1.81 1.04v2.09l-1.81 1.04l-1.81 -1.04v-2.09zM98.60 551.28l1.81 1.04v2.09l-1.81 1.04l-1.81 -1.04v-2.09zM100.41 548.14l1.81 1.04v2.09l-1.81 1.04l-1.81 -1.04v-2.09zM104.03 548.14l1.81 1.04v2.09l-1.81 1.04l-1.81 -1.04v-2.09zM94.98 545.01l1.81 1.04v2.09l-1.81 1.04l-1.81 -1.04v-2.09zM96.79 541.88l1.81 1.04v2.09l-1.81 1.04l-1.81 -1.04v-2.09zM100.41 535.61l1.81 1.04v2.09l-1.81 1.04l-1.81 -1.04v-2.09z"/><path fill="#958199" stroke="#958199" stroke-width="0.35" stroke-linejoin="round" d="M53.37 592.01l1.81 1.04v2.09l-1.81 1.04l-1.81 -1.04v-2.09zM55.18 588.88l1.81 1.04v2.09l-1.81 1.04l-1.81 -1.04v-2.09zM58.80 582.61l1.81 1.04v2.09l-1.81 1.04l-1.81 -1.04v-2.09zM73.27 582.61l1.81 1.04v2.09l-1.81 1.04l-1.81 -1.04v-2.09zM71.47 566.94l1.81 1.04v2.09l-1.81 1.04l-1.81 -1.04v-2.09zM73.27 563.81l1.81 1.04v2.09l-1.81 1.04l-1.81 -1.04v-2.09zM75.08 560.68l1.81 1.04v2.09l-1.81 1.04l-1.81 -1.04v-2.09zM78.70 560.68l1.81 1.04v2.09l-1.81 1.04l-1.81 -1.04v-2.09zM93.17 560.68l1.81 1.04v2.09l-1.81 1.04l-1.81 -1.04v-2.09zM82.32 554.41l1.81 1.04v2.09l-1.81 1.04l-1.81 -1.04v-2.09zM85.94 554.41l1.81 1.04v2.09l-1.81 1.04l-1.81 -1.04v-2.09zM87.75 551.28l1.81 1.04v2.09l-1.81 1.04l-1.81 -1.04v-2.09zM91.36 551.28l1.81 1.04v2.09l-1.81 1.04l-1.81 -1.04v-2.09zM89.56 548.14l1.81 1.04v2.09l-1.81 1.04l-1.81 -1.04v-2.09zM93.17 548.14l1.81 1.04v2.09l-1.81 1.04l-1.81 -1.04v-2.09zM91.36 545.01l1.81 1.04v2.09l-1.81 1.04l-1.81 -1.04v-2.09zM102.22 545.01l1.81 1.04v2.09l-1.81 1.04l-1.81 -1.04v-2.09zM105.84 545.01l1.81 1.04v2.09l-1.81 1.04l-1.81 -1.04v-2.09zM104.03 541.88l1.81 1.04v2.09l-1.81 1.04l-1.81 -1.04v-2.09zM107.65 541.88l1.81 1.04v2.09l-1.81 1.04l-1.81 -1.04v-2.09zM98.60 538.74l1.81 1.04v2.09l-1.81 1.04l-1.81 -1.04v-2.09zM102.22 538.74l1.81 1.04v2.09l-1.81 1.04l-1.81 -1.04v-2.09zM105.84 538.74l1.81 1.04v2.09l-1.81 1.04l-1.81 -1.04v-2.09zM104.03 535.61l1.81 1.04v2.09l-1.81 1.04l-1.81 -1.04v-2.09zM107.65 535.61l1.81 1.04v2.09l-1.81 1.04l-1.81 -1.04v-2.09z"/><path fill="#a28493" stroke="#a28493" stroke-width="0.35" stroke-linejoin="round" d="M82.32 573.21l1.81 1.04v2.09l-1.81 1.04l-1.81 -1.04v-2.09zM69.66 570.08l1.81 1.04v2.09l-1.81 1.04l-1.81 -1.04v-2.09zM76.89 563.81l1.81 1.04v2.09l-1.81 1.04l-1.81 -1.04v-2.09zM84.13 557.54l1.81 1.04v2.09l-1.81 1.04l-1.81 -1.04v-2.09zM89.56 554.41l1.81 1.04v2.09l-1.81 1.04l-1.81 -1.04v-2.09zM96.79 548.14l1.81 1.04v2.09l-1.81 1.04l-1.81 -1.04v-2.09zM98.60 545.01l1.81 1.04v2.09l-1.81 1.04l-1.81 -1.04v-2.09zM100.41 541.88l1.81 1.04v2.09l-1.81 1.04l-1.81 -1.04v-2.09z"/><path fill="#b88a7f" stroke="#b88a7f" stroke-width="0.35" stroke-linejoin="round" d="M75.08 579.48l1.81 1.04v2.09l-1.81 1.04l-1.81 -1.04v-2.09zM67.85 573.21l1.81 1.04v2.09l-1.81 1.04l-1.81 -1.04v-2.09zM84.13 570.08l1.81 1.04v2.09l-1.81 1.04l-1.81 -1.04v-2.09zM85.94 566.94l1.81 1.04v2.09l-1.81 1.04l-1.81 -1.04v-2.09zM82.32 560.68l1.81 1.04v2.09l-1.81 1.04l-1.81 -1.04v-2.09zM85.94 560.68l1.81 1.04v2.09l-1.81 1.04l-1.81 -1.04v-2.09zM89.56 560.68l1.81 1.04v2.09l-1.81 1.04l-1.81 -1.04v-2.09zM87.75 557.54l1.81 1.04v2.09l-1.81 1.04l-1.81 -1.04v-2.09zM91.36 557.54l1.81 1.04v2.09l-1.81 1.04l-1.81 -1.04v-2.09zM94.98 557.54l1.81 1.04v2.09l-1.81 1.04l-1.81 -1.04v-2.09zM93.17 554.41l1.81 1.04v2.09l-1.81 1.04l-1.81 -1.04v-2.09zM96.79 554.41l1.81 1.04v2.09l-1.81 1.04l-1.81 -1.04v-2.09zM94.98 551.28l1.81 1.04v2.09l-1.81 1.04l-1.81 -1.04v-2.09z"/><path fill="#cc916a" stroke="#cc916a" stroke-width="0.35" stroke-linejoin="round" d="M67.85 585.74l1.81 1.04v2.09l-1.81 1.04l-1.81 -1.04v-2.09zM66.04 576.34l1.81 1.04v2.09l-1.81 1.04l-1.81 -1.04v-2.09zM76.89 576.34l1.81 1.04v2.09l-1.81 1.04l-1.81 -1.04v-2.09zM75.08 566.94l1.81 1.04v2.09l-1.81 1.04l-1.81 -1.04v-2.09zM84.13 563.81l1.81 1.04v2.09l-1.81 1.04l-1.81 -1.04v-2.09zM87.75 563.81l1.81 1.04v2.09l-1.81 1.04l-1.81 -1.04v-2.09z"/><path fill="#de9753" stroke="#de9753" stroke-width="0.35" stroke-linejoin="round" d="M60.61 592.01l1.81 1.04v2.09l-1.81 1.04l-1.81 -1.04v-2.09zM71.47 579.48l1.81 1.04v2.09l-1.81 1.04l-1.81 -1.04v-2.09zM69.66 576.34l1.81 1.04v2.09l-1.81 1.04l-1.81 -1.04v-2.09zM76.89 570.08l1.81 1.04v2.09l-1.81 1.04l-1.81 -1.04v-2.09z"/><path fill="#ef9e38" stroke="#ef9e38" stroke-width="0.35" stroke-linejoin="round" d="M58.80 588.88l1.81 1.04v2.09l-1.81 1.04l-1.81 -1.04v-2.09zM62.42 588.88l1.81 1.04v2.09l-1.81 1.04l-1.81 -1.04v-2.09zM66.04 582.61l1.81 1.04v2.09l-1.81 1.04l-1.81 -1.04v-2.09zM69.66 582.61l1.81 1.04v2.09l-1.81 1.04l-1.81 -1.04v-2.09zM64.23 579.48l1.81 1.04v2.09l-1.81 1.04l-1.81 -1.04v-2.09zM67.85 579.48l1.81 1.04v2.09l-1.81 1.04l-1.81 -1.04v-2.09zM73.27 576.34l1.81 1.04v2.09l-1.81 1.04l-1.81 -1.04v-2.09zM71.47 573.21l1.81 1.04v2.09l-1.81 1.04l-1.81 -1.04v-2.09zM75.08 573.21l1.81 1.04v2.09l-1.81 1.04l-1.81 -1.04v-2.09zM78.70 573.21l1.81 1.04v2.09l-1.81 1.04l-1.81 -1.04v-2.09zM73.27 570.08l1.81 1.04v2.09l-1.81 1.04l-1.81 -1.04v-2.09zM80.51 570.08l1.81 1.04v2.09l-1.81 1.04l-1.81 -1.04v-2.09zM82.32 566.94l1.81 1.04v2.09l-1.81 1.04l-1.81 -1.04v-2.09z"/><path fill="#ffa500" stroke="#ffa500" stroke-width="0.35" stroke-linejoin="round" d="M62.42 582.61l1.81 1.04v2.09l-1.81 1.04l-1.81 -1.04v-2.09zM78.70 566.94l1.81 1.04v2.09l-1.81 1.04l-1.81 -1.04v-2.09zM80.51 563.81l1.81 1.04v2.09l-1.81 1.04l-1.81 -1.04v-2.09z"/><path fill="#ffbc00" stroke="#ffbc00" stroke-width="0.35" stroke-linejoin="round" d="M56.99 592.01l1.81 1.04v2.09l-1.81 1.04l-1.81 -1.04v-2.09zM60.61 585.74l1.81 1.04v2.09l-1.81 1.04l-1.81 -1.04v-2.09zM64.23 585.74l1.81 1.04v2.09l-1.81 1.04l-1.81 -1.04v-2.09z"/><path fill="#ffe900" stroke="#ffe900" stroke-width="0.35" stroke-linejoin="round" d="M51.57 595.14l1.81 1.04v2.09l-1.81 1.04l-1.81 -1.04v-2.09zM55.18 595.14l1.81 1.04v2.09l-1.81 1.04l-1.81 -1.04v-2.09z"/><path fill="#ffff00" stroke="#ffff00" stroke-width="0.35" stroke-linejoin="round" d="M53.37 598.28l1.81 1.04v2.09l-1.81 1.04l-1.81 -1.04v-2.09z"/></g>
<line x1="42.5" y1="607.5" x2="186.5" y2="463.5" stroke="#000" stroke-opacity="0.48" stroke-width="1.1"/>
<rect x="42.5" y="463.5" width="144" height="144" fill="none" stroke="#333" stroke-width="1.25"/>
<path d="M48.51 607.5v3M42.5 601.49h-3M81.50 607.5v3M42.5 568.50h-3M114.50 607.5v3M42.5 535.50h-3M147.50 607.5v3M42.5 502.50h-3M180.49 607.5v3M42.5 469.51h-3" stroke="#333" stroke-width="1" fill="none"/>
<text x="48.51" y="620.70" font-size="10.5" text-anchor="middle" fill="#000">0</text>
<text x="37.00" y="605.49" font-size="10.5" text-anchor="end" fill="#000">0</text>
<text x="81.50" y="620.70" font-size="10.5" text-anchor="middle" fill="#000">25</text>
<text x="37.00" y="572.50" font-size="10.5" text-anchor="end" fill="#000">25</text>
<text x="114.50" y="620.70" font-size="10.5" text-anchor="middle" fill="#000">50</text>
<text x="37.00" y="539.50" font-size="10.5" text-anchor="end" fill="#000">50</text>
<text x="147.50" y="620.70" font-size="10.5" text-anchor="middle" fill="#000">75</text>
<text x="37.00" y="506.50" font-size="10.5" text-anchor="end" fill="#000">75</text>
<text x="180.49" y="620.70" font-size="10.5" text-anchor="middle" fill="#000">100</text>
<text x="37.00" y="473.51" font-size="10.5" text-anchor="end" fill="#000">100</text>
<text x="114.50" y="455.8" font-size="10.7" font-weight="bold" text-anchor="middle">Basal area − spruce</text>
<text x="114.50" y="635.50" font-size="10.6" text-anchor="middle"><tspan>Predicted basal area (m</tspan><tspan font-size="7.1" dy="-4.5">2</tspan><tspan dy="4.5"> · ha</tspan><tspan font-size="7.1" dy="-4.5">−1</tspan><tspan dy="4.5">)</tspan></text>
<text transform="translate(11.90,535.50) rotate(-90)" font-size="10.6" text-anchor="middle"><tspan>Field measured basal area (m</tspan><tspan font-size="7.1" dy="-4.5">2</tspan><tspan dy="4.5"> · ha</tspan><tspan font-size="7.1" dy="-4.5">−1</tspan><tspan dy="4.5">)</tspan></text>
<clipPath id="c282_463"><rect x="282.5" y="463.5" width="144" height="144"/></clipPath><g clip-path="url(#c282_463)"><path fill="#1f72cf" stroke="#1f72cf" stroke-width="0.35" stroke-linejoin="round" d="M287.57 601.25l1.81 1.04v2.09l-1.81 1.04l-1.81 -1.04v-2.09zM300.24 598.11l1.81 1.04v2.09l-1.81 1.04l-1.81 -1.04v-2.09zM303.86 598.11l1.81 1.04v2.09l-1.81 1.04l-1.81 -1.04v-2.09zM287.57 594.98l1.81 1.04v2.09l-1.81 1.04l-1.81 -1.04v-2.09zM305.66 594.98l1.81 1.04v2.09l-1.81 1.04l-1.81 -1.04v-2.09zM309.28 594.98l1.81 1.04v2.09l-1.81 1.04l-1.81 -1.04v-2.09zM312.90 594.98l1.81 1.04v2.09l-1.81 1.04l-1.81 -1.04v-2.09zM289.38 591.85l1.81 1.04v2.09l-1.81 1.04l-1.81 -1.04v-2.09zM314.71 591.85l1.81 1.04v2.09l-1.81 1.04l-1.81 -1.04v-2.09zM291.19 588.71l1.81 1.04v2.09l-1.81 1.04l-1.81 -1.04v-2.09zM309.28 588.71l1.81 1.04v2.09l-1.81 1.04l-1.81 -1.04v-2.09zM320.14 588.71l1.81 1.04v2.09l-1.81 1.04l-1.81 -1.04v-2.09zM323.76 588.71l1.81 1.04v2.09l-1.81 1.04l-1.81 -1.04v-2.09zM289.38 585.58l1.81 1.04v2.09l-1.81 1.04l-1.81 -1.04v-2.09zM321.95 585.58l1.81 1.04v2.09l-1.81 1.04l-1.81 -1.04v-2.09zM294.81 582.44l1.81 1.04v2.09l-1.81 1.04l-1.81 -1.04v-2.09zM320.14 582.44l1.81 1.04v2.09l-1.81 1.04l-1.81 -1.04v-2.09zM327.37 582.44l1.81 1.04v2.09l-1.81 1.04l-1.81 -1.04v-2.09zM329.18 579.31l1.81 1.04v2.09l-1.81 1.04l-1.81 -1.04v-2.09zM332.80 579.31l1.81 1.04v2.09l-1.81 1.04l-1.81 -1.04v-2.09zM302.05 576.18l1.81 1.04v2.09l-1.81 1.04l-1.81 -1.04v-2.09zM327.37 576.18l1.81 1.04v2.09l-1.81 1.04l-1.81 -1.04v-2.09zM330.99 576.18l1.81 1.04v2.09l-1.81 1.04l-1.81 -1.04v-2.09zM334.61 576.18l1.81 1.04v2.09l-1.81 1.04l-1.81 -1.04v-2.09zM338.23 576.18l1.81 1.04v2.09l-1.81 1.04l-1.81 -1.04v-2.09zM300.24 573.04l1.81 1.04v2.09l-1.81 1.04l-1.81 -1.04v-2.09zM329.18 573.04l1.81 1.04v2.09l-1.81 1.04l-1.81 -1.04v-2.09zM336.42 573.04l1.81 1.04v2.09l-1.81 1.04l-1.81 -1.04v-2.09zM340.04 573.04l1.81 1.04v2.09l-1.81 1.04l-1.81 -1.04v-2.09zM343.65 573.04l1.81 1.04v2.09l-1.81 1.04l-1.81 -1.04v-2.09zM302.05 569.91l1.81 1.04v2.09l-1.81 1.04l-1.81 -1.04v-2.09zM341.85 569.91l1.81 1.04v2.09l-1.81 1.04l-1.81 -1.04v-2.09zM345.46 569.91l1.81 1.04v2.09l-1.81 1.04l-1.81 -1.04v-2.09zM303.86 566.78l1.81 1.04v2.09l-1.81 1.04l-1.81 -1.04v-2.09zM343.65 566.78l1.81 1.04v2.09l-1.81 1.04l-1.81 -1.04v-2.09zM345.46 563.64l1.81 1.04v2.09l-1.81 1.04l-1.81 -1.04v-2.09zM303.86 560.51l1.81 1.04v2.09l-1.81 1.04l-1.81 -1.04v-2.09zM343.65 560.51l1.81 1.04v2.09l-1.81 1.04l-1.81 -1.04v-2.09zM305.66 557.38l1.81 1.04v2.09l-1.81 1.04l-1.81 -1.04v-2.09zM309.28 557.38l1.81 1.04v2.09l-1.81 1.04l-1.81 -1.04v-2.09zM345.46 557.38l1.81 1.04v2.09l-1.81 1.04l-1.81 -1.04v-2.09zM347.27 554.24l1.81 1.04v2.09l-1.81 1.04l-1.81 -1.04v-2.09zM350.89 554.24l1.81 1.04v2.09l-1.81 1.04l-1.81 -1.04v-2.09zM352.70 551.11l1.81 1.04v2.09l-1.81 1.04l-1.81 -1.04v-2.09zM318.33 547.98l1.81 1.04v2.09l-1.81 1.04l-1.81 -1.04v-2.09zM350.89 547.98l1.81 1.04v2.09l-1.81 1.04l-1.81 -1.04v-2.09zM316.52 544.84l1.81 1.04v2.09l-1.81 1.04l-1.81 -1.04v-2.09zM320.14 544.84l1.81 1.04v2.09l-1.81 1.04l-1.81 -1.04v-2.09zM352.70 544.84l1.81 1.04v2.09l-1.81 1.04l-1.81 -1.04v-2.09zM323.76 538.58l1.81 1.04v2.09l-1.81 1.04l-1.81 -1.04v-2.09zM327.37 538.58l1.81 1.04v2.09l-1.81 1.04l-1.81 -1.04v-2.09zM352.70 538.58l1.81 1.04v2.09l-1.81 1.04l-1.81 -1.04v-2.09zM329.18 535.44l1.81 1.04v2.09l-1.81 1.04l-1.81 -1.04v-2.09zM330.99 532.31l1.81 1.04v2.09l-1.81 1.04l-1.81 -1.04v-2.09zM356.32 532.31l1.81 1.04v2.09l-1.81 1.04l-1.81 -1.04v-2.09zM336.42 529.18l1.81 1.04v2.09l-1.81 1.04l-1.81 -1.04v-2.09zM358.13 529.18l1.81 1.04v2.09l-1.81 1.04l-1.81 -1.04v-2.09zM338.23 526.04l1.81 1.04v2.09l-1.81 1.04l-1.81 -1.04v-2.09zM341.85 526.04l1.81 1.04v2.09l-1.81 1.04l-1.81 -1.04v-2.09zM345.46 526.04l1.81 1.04v2.09l-1.81 1.04l-1.81 -1.04v-2.09zM356.32 526.04l1.81 1.04v2.09l-1.81 1.04l-1.81 -1.04v-2.09zM359.94 526.04l1.81 1.04v2.09l-1.81 1.04l-1.81 -1.04v-2.09zM347.27 522.91l1.81 1.04v2.09l-1.81 1.04l-1.81 -1.04v-2.09zM350.89 522.91l1.81 1.04v2.09l-1.81 1.04l-1.81 -1.04v-2.09zM352.70 519.78l1.81 1.04v2.09l-1.81 1.04l-1.81 -1.04v-2.09zM356.32 519.78l1.81 1.04v2.09l-1.81 1.04l-1.81 -1.04v-2.09zM350.89 566.78l1.81 1.04v2.09l-1.81 1.04l-1.81 -1.04v-2.09zM352.70 576.18l1.81 1.04v2.09l-1.81 1.04l-1.81 -1.04v-2.09zM352.70 513.51l1.81 1.04v2.09l-1.81 1.04l-1.81 -1.04v-2.09zM338.23 519.78l1.81 1.04v2.09l-1.81 1.04l-1.81 -1.04v-2.09zM345.46 519.78l1.81 1.04v2.09l-1.81 1.04l-1.81 -1.04v-2.09zM361.75 535.44l1.81 1.04v2.09l-1.81 1.04l-1.81 -1.04v-2.09zM363.55 532.31l1.81 1.04v2.09l-1.81 1.04l-1.81 -1.04v-2.09zM367.17 532.31l1.81 1.04v2.09l-1.81 1.04l-1.81 -1.04v-2.09zM372.60 535.44l1.81 1.04v2.09l-1.81 1.04l-1.81 -1.04v-2.09zM379.84 529.18l1.81 1.04v2.09l-1.81 1.04l-1.81 -1.04v-2.09zM361.75 541.71l1.81 1.04v2.09l-1.81 1.04l-1.81 -1.04v-2.09zM354.51 472.78l1.81 1.04v2.09l-1.81 1.04l-1.81 -1.04v-2.09zM354.51 491.58l1.81 1.04v2.09l-1.81 1.04l-1.81 -1.04v-2.09zM356.32 500.98l1.81 1.04v2.09l-1.81 1.04l-1.81 -1.04v-2.09zM365.36 566.78l1.81 1.04v2.09l-1.81 1.04l-1.81 -1.04v-2.09z"/><path fill="#4a76c4" stroke="#4a76c4" stroke-width="0.35" stroke-linejoin="round" d="M291.19 601.25l1.81 1.04v2.09l-1.81 1.04l-1.81 -1.04v-2.09zM296.62 598.11l1.81 1.04v2.09l-1.81 1.04l-1.81 -1.04v-2.09zM302.05 594.98l1.81 1.04v2.09l-1.81 1.04l-1.81 -1.04v-2.09zM307.47 591.85l1.81 1.04v2.09l-1.81 1.04l-1.81 -1.04v-2.09zM311.09 591.85l1.81 1.04v2.09l-1.81 1.04l-1.81 -1.04v-2.09zM318.33 591.85l1.81 1.04v2.09l-1.81 1.04l-1.81 -1.04v-2.09zM321.95 591.85l1.81 1.04v2.09l-1.81 1.04l-1.81 -1.04v-2.09zM312.90 588.71l1.81 1.04v2.09l-1.81 1.04l-1.81 -1.04v-2.09zM316.52 588.71l1.81 1.04v2.09l-1.81 1.04l-1.81 -1.04v-2.09zM311.09 585.58l1.81 1.04v2.09l-1.81 1.04l-1.81 -1.04v-2.09zM314.71 585.58l1.81 1.04v2.09l-1.81 1.04l-1.81 -1.04v-2.09zM318.33 585.58l1.81 1.04v2.09l-1.81 1.04l-1.81 -1.04v-2.09zM291.19 582.44l1.81 1.04v2.09l-1.81 1.04l-1.81 -1.04v-2.09zM316.52 582.44l1.81 1.04v2.09l-1.81 1.04l-1.81 -1.04v-2.09zM323.76 582.44l1.81 1.04v2.09l-1.81 1.04l-1.81 -1.04v-2.09zM296.62 579.31l1.81 1.04v2.09l-1.81 1.04l-1.81 -1.04v-2.09zM300.24 579.31l1.81 1.04v2.09l-1.81 1.04l-1.81 -1.04v-2.09zM318.33 579.31l1.81 1.04v2.09l-1.81 1.04l-1.81 -1.04v-2.09zM321.95 579.31l1.81 1.04v2.09l-1.81 1.04l-1.81 -1.04v-2.09zM325.56 579.31l1.81 1.04v2.09l-1.81 1.04l-1.81 -1.04v-2.09zM323.76 576.18l1.81 1.04v2.09l-1.81 1.04l-1.81 -1.04v-2.09zM332.80 573.04l1.81 1.04v2.09l-1.81 1.04l-1.81 -1.04v-2.09zM327.37 569.91l1.81 1.04v2.09l-1.81 1.04l-1.81 -1.04v-2.09zM330.99 569.91l1.81 1.04v2.09l-1.81 1.04l-1.81 -1.04v-2.09zM334.61 569.91l1.81 1.04v2.09l-1.81 1.04l-1.81 -1.04v-2.09zM338.23 569.91l1.81 1.04v2.09l-1.81 1.04l-1.81 -1.04v-2.09zM307.47 566.78l1.81 1.04v2.09l-1.81 1.04l-1.81 -1.04v-2.09zM329.18 566.78l1.81 1.04v2.09l-1.81 1.04l-1.81 -1.04v-2.09zM336.42 566.78l1.81 1.04v2.09l-1.81 1.04l-1.81 -1.04v-2.09zM340.04 566.78l1.81 1.04v2.09l-1.81 1.04l-1.81 -1.04v-2.09zM305.66 563.64l1.81 1.04v2.09l-1.81 1.04l-1.81 -1.04v-2.09zM330.99 563.64l1.81 1.04v2.09l-1.81 1.04l-1.81 -1.04v-2.09zM338.23 563.64l1.81 1.04v2.09l-1.81 1.04l-1.81 -1.04v-2.09zM341.85 563.64l1.81 1.04v2.09l-1.81 1.04l-1.81 -1.04v-2.09zM311.09 560.51l1.81 1.04v2.09l-1.81 1.04l-1.81 -1.04v-2.09zM314.71 560.51l1.81 1.04v2.09l-1.81 1.04l-1.81 -1.04v-2.09zM336.42 560.51l1.81 1.04v2.09l-1.81 1.04l-1.81 -1.04v-2.09zM340.04 560.51l1.81 1.04v2.09l-1.81 1.04l-1.81 -1.04v-2.09zM312.90 557.38l1.81 1.04v2.09l-1.81 1.04l-1.81 -1.04v-2.09zM338.23 557.38l1.81 1.04v2.09l-1.81 1.04l-1.81 -1.04v-2.09zM341.85 557.38l1.81 1.04v2.09l-1.81 1.04l-1.81 -1.04v-2.09zM314.71 554.24l1.81 1.04v2.09l-1.81 1.04l-1.81 -1.04v-2.09zM318.33 554.24l1.81 1.04v2.09l-1.81 1.04l-1.81 -1.04v-2.09zM340.04 554.24l1.81 1.04v2.09l-1.81 1.04l-1.81 -1.04v-2.09zM343.65 554.24l1.81 1.04v2.09l-1.81 1.04l-1.81 -1.04v-2.09zM316.52 551.11l1.81 1.04v2.09l-1.81 1.04l-1.81 -1.04v-2.09zM320.14 551.11l1.81 1.04v2.09l-1.81 1.04l-1.81 -1.04v-2.09zM341.85 551.11l1.81 1.04v2.09l-1.81 1.04l-1.81 -1.04v-2.09zM345.46 551.11l1.81 1.04v2.09l-1.81 1.04l-1.81 -1.04v-2.09zM343.65 547.98l1.81 1.04v2.09l-1.81 1.04l-1.81 -1.04v-2.09zM323.76 544.84l1.81 1.04v2.09l-1.81 1.04l-1.81 -1.04v-2.09zM330.99 544.84l1.81 1.04v2.09l-1.81 1.04l-1.81 -1.04v-2.09zM334.61 544.84l1.81 1.04v2.09l-1.81 1.04l-1.81 -1.04v-2.09zM338.23 544.84l1.81 1.04v2.09l-1.81 1.04l-1.81 -1.04v-2.09zM341.85 544.84l1.81 1.04v2.09l-1.81 1.04l-1.81 -1.04v-2.09zM321.95 541.71l1.81 1.04v2.09l-1.81 1.04l-1.81 -1.04v-2.09zM325.56 541.71l1.81 1.04v2.09l-1.81 1.04l-1.81 -1.04v-2.09zM332.80 541.71l1.81 1.04v2.09l-1.81 1.04l-1.81 -1.04v-2.09zM340.04 541.71l1.81 1.04v2.09l-1.81 1.04l-1.81 -1.04v-2.09zM343.65 541.71l1.81 1.04v2.09l-1.81 1.04l-1.81 -1.04v-2.09zM347.27 541.71l1.81 1.04v2.09l-1.81 1.04l-1.81 -1.04v-2.09zM350.89 541.71l1.81 1.04v2.09l-1.81 1.04l-1.81 -1.04v-2.09zM334.61 538.58l1.81 1.04v2.09l-1.81 1.04l-1.81 -1.04v-2.09zM338.23 538.58l1.81 1.04v2.09l-1.81 1.04l-1.81 -1.04v-2.09zM341.85 538.58l1.81 1.04v2.09l-1.81 1.04l-1.81 -1.04v-2.09zM349.08 538.58l1.81 1.04v2.09l-1.81 1.04l-1.81 -1.04v-2.09zM332.80 535.44l1.81 1.04v2.09l-1.81 1.04l-1.81 -1.04v-2.09zM336.42 535.44l1.81 1.04v2.09l-1.81 1.04l-1.81 -1.04v-2.09zM340.04 535.44l1.81 1.04v2.09l-1.81 1.04l-1.81 -1.04v-2.09zM354.51 535.44l1.81 1.04v2.09l-1.81 1.04l-1.81 -1.04v-2.09zM334.61 532.31l1.81 1.04v2.09l-1.81 1.04l-1.81 -1.04v-2.09zM345.46 532.31l1.81 1.04v2.09l-1.81 1.04l-1.81 -1.04v-2.09zM340.04 529.18l1.81 1.04v2.09l-1.81 1.04l-1.81 -1.04v-2.09zM350.89 529.18l1.81 1.04v2.09l-1.81 1.04l-1.81 -1.04v-2.09zM354.51 529.18l1.81 1.04v2.09l-1.81 1.04l-1.81 -1.04v-2.09zM352.70 526.04l1.81 1.04v2.09l-1.81 1.04l-1.81 -1.04v-2.09zM354.51 522.91l1.81 1.04v2.09l-1.81 1.04l-1.81 -1.04v-2.09z"/><path fill="#6379ba" stroke="#6379ba" stroke-width="0.35" stroke-linejoin="round" d="M320.14 576.18l1.81 1.04v2.09l-1.81 1.04l-1.81 -1.04v-2.09zM325.56 573.04l1.81 1.04v2.09l-1.81 1.04l-1.81 -1.04v-2.09zM332.80 566.78l1.81 1.04v2.09l-1.81 1.04l-1.81 -1.04v-2.09zM309.28 563.64l1.81 1.04v2.09l-1.81 1.04l-1.81 -1.04v-2.09zM334.61 563.64l1.81 1.04v2.09l-1.81 1.04l-1.81 -1.04v-2.09zM307.47 560.51l1.81 1.04v2.09l-1.81 1.04l-1.81 -1.04v-2.09zM332.80 560.51l1.81 1.04v2.09l-1.81 1.04l-1.81 -1.04v-2.09zM316.52 557.38l1.81 1.04v2.09l-1.81 1.04l-1.81 -1.04v-2.09zM321.95 554.24l1.81 1.04v2.09l-1.81 1.04l-1.81 -1.04v-2.09zM323.76 551.11l1.81 1.04v2.09l-1.81 1.04l-1.81 -1.04v-2.09zM321.95 547.98l1.81 1.04v2.09l-1.81 1.04l-1.81 -1.04v-2.09zM325.56 547.98l1.81 1.04v2.09l-1.81 1.04l-1.81 -1.04v-2.09zM329.18 547.98l1.81 1.04v2.09l-1.81 1.04l-1.81 -1.04v-2.09zM340.04 547.98l1.81 1.04v2.09l-1.81 1.04l-1.81 -1.04v-2.09zM347.27 547.98l1.81 1.04v2.09l-1.81 1.04l-1.81 -1.04v-2.09zM327.37 544.84l1.81 1.04v2.09l-1.81 1.04l-1.81 -1.04v-2.09zM345.46 544.84l1.81 1.04v2.09l-1.81 1.04l-1.81 -1.04v-2.09zM349.08 544.84l1.81 1.04v2.09l-1.81 1.04l-1.81 -1.04v-2.09zM329.18 541.71l1.81 1.04v2.09l-1.81 1.04l-1.81 -1.04v-2.09zM336.42 541.71l1.81 1.04v2.09l-1.81 1.04l-1.81 -1.04v-2.09zM343.65 535.44l1.81 1.04v2.09l-1.81 1.04l-1.81 -1.04v-2.09zM347.27 535.44l1.81 1.04v2.09l-1.81 1.04l-1.81 -1.04v-2.09zM338.23 532.31l1.81 1.04v2.09l-1.81 1.04l-1.81 -1.04v-2.09zM352.70 532.31l1.81 1.04v2.09l-1.81 1.04l-1.81 -1.04v-2.09zM343.65 529.18l1.81 1.04v2.09l-1.81 1.04l-1.81 -1.04v-2.09zM347.27 529.18l1.81 1.04v2.09l-1.81 1.04l-1.81 -1.04v-2.09z"/><path fill="#767bb0" stroke="#767bb0" stroke-width="0.35" stroke-linejoin="round" d="M312.90 582.44l1.81 1.04v2.09l-1.81 1.04l-1.81 -1.04v-2.09zM321.95 573.04l1.81 1.04v2.09l-1.81 1.04l-1.81 -1.04v-2.09zM305.66 569.91l1.81 1.04v2.09l-1.81 1.04l-1.81 -1.04v-2.09zM312.90 563.64l1.81 1.04v2.09l-1.81 1.04l-1.81 -1.04v-2.09zM338.23 551.11l1.81 1.04v2.09l-1.81 1.04l-1.81 -1.04v-2.09z"/><path fill="#877ea6" stroke="#877ea6" stroke-width="0.35" stroke-linejoin="round" d="M303.86 591.85l1.81 1.04v2.09l-1.81 1.04l-1.81 -1.04v-2.09zM294.81 588.71l1.81 1.04v2.09l-1.81 1.04l-1.81 -1.04v-2.09zM293.00 585.58l1.81 1.04v2.09l-1.81 1.04l-1.81 -1.04v-2.09zM296.62 585.58l1.81 1.04v2.09l-1.81 1.04l-1.81 -1.04v-2.09zM298.43 582.44l1.81 1.04v2.09l-1.81 1.04l-1.81 -1.04v-2.09zM303.86 579.31l1.81 1.04v2.09l-1.81 1.04l-1.81 -1.04v-2.09zM305.66 576.18l1.81 1.04v2.09l-1.81 1.04l-1.81 -1.04v-2.09zM303.86 573.04l1.81 1.04v2.09l-1.81 1.04l-1.81 -1.04v-2.09zM320.14 557.38l1.81 1.04v2.09l-1.81 1.04l-1.81 -1.04v-2.09zM330.99 557.38l1.81 1.04v2.09l-1.81 1.04l-1.81 -1.04v-2.09zM334.61 557.38l1.81 1.04v2.09l-1.81 1.04l-1.81 -1.04v-2.09zM327.37 551.11l1.81 1.04v2.09l-1.81 1.04l-1.81 -1.04v-2.09zM334.61 551.11l1.81 1.04v2.09l-1.81 1.04l-1.81 -1.04v-2.09z"/><path fill="#958199" stroke="#958199" stroke-width="0.35" stroke-linejoin="round" d="M291.19 594.98l1.81 1.04v2.09l-1.81 1.04l-1.81 -1.04v-2.09zM298.43 594.98l1.81 1.04v2.09l-1.81 1.04l-1.81 -1.04v-2.09zM314.71 579.31l1.81 1.04v2.09l-1.81 1.04l-1.81 -1.04v-2.09zM323.76 569.91l1.81 1.04v2.09l-1.81 1.04l-1.81 -1.04v-2.09zM325.56 566.78l1.81 1.04v2.09l-1.81 1.04l-1.81 -1.04v-2.09zM318.33 560.51l1.81 1.04v2.09l-1.81 1.04l-1.81 -1.04v-2.09zM325.56 554.24l1.81 1.04v2.09l-1.81 1.04l-1.81 -1.04v-2.09zM332.80 554.24l1.81 1.04v2.09l-1.81 1.04l-1.81 -1.04v-2.09zM330.99 551.11l1.81 1.04v2.09l-1.81 1.04l-1.81 -1.04v-2.09zM332.80 547.98l1.81 1.04v2.09l-1.81 1.04l-1.81 -1.04v-2.09z"/><path fill="#a28493" stroke="#a28493" stroke-width="0.35" stroke-linejoin="round" d="M305.66 588.71l1.81 1.04v2.09l-1.81 1.04l-1.81 -1.04v-2.09zM307.47 585.58l1.81 1.04v2.09l-1.81 1.04l-1.81 -1.04v-2.09zM320.14 569.91l1.81 1.04v2.09l-1.81 1.04l-1.81 -1.04v-2.09zM311.09 566.78l1.81 1.04v2.09l-1.81 1.04l-1.81 -1.04v-2.09zM316.52 563.64l1.81 1.04v2.09l-1.81 1.04l-1.81 -1.04v-2.09zM327.37 563.64l1.81 1.04v2.09l-1.81 1.04l-1.81 -1.04v-2.09zM329.18 554.24l1.81 1.04v2.09l-1.81 1.04l-1.81 -1.04v-2.09zM336.42 554.24l1.81 1.04v2.09l-1.81 1.04l-1.81 -1.04v-2.09zM336.42 547.98l1.81 1.04v2.09l-1.81 1.04l-1.81 -1.04v-2.09z"/><path fill="#b88a7f" stroke="#b88a7f" stroke-width="0.35" stroke-linejoin="round" d="M316.52 576.18l1.81 1.04v2.09l-1.81 1.04l-1.81 -1.04v-2.09zM321.95 566.78l1.81 1.04v2.09l-1.81 1.04l-1.81 -1.04v-2.09zM320.14 563.64l1.81 1.04v2.09l-1.81 1.04l-1.81 -1.04v-2.09zM323.76 563.64l1.81 1.04v2.09l-1.81 1.04l-1.81 -1.04v-2.09zM321.95 560.51l1.81 1.04v2.09l-1.81 1.04l-1.81 -1.04v-2.09zM325.56 560.51l1.81 1.04v2.09l-1.81 1.04l-1.81 -1.04v-2.09zM329.18 560.51l1.81 1.04v2.09l-1.81 1.04l-1.81 -1.04v-2.09zM323.76 557.38l1.81 1.04v2.09l-1.81 1.04l-1.81 -1.04v-2.09zM327.37 557.38l1.81 1.04v2.09l-1.81 1.04l-1.81 -1.04v-2.09z"/><path fill="#cc916a" stroke="#cc916a" stroke-width="0.35" stroke-linejoin="round" d="M309.28 582.44l1.81 1.04v2.09l-1.81 1.04l-1.81 -1.04v-2.09zM309.28 569.91l1.81 1.04v2.09l-1.81 1.04l-1.81 -1.04v-2.09zM314.71 566.78l1.81 1.04v2.09l-1.81 1.04l-1.81 -1.04v-2.09zM318.33 566.78l1.81 1.04v2.09l-1.81 1.04l-1.81 -1.04v-2.09z"/><path fill="#de9753" stroke="#de9753" stroke-width="0.35" stroke-linejoin="round" d="M311.09 579.31l1.81 1.04v2.09l-1.81 1.04l-1.81 -1.04v-2.09zM307.47 573.04l1.81 1.04v2.09l-1.81 1.04l-1.81 -1.04v-2.09zM312.90 569.91l1.81 1.04v2.09l-1.81 1.04l-1.81 -1.04v-2.09z"/><path fill="#ef9e38" stroke="#ef9e38" stroke-width="0.35" stroke-linejoin="round" d="M298.43 588.71l1.81 1.04v2.09l-1.81 1.04l-1.81 -1.04v-2.09zM302.05 588.71l1.81 1.04v2.09l-1.81 1.04l-1.81 -1.04v-2.09zM312.90 576.18l1.81 1.04v2.09l-1.81 1.04l-1.81 -1.04v-2.09zM311.09 573.04l1.81 1.04v2.09l-1.81 1.04l-1.81 -1.04v-2.09zM318.33 573.04l1.81 1.04v2.09l-1.81 1.04l-1.81 -1.04v-2.09z"/><path fill="#ffa500" stroke="#ffa500" stroke-width="0.35" stroke-linejoin="round" d="M314.71 573.04l1.81 1.04v2.09l-1.81 1.04l-1.81 -1.04v-2.09zM316.52 569.91l1.81 1.04v2.09l-1.81 1.04l-1.81 -1.04v-2.09z"/><path fill="#ffbc00" stroke="#ffbc00" stroke-width="0.35" stroke-linejoin="round" d="M289.38 598.11l1.81 1.04v2.09l-1.81 1.04l-1.81 -1.04v-2.09zM293.00 598.11l1.81 1.04v2.09l-1.81 1.04l-1.81 -1.04v-2.09zM293.00 591.85l1.81 1.04v2.09l-1.81 1.04l-1.81 -1.04v-2.09zM300.24 591.85l1.81 1.04v2.09l-1.81 1.04l-1.81 -1.04v-2.09zM302.05 582.44l1.81 1.04v2.09l-1.81 1.04l-1.81 -1.04v-2.09zM309.28 576.18l1.81 1.04v2.09l-1.81 1.04l-1.81 -1.04v-2.09z"/><path fill="#ffd300" stroke="#ffd300" stroke-width="0.35" stroke-linejoin="round" d="M307.47 579.31l1.81 1.04v2.09l-1.81 1.04l-1.81 -1.04v-2.09z"/><path fill="#ffff00" stroke="#ffff00" stroke-width="0.35" stroke-linejoin="round" d="M305.66 582.44l1.81 1.04v2.09l-1.81 1.04l-1.81 -1.04v-2.09z"/><path fill="#808080" stroke="#808080" stroke-width="0.35" stroke-linejoin="round" d="M294.81 594.98l1.81 1.04v2.09l-1.81 1.04l-1.81 -1.04v-2.09zM296.62 591.85l1.81 1.04v2.09l-1.81 1.04l-1.81 -1.04v-2.09zM300.24 585.58l1.81 1.04v2.09l-1.81 1.04l-1.81 -1.04v-2.09zM303.86 585.58l1.81 1.04v2.09l-1.81 1.04l-1.81 -1.04v-2.09z"/></g>
<line x1="282.5" y1="607.5" x2="426.5" y2="463.5" stroke="#000" stroke-opacity="0.48" stroke-width="1.1"/>
<rect x="282.5" y="463.5" width="144" height="144" fill="none" stroke="#333" stroke-width="1.25"/>
<path d="M288.51 607.5v3M282.5 601.49h-3M321.50 607.5v3M282.5 568.50h-3M354.50 607.5v3M282.5 535.50h-3M387.50 607.5v3M282.5 502.50h-3M420.49 607.5v3M282.5 469.51h-3" stroke="#333" stroke-width="1" fill="none"/>
<text x="288.51" y="620.70" font-size="10.5" text-anchor="middle" fill="#000">0</text>
<text x="277.00" y="605.49" font-size="10.5" text-anchor="end" fill="#000">0</text>
<text x="321.50" y="620.70" font-size="10.5" text-anchor="middle" fill="#000">25</text>
<text x="277.00" y="572.50" font-size="10.5" text-anchor="end" fill="#000">25</text>
<text x="354.50" y="620.70" font-size="10.5" text-anchor="middle" fill="#000">50</text>
<text x="277.00" y="539.50" font-size="10.5" text-anchor="end" fill="#000">50</text>
<text x="387.50" y="620.70" font-size="10.5" text-anchor="middle" fill="#000">75</text>
<text x="277.00" y="506.50" font-size="10.5" text-anchor="end" fill="#000">75</text>
<text x="420.49" y="620.70" font-size="10.5" text-anchor="middle" fill="#000">100</text>
<text x="277.00" y="473.51" font-size="10.5" text-anchor="end" fill="#000">100</text>
<text x="354.50" y="455.8" font-size="10.7" font-weight="bold" text-anchor="middle">Basal area − pine</text>
<text x="354.50" y="635.50" font-size="10.6" text-anchor="middle"><tspan>Predicted basal area (m</tspan><tspan font-size="7.1" dy="-4.5">2</tspan><tspan dy="4.5"> · ha</tspan><tspan font-size="7.1" dy="-4.5">−1</tspan><tspan dy="4.5">)</tspan></text>
<text transform="translate(251.90,535.50) rotate(-90)" font-size="10.6" text-anchor="middle"><tspan>Field measured basal area (m</tspan><tspan font-size="7.1" dy="-4.5">2</tspan><tspan dy="4.5"> · ha</tspan><tspan font-size="7.1" dy="-4.5">−1</tspan><tspan dy="4.5">)</tspan></text>
<clipPath id="c522_463"><rect x="522.5" y="463.5" width="144" height="144"/></clipPath><g clip-path="url(#c522_463)"><path fill="#1f72cf" stroke="#1f72cf" stroke-width="0.35" stroke-linejoin="round" d="M527.95 601.41l1.81 1.04v2.09l-1.81 1.04l-1.81 -1.04v-2.09zM531.57 601.41l1.81 1.04v2.09l-1.81 1.04l-1.81 -1.04v-2.09zM535.18 601.41l1.81 1.04v2.09l-1.81 1.04l-1.81 -1.04v-2.09zM526.14 598.28l1.81 1.04v2.09l-1.81 1.04l-1.81 -1.04v-2.09zM540.61 598.28l1.81 1.04v2.09l-1.81 1.04l-1.81 -1.04v-2.09zM544.23 598.28l1.81 1.04v2.09l-1.81 1.04l-1.81 -1.04v-2.09zM527.95 595.14l1.81 1.04v2.09l-1.81 1.04l-1.81 -1.04v-2.09zM542.42 595.14l1.81 1.04v2.09l-1.81 1.04l-1.81 -1.04v-2.09zM546.04 595.14l1.81 1.04v2.09l-1.81 1.04l-1.81 -1.04v-2.09zM549.66 595.14l1.81 1.04v2.09l-1.81 1.04l-1.81 -1.04v-2.09zM553.27 595.14l1.81 1.04v2.09l-1.81 1.04l-1.81 -1.04v-2.09zM547.85 592.01l1.81 1.04v2.09l-1.81 1.04l-1.81 -1.04v-2.09zM555.08 592.01l1.81 1.04v2.09l-1.81 1.04l-1.81 -1.04v-2.09zM531.57 588.88l1.81 1.04v2.09l-1.81 1.04l-1.81 -1.04v-2.09zM556.89 588.88l1.81 1.04v2.09l-1.81 1.04l-1.81 -1.04v-2.09zM533.37 585.74l1.81 1.04v2.09l-1.81 1.04l-1.81 -1.04v-2.09zM551.47 585.74l1.81 1.04v2.09l-1.81 1.04l-1.81 -1.04v-2.09zM562.32 585.74l1.81 1.04v2.09l-1.81 1.04l-1.81 -1.04v-2.09zM576.79 585.74l1.81 1.04v2.09l-1.81 1.04l-1.81 -1.04v-2.09zM535.18 582.61l1.81 1.04v2.09l-1.81 1.04l-1.81 -1.04v-2.09zM567.75 582.61l1.81 1.04v2.09l-1.81 1.04l-1.81 -1.04v-2.09zM571.36 582.61l1.81 1.04v2.09l-1.81 1.04l-1.81 -1.04v-2.09zM574.98 582.61l1.81 1.04v2.09l-1.81 1.04l-1.81 -1.04v-2.09zM578.60 582.61l1.81 1.04v2.09l-1.81 1.04l-1.81 -1.04v-2.09zM533.37 579.48l1.81 1.04v2.09l-1.81 1.04l-1.81 -1.04v-2.09zM558.70 579.48l1.81 1.04v2.09l-1.81 1.04l-1.81 -1.04v-2.09zM569.56 579.48l1.81 1.04v2.09l-1.81 1.04l-1.81 -1.04v-2.09zM573.17 579.48l1.81 1.04v2.09l-1.81 1.04l-1.81 -1.04v-2.09zM576.79 579.48l1.81 1.04v2.09l-1.81 1.04l-1.81 -1.04v-2.09zM535.18 576.34l1.81 1.04v2.09l-1.81 1.04l-1.81 -1.04v-2.09zM571.36 576.34l1.81 1.04v2.09l-1.81 1.04l-1.81 -1.04v-2.09zM574.98 576.34l1.81 1.04v2.09l-1.81 1.04l-1.81 -1.04v-2.09zM533.37 573.21l1.81 1.04v2.09l-1.81 1.04l-1.81 -1.04v-2.09zM536.99 573.21l1.81 1.04v2.09l-1.81 1.04l-1.81 -1.04v-2.09zM569.56 573.21l1.81 1.04v2.09l-1.81 1.04l-1.81 -1.04v-2.09zM576.79 573.21l1.81 1.04v2.09l-1.81 1.04l-1.81 -1.04v-2.09zM580.41 573.21l1.81 1.04v2.09l-1.81 1.04l-1.81 -1.04v-2.09zM535.18 570.08l1.81 1.04v2.09l-1.81 1.04l-1.81 -1.04v-2.09zM571.36 570.08l1.81 1.04v2.09l-1.81 1.04l-1.81 -1.04v-2.09zM578.60 570.08l1.81 1.04v2.09l-1.81 1.04l-1.81 -1.04v-2.09zM582.22 570.08l1.81 1.04v2.09l-1.81 1.04l-1.81 -1.04v-2.09zM536.99 566.94l1.81 1.04v2.09l-1.81 1.04l-1.81 -1.04v-2.09zM540.61 566.94l1.81 1.04v2.09l-1.81 1.04l-1.81 -1.04v-2.09zM580.41 566.94l1.81 1.04v2.09l-1.81 1.04l-1.81 -1.04v-2.09zM542.42 563.81l1.81 1.04v2.09l-1.81 1.04l-1.81 -1.04v-2.09zM582.22 563.81l1.81 1.04v2.09l-1.81 1.04l-1.81 -1.04v-2.09zM544.23 560.68l1.81 1.04v2.09l-1.81 1.04l-1.81 -1.04v-2.09zM584.03 560.68l1.81 1.04v2.09l-1.81 1.04l-1.81 -1.04v-2.09zM591.26 560.68l1.81 1.04v2.09l-1.81 1.04l-1.81 -1.04v-2.09zM546.04 557.54l1.81 1.04v2.09l-1.81 1.04l-1.81 -1.04v-2.09zM582.22 557.54l1.81 1.04v2.09l-1.81 1.04l-1.81 -1.04v-2.09zM589.46 557.54l1.81 1.04v2.09l-1.81 1.04l-1.81 -1.04v-2.09zM547.85 554.41l1.81 1.04v2.09l-1.81 1.04l-1.81 -1.04v-2.09zM558.70 554.41l1.81 1.04v2.09l-1.81 1.04l-1.81 -1.04v-2.09zM580.41 554.41l1.81 1.04v2.09l-1.81 1.04l-1.81 -1.04v-2.09zM549.66 551.28l1.81 1.04v2.09l-1.81 1.04l-1.81 -1.04v-2.09zM553.27 551.28l1.81 1.04v2.09l-1.81 1.04l-1.81 -1.04v-2.09zM551.47 548.14l1.81 1.04v2.09l-1.81 1.04l-1.81 -1.04v-2.09zM555.08 548.14l1.81 1.04v2.09l-1.81 1.04l-1.81 -1.04v-2.09zM587.65 548.14l1.81 1.04v2.09l-1.81 1.04l-1.81 -1.04v-2.09zM556.89 545.01l1.81 1.04v2.09l-1.81 1.04l-1.81 -1.04v-2.09zM560.51 545.01l1.81 1.04v2.09l-1.81 1.04l-1.81 -1.04v-2.09zM562.32 541.88l1.81 1.04v2.09l-1.81 1.04l-1.81 -1.04v-2.09zM565.94 541.88l1.81 1.04v2.09l-1.81 1.04l-1.81 -1.04v-2.09zM584.03 541.88l1.81 1.04v2.09l-1.81 1.04l-1.81 -1.04v-2.09zM567.75 538.74l1.81 1.04v2.09l-1.81 1.04l-1.81 -1.04v-2.09zM584.03 535.61l1.81 1.04v2.09l-1.81 1.04l-1.81 -1.04v-2.09zM571.36 532.48l1.81 1.04v2.09l-1.81 1.04l-1.81 -1.04v-2.09zM589.46 532.48l1.81 1.04v2.09l-1.81 1.04l-1.81 -1.04v-2.09zM573.17 529.34l1.81 1.04v2.09l-1.81 1.04l-1.81 -1.04v-2.09zM576.79 529.34l1.81 1.04v2.09l-1.81 1.04l-1.81 -1.04v-2.09zM584.03 529.34l1.81 1.04v2.09l-1.81 1.04l-1.81 -1.04v-2.09zM574.98 526.21l1.81 1.04v2.09l-1.81 1.04l-1.81 -1.04v-2.09zM578.60 526.21l1.81 1.04v2.09l-1.81 1.04l-1.81 -1.04v-2.09zM582.22 526.21l1.81 1.04v2.09l-1.81 1.04l-1.81 -1.04v-2.09zM573.17 523.08l1.81 1.04v2.09l-1.81 1.04l-1.81 -1.04v-2.09zM574.98 519.94l1.81 1.04v2.09l-1.81 1.04l-1.81 -1.04v-2.09zM593.07 513.68l1.81 1.04v2.09l-1.81 1.04l-1.81 -1.04v-2.09zM584.03 516.81l1.81 1.04v2.09l-1.81 1.04l-1.81 -1.04v-2.09zM593.07 526.21l1.81 1.04v2.09l-1.81 1.04l-1.81 -1.04v-2.09zM594.88 541.88l1.81 1.04v2.09l-1.81 1.04l-1.81 -1.04v-2.09zM596.69 551.28l1.81 1.04v2.09l-1.81 1.04l-1.81 -1.04v-2.09zM594.88 554.41l1.81 1.04v2.09l-1.81 1.04l-1.81 -1.04v-2.09zM594.88 566.94l1.81 1.04v2.09l-1.81 1.04l-1.81 -1.04v-2.09zM556.89 538.74l1.81 1.04v2.09l-1.81 1.04l-1.81 -1.04v-2.09zM562.32 535.61l1.81 1.04v2.09l-1.81 1.04l-1.81 -1.04v-2.09zM569.56 529.34l1.81 1.04v2.09l-1.81 1.04l-1.81 -1.04v-2.09zM591.26 504.28l1.81 1.04v2.09l-1.81 1.04l-1.81 -1.04v-2.09zM618.40 513.68l1.81 1.04v2.09l-1.81 1.04l-1.81 -1.04v-2.09zM612.97 535.61l1.81 1.04v2.09l-1.81 1.04l-1.81 -1.04v-2.09zM573.17 516.81l1.81 1.04v2.09l-1.81 1.04l-1.81 -1.04v-2.09z"/><path fill="#4a76c4" stroke="#4a76c4" stroke-width="0.35" stroke-linejoin="round" d="M536.99 598.28l1.81 1.04v2.09l-1.81 1.04l-1.81 -1.04v-2.09zM529.76 592.01l1.81 1.04v2.09l-1.81 1.04l-1.81 -1.04v-2.09zM544.23 592.01l1.81 1.04v2.09l-1.81 1.04l-1.81 -1.04v-2.09zM551.47 592.01l1.81 1.04v2.09l-1.81 1.04l-1.81 -1.04v-2.09zM549.66 588.88l1.81 1.04v2.09l-1.81 1.04l-1.81 -1.04v-2.09zM553.27 588.88l1.81 1.04v2.09l-1.81 1.04l-1.81 -1.04v-2.09zM555.08 585.74l1.81 1.04v2.09l-1.81 1.04l-1.81 -1.04v-2.09zM558.70 585.74l1.81 1.04v2.09l-1.81 1.04l-1.81 -1.04v-2.09zM553.27 582.61l1.81 1.04v2.09l-1.81 1.04l-1.81 -1.04v-2.09zM556.89 582.61l1.81 1.04v2.09l-1.81 1.04l-1.81 -1.04v-2.09zM560.51 582.61l1.81 1.04v2.09l-1.81 1.04l-1.81 -1.04v-2.09zM564.13 582.61l1.81 1.04v2.09l-1.81 1.04l-1.81 -1.04v-2.09zM555.08 579.48l1.81 1.04v2.09l-1.81 1.04l-1.81 -1.04v-2.09zM562.32 579.48l1.81 1.04v2.09l-1.81 1.04l-1.81 -1.04v-2.09zM565.94 579.48l1.81 1.04v2.09l-1.81 1.04l-1.81 -1.04v-2.09zM564.13 576.34l1.81 1.04v2.09l-1.81 1.04l-1.81 -1.04v-2.09zM567.75 576.34l1.81 1.04v2.09l-1.81 1.04l-1.81 -1.04v-2.09zM562.32 573.21l1.81 1.04v2.09l-1.81 1.04l-1.81 -1.04v-2.09zM565.94 573.21l1.81 1.04v2.09l-1.81 1.04l-1.81 -1.04v-2.09zM573.17 573.21l1.81 1.04v2.09l-1.81 1.04l-1.81 -1.04v-2.09zM538.80 570.08l1.81 1.04v2.09l-1.81 1.04l-1.81 -1.04v-2.09zM564.13 570.08l1.81 1.04v2.09l-1.81 1.04l-1.81 -1.04v-2.09zM567.75 570.08l1.81 1.04v2.09l-1.81 1.04l-1.81 -1.04v-2.09zM574.98 570.08l1.81 1.04v2.09l-1.81 1.04l-1.81 -1.04v-2.09zM565.94 566.94l1.81 1.04v2.09l-1.81 1.04l-1.81 -1.04v-2.09zM573.17 566.94l1.81 1.04v2.09l-1.81 1.04l-1.81 -1.04v-2.09zM576.79 566.94l1.81 1.04v2.09l-1.81 1.04l-1.81 -1.04v-2.09zM546.04 563.81l1.81 1.04v2.09l-1.81 1.04l-1.81 -1.04v-2.09zM549.66 563.81l1.81 1.04v2.09l-1.81 1.04l-1.81 -1.04v-2.09zM567.75 563.81l1.81 1.04v2.09l-1.81 1.04l-1.81 -1.04v-2.09zM571.36 563.81l1.81 1.04v2.09l-1.81 1.04l-1.81 -1.04v-2.09zM574.98 563.81l1.81 1.04v2.09l-1.81 1.04l-1.81 -1.04v-2.09zM578.60 563.81l1.81 1.04v2.09l-1.81 1.04l-1.81 -1.04v-2.09zM551.47 560.68l1.81 1.04v2.09l-1.81 1.04l-1.81 -1.04v-2.09zM569.56 560.68l1.81 1.04v2.09l-1.81 1.04l-1.81 -1.04v-2.09zM576.79 560.68l1.81 1.04v2.09l-1.81 1.04l-1.81 -1.04v-2.09zM580.41 560.68l1.81 1.04v2.09l-1.81 1.04l-1.81 -1.04v-2.09zM587.65 560.68l1.81 1.04v2.09l-1.81 1.04l-1.81 -1.04v-2.09zM549.66 557.54l1.81 1.04v2.09l-1.81 1.04l-1.81 -1.04v-2.09zM553.27 557.54l1.81 1.04v2.09l-1.81 1.04l-1.81 -1.04v-2.09zM578.60 557.54l1.81 1.04v2.09l-1.81 1.04l-1.81 -1.04v-2.09zM585.84 557.54l1.81 1.04v2.09l-1.81 1.04l-1.81 -1.04v-2.09zM555.08 554.41l1.81 1.04v2.09l-1.81 1.04l-1.81 -1.04v-2.09zM576.79 554.41l1.81 1.04v2.09l-1.81 1.04l-1.81 -1.04v-2.09zM584.03 554.41l1.81 1.04v2.09l-1.81 1.04l-1.81 -1.04v-2.09zM587.65 554.41l1.81 1.04v2.09l-1.81 1.04l-1.81 -1.04v-2.09zM556.89 551.28l1.81 1.04v2.09l-1.81 1.04l-1.81 -1.04v-2.09zM560.51 551.28l1.81 1.04v2.09l-1.81 1.04l-1.81 -1.04v-2.09zM578.60 551.28l1.81 1.04v2.09l-1.81 1.04l-1.81 -1.04v-2.09zM585.84 551.28l1.81 1.04v2.09l-1.81 1.04l-1.81 -1.04v-2.09zM589.46 551.28l1.81 1.04v2.09l-1.81 1.04l-1.81 -1.04v-2.09zM562.32 548.14l1.81 1.04v2.09l-1.81 1.04l-1.81 -1.04v-2.09zM569.56 548.14l1.81 1.04v2.09l-1.81 1.04l-1.81 -1.04v-2.09zM573.17 548.14l1.81 1.04v2.09l-1.81 1.04l-1.81 -1.04v-2.09zM576.79 548.14l1.81 1.04v2.09l-1.81 1.04l-1.81 -1.04v-2.09zM580.41 548.14l1.81 1.04v2.09l-1.81 1.04l-1.81 -1.04v-2.09zM584.03 548.14l1.81 1.04v2.09l-1.81 1.04l-1.81 -1.04v-2.09zM567.75 545.01l1.81 1.04v2.09l-1.81 1.04l-1.81 -1.04v-2.09zM571.36 545.01l1.81 1.04v2.09l-1.81 1.04l-1.81 -1.04v-2.09zM574.98 545.01l1.81 1.04v2.09l-1.81 1.04l-1.81 -1.04v-2.09zM582.22 545.01l1.81 1.04v2.09l-1.81 1.04l-1.81 -1.04v-2.09zM585.84 545.01l1.81 1.04v2.09l-1.81 1.04l-1.81 -1.04v-2.09zM569.56 541.88l1.81 1.04v2.09l-1.81 1.04l-1.81 -1.04v-2.09zM573.17 541.88l1.81 1.04v2.09l-1.81 1.04l-1.81 -1.04v-2.09zM571.36 538.74l1.81 1.04v2.09l-1.81 1.04l-1.81 -1.04v-2.09zM578.60 538.74l1.81 1.04v2.09l-1.81 1.04l-1.81 -1.04v-2.09zM585.84 538.74l1.81 1.04v2.09l-1.81 1.04l-1.81 -1.04v-2.09zM569.56 535.61l1.81 1.04v2.09l-1.81 1.04l-1.81 -1.04v-2.09zM576.79 535.61l1.81 1.04v2.09l-1.81 1.04l-1.81 -1.04v-2.09zM578.60 532.48l1.81 1.04v2.09l-1.81 1.04l-1.81 -1.04v-2.09zM582.22 532.48l1.81 1.04v2.09l-1.81 1.04l-1.81 -1.04v-2.09zM585.84 532.48l1.81 1.04v2.09l-1.81 1.04l-1.81 -1.04v-2.09zM580.41 529.34l1.81 1.04v2.09l-1.81 1.04l-1.81 -1.04v-2.09z"/><path fill="#6379ba" stroke="#6379ba" stroke-width="0.35" stroke-linejoin="round" d="M538.80 576.34l1.81 1.04v2.09l-1.81 1.04l-1.81 -1.04v-2.09zM560.51 576.34l1.81 1.04v2.09l-1.81 1.04l-1.81 -1.04v-2.09zM540.61 573.21l1.81 1.04v2.09l-1.81 1.04l-1.81 -1.04v-2.09zM544.23 566.94l1.81 1.04v2.09l-1.81 1.04l-1.81 -1.04v-2.09zM569.56 566.94l1.81 1.04v2.09l-1.81 1.04l-1.81 -1.04v-2.09zM547.85 560.68l1.81 1.04v2.09l-1.81 1.04l-1.81 -1.04v-2.09zM573.17 560.68l1.81 1.04v2.09l-1.81 1.04l-1.81 -1.04v-2.09zM571.36 557.54l1.81 1.04v2.09l-1.81 1.04l-1.81 -1.04v-2.09zM574.98 557.54l1.81 1.04v2.09l-1.81 1.04l-1.81 -1.04v-2.09zM573.17 554.41l1.81 1.04v2.09l-1.81 1.04l-1.81 -1.04v-2.09zM571.36 551.28l1.81 1.04v2.09l-1.81 1.04l-1.81 -1.04v-2.09zM558.70 548.14l1.81 1.04v2.09l-1.81 1.04l-1.81 -1.04v-2.09zM565.94 548.14l1.81 1.04v2.09l-1.81 1.04l-1.81 -1.04v-2.09zM578.60 545.01l1.81 1.04v2.09l-1.81 1.04l-1.81 -1.04v-2.09zM580.41 541.88l1.81 1.04v2.09l-1.81 1.04l-1.81 -1.04v-2.09zM574.98 538.74l1.81 1.04v2.09l-1.81 1.04l-1.81 -1.04v-2.09zM582.22 538.74l1.81 1.04v2.09l-1.81 1.04l-1.81 -1.04v-2.09zM573.17 535.61l1.81 1.04v2.09l-1.81 1.04l-1.81 -1.04v-2.09zM580.41 535.61l1.81 1.04v2.09l-1.81 1.04l-1.81 -1.04v-2.09zM574.98 532.48l1.81 1.04v2.09l-1.81 1.04l-1.81 -1.04v-2.09z"/><path fill="#767bb0" stroke="#767bb0" stroke-width="0.35" stroke-linejoin="round" d="M546.04 588.88l1.81 1.04v2.09l-1.81 1.04l-1.81 -1.04v-2.09zM536.99 579.48l1.81 1.04v2.09l-1.81 1.04l-1.81 -1.04v-2.09zM556.89 576.34l1.81 1.04v2.09l-1.81 1.04l-1.81 -1.04v-2.09zM547.85 566.94l1.81 1.04v2.09l-1.81 1.04l-1.81 -1.04v-2.09zM556.89 557.54l1.81 1.04v2.09l-1.81 1.04l-1.81 -1.04v-2.09z"/><path fill="#877ea6" stroke="#877ea6" stroke-width="0.35" stroke-linejoin="round" d="M529.76 598.28l1.81 1.04v2.09l-1.81 1.04l-1.81 -1.04v-2.09zM531.57 595.14l1.81 1.04v2.09l-1.81 1.04l-1.81 -1.04v-2.09zM538.80 595.14l1.81 1.04v2.09l-1.81 1.04l-1.81 -1.04v-2.09zM538.80 582.61l1.81 1.04v2.09l-1.81 1.04l-1.81 -1.04v-2.09zM544.23 573.21l1.81 1.04v2.09l-1.81 1.04l-1.81 -1.04v-2.09zM546.04 570.08l1.81 1.04v2.09l-1.81 1.04l-1.81 -1.04v-2.09z"/><path fill="#958199" stroke="#958199" stroke-width="0.35" stroke-linejoin="round" d="M535.18 588.88l1.81 1.04v2.09l-1.81 1.04l-1.81 -1.04v-2.09zM536.99 585.74l1.81 1.04v2.09l-1.81 1.04l-1.81 -1.04v-2.09zM547.85 585.74l1.81 1.04v2.09l-1.81 1.04l-1.81 -1.04v-2.09zM549.66 582.61l1.81 1.04v2.09l-1.81 1.04l-1.81 -1.04v-2.09zM542.42 576.34l1.81 1.04v2.09l-1.81 1.04l-1.81 -1.04v-2.09zM558.70 573.21l1.81 1.04v2.09l-1.81 1.04l-1.81 -1.04v-2.09zM560.51 570.08l1.81 1.04v2.09l-1.81 1.04l-1.81 -1.04v-2.09zM551.47 566.94l1.81 1.04v2.09l-1.81 1.04l-1.81 -1.04v-2.09zM553.27 563.81l1.81 1.04v2.09l-1.81 1.04l-1.81 -1.04v-2.09zM564.13 563.81l1.81 1.04v2.09l-1.81 1.04l-1.81 -1.04v-2.09zM555.08 560.68l1.81 1.04v2.09l-1.81 1.04l-1.81 -1.04v-2.09zM565.94 560.68l1.81 1.04v2.09l-1.81 1.04l-1.81 -1.04v-2.09zM560.51 557.54l1.81 1.04v2.09l-1.81 1.04l-1.81 -1.04v-2.09zM564.13 557.54l1.81 1.04v2.09l-1.81 1.04l-1.81 -1.04v-2.09zM567.75 557.54l1.81 1.04v2.09l-1.81 1.04l-1.81 -1.04v-2.09zM562.32 554.41l1.81 1.04v2.09l-1.81 1.04l-1.81 -1.04v-2.09zM569.56 554.41l1.81 1.04v2.09l-1.81 1.04l-1.81 -1.04v-2.09zM567.75 551.28l1.81 1.04v2.09l-1.81 1.04l-1.81 -1.04v-2.09z"/><path fill="#a28493" stroke="#a28493" stroke-width="0.35" stroke-linejoin="round" d="M540.61 592.01l1.81 1.04v2.09l-1.81 1.04l-1.81 -1.04v-2.09zM549.66 576.34l1.81 1.04v2.09l-1.81 1.04l-1.81 -1.04v-2.09zM551.47 573.21l1.81 1.04v2.09l-1.81 1.04l-1.81 -1.04v-2.09zM562.32 566.94l1.81 1.04v2.09l-1.81 1.04l-1.81 -1.04v-2.09zM558.70 560.68l1.81 1.04v2.09l-1.81 1.04l-1.81 -1.04v-2.09zM565.94 554.41l1.81 1.04v2.09l-1.81 1.04l-1.81 -1.04v-2.09zM564.13 551.28l1.81 1.04v2.09l-1.81 1.04l-1.81 -1.04v-2.09z"/><path fill="#b88a7f" stroke="#b88a7f" stroke-width="0.35" stroke-linejoin="round" d="M551.47 579.48l1.81 1.04v2.09l-1.81 1.04l-1.81 -1.04v-2.09zM546.04 576.34l1.81 1.04v2.09l-1.81 1.04l-1.81 -1.04v-2.09zM553.27 576.34l1.81 1.04v2.09l-1.81 1.04l-1.81 -1.04v-2.09zM547.85 573.21l1.81 1.04v2.09l-1.81 1.04l-1.81 -1.04v-2.09zM549.66 570.08l1.81 1.04v2.09l-1.81 1.04l-1.81 -1.04v-2.09zM556.89 570.08l1.81 1.04v2.09l-1.81 1.04l-1.81 -1.04v-2.09zM555.08 566.94l1.81 1.04v2.09l-1.81 1.04l-1.81 -1.04v-2.09zM558.70 566.94l1.81 1.04v2.09l-1.81 1.04l-1.81 -1.04v-2.09zM556.89 563.81l1.81 1.04v2.09l-1.81 1.04l-1.81 -1.04v-2.09zM560.51 563.81l1.81 1.04v2.09l-1.81 1.04l-1.81 -1.04v-2.09zM562.32 560.68l1.81 1.04v2.09l-1.81 1.04l-1.81 -1.04v-2.09z"/><path fill="#cc916a" stroke="#cc916a" stroke-width="0.35" stroke-linejoin="round" d="M542.42 588.88l1.81 1.04v2.09l-1.81 1.04l-1.81 -1.04v-2.09zM540.61 579.48l1.81 1.04v2.09l-1.81 1.04l-1.81 -1.04v-2.09zM547.85 579.48l1.81 1.04v2.09l-1.81 1.04l-1.81 -1.04v-2.09zM555.08 573.21l1.81 1.04v2.09l-1.81 1.04l-1.81 -1.04v-2.09zM553.27 570.08l1.81 1.04v2.09l-1.81 1.04l-1.81 -1.04v-2.09z"/><path fill="#de9753" stroke="#de9753" stroke-width="0.35" stroke-linejoin="round" d="M546.04 582.61l1.81 1.04v2.09l-1.81 1.04l-1.81 -1.04v-2.09z"/><path fill="#ef9e38" stroke="#ef9e38" stroke-width="0.35" stroke-linejoin="round" d="M536.99 592.01l1.81 1.04v2.09l-1.81 1.04l-1.81 -1.04v-2.09zM544.23 585.74l1.81 1.04v2.09l-1.81 1.04l-1.81 -1.04v-2.09zM542.42 582.61l1.81 1.04v2.09l-1.81 1.04l-1.81 -1.04v-2.09zM544.23 579.48l1.81 1.04v2.09l-1.81 1.04l-1.81 -1.04v-2.09z"/><path fill="#ffa500" stroke="#ffa500" stroke-width="0.35" stroke-linejoin="round" d="M540.61 585.74l1.81 1.04v2.09l-1.81 1.04l-1.81 -1.04v-2.09z"/><path fill="#ffbc00" stroke="#ffbc00" stroke-width="0.35" stroke-linejoin="round" d="M533.37 592.01l1.81 1.04v2.09l-1.81 1.04l-1.81 -1.04v-2.09zM538.80 588.88l1.81 1.04v2.09l-1.81 1.04l-1.81 -1.04v-2.09z"/><path fill="#ffe900" stroke="#ffe900" stroke-width="0.35" stroke-linejoin="round" d="M535.18 595.14l1.81 1.04v2.09l-1.81 1.04l-1.81 -1.04v-2.09z"/><path fill="#808080" stroke="#808080" stroke-width="0.35" stroke-linejoin="round" d="M533.37 598.28l1.81 1.04v2.09l-1.81 1.04l-1.81 -1.04v-2.09z"/></g>
<line x1="522.5" y1="607.5" x2="666.5" y2="463.5" stroke="#000" stroke-opacity="0.48" stroke-width="1.1"/>
<rect x="522.5" y="463.5" width="144" height="144" fill="none" stroke="#333" stroke-width="1.25"/>
<path d="M528.51 607.5v3M522.5 601.49h-3M561.50 607.5v3M522.5 568.50h-3M594.50 607.5v3M522.5 535.50h-3M627.50 607.5v3M522.5 502.50h-3M660.49 607.5v3M522.5 469.51h-3" stroke="#333" stroke-width="1" fill="none"/>
<text x="528.51" y="620.70" font-size="10.5" text-anchor="middle" fill="#000">0</text>
<text x="517.00" y="605.49" font-size="10.5" text-anchor="end" fill="#000">0</text>
<text x="561.50" y="620.70" font-size="10.5" text-anchor="middle" fill="#000">25</text>
<text x="517.00" y="572.50" font-size="10.5" text-anchor="end" fill="#000">25</text>
<text x="594.50" y="620.70" font-size="10.5" text-anchor="middle" fill="#000">50</text>
<text x="517.00" y="539.50" font-size="10.5" text-anchor="end" fill="#000">50</text>
<text x="627.50" y="620.70" font-size="10.5" text-anchor="middle" fill="#000">75</text>
<text x="517.00" y="506.50" font-size="10.5" text-anchor="end" fill="#000">75</text>
<text x="660.49" y="620.70" font-size="10.5" text-anchor="middle" fill="#000">100</text>
<text x="517.00" y="473.51" font-size="10.5" text-anchor="end" fill="#000">100</text>
<text x="594.50" y="455.8" font-size="10.7" font-weight="bold" text-anchor="middle">Basal area − deciduous</text>
<text x="594.50" y="635.50" font-size="10.6" text-anchor="middle"><tspan>Predicted basal area (m</tspan><tspan font-size="7.1" dy="-4.5">2</tspan><tspan dy="4.5"> · ha</tspan><tspan font-size="7.1" dy="-4.5">−1</tspan><tspan dy="4.5">)</tspan></text>
<text transform="translate(491.90,535.50) rotate(-90)" font-size="10.6" text-anchor="middle"><tspan>Field measured basal area (m</tspan><tspan font-size="7.1" dy="-4.5">2</tspan><tspan dy="4.5"> · ha</tspan><tspan font-size="7.1" dy="-4.5">−1</tspan><tspan dy="4.5">)</tspan></text>
<clipPath id="c42_691"><rect x="42.5" y="691.5" width="144" height="144"/></clipPath><g clip-path="url(#c42_691)"><path fill="#1f72cf" stroke="#1f72cf" stroke-width="0.35" stroke-linejoin="round" d="M48.01 828.95l1.81 1.04v2.09l-1.81 1.04l-1.81 -1.04v-2.09zM51.63 828.95l1.81 1.04v2.09l-1.81 1.04l-1.81 -1.04v-2.09zM57.06 825.81l1.81 1.04v2.09l-1.81 1.04l-1.81 -1.04v-2.09zM48.01 822.68l1.81 1.04v2.09l-1.81 1.04l-1.81 -1.04v-2.09zM64.29 819.55l1.81 1.04v2.09l-1.81 1.04l-1.81 -1.04v-2.09zM51.63 816.41l1.81 1.04v2.09l-1.81 1.04l-1.81 -1.04v-2.09zM69.72 816.41l1.81 1.04v2.09l-1.81 1.04l-1.81 -1.04v-2.09zM73.34 816.41l1.81 1.04v2.09l-1.81 1.04l-1.81 -1.04v-2.09zM76.96 816.41l1.81 1.04v2.09l-1.81 1.04l-1.81 -1.04v-2.09zM78.77 813.28l1.81 1.04v2.09l-1.81 1.04l-1.81 -1.04v-2.09zM51.63 810.15l1.81 1.04v2.09l-1.81 1.04l-1.81 -1.04v-2.09zM84.19 810.15l1.81 1.04v2.09l-1.81 1.04l-1.81 -1.04v-2.09zM53.44 807.01l1.81 1.04v2.09l-1.81 1.04l-1.81 -1.04v-2.09zM86.00 807.01l1.81 1.04v2.09l-1.81 1.04l-1.81 -1.04v-2.09zM89.62 807.01l1.81 1.04v2.09l-1.81 1.04l-1.81 -1.04v-2.09zM55.25 803.88l1.81 1.04v2.09l-1.81 1.04l-1.81 -1.04v-2.09zM91.43 803.88l1.81 1.04v2.09l-1.81 1.04l-1.81 -1.04v-2.09zM57.06 800.75l1.81 1.04v2.09l-1.81 1.04l-1.81 -1.04v-2.09zM93.24 800.75l1.81 1.04v2.09l-1.81 1.04l-1.81 -1.04v-2.09zM96.86 800.75l1.81 1.04v2.09l-1.81 1.04l-1.81 -1.04v-2.09zM100.47 800.75l1.81 1.04v2.09l-1.81 1.04l-1.81 -1.04v-2.09zM104.09 800.75l1.81 1.04v2.09l-1.81 1.04l-1.81 -1.04v-2.09zM58.87 797.61l1.81 1.04v2.09l-1.81 1.04l-1.81 -1.04v-2.09zM95.05 797.61l1.81 1.04v2.09l-1.81 1.04l-1.81 -1.04v-2.09zM102.28 797.61l1.81 1.04v2.09l-1.81 1.04l-1.81 -1.04v-2.09zM60.67 794.48l1.81 1.04v2.09l-1.81 1.04l-1.81 -1.04v-2.09zM64.29 794.48l1.81 1.04v2.09l-1.81 1.04l-1.81 -1.04v-2.09zM100.47 794.48l1.81 1.04v2.09l-1.81 1.04l-1.81 -1.04v-2.09zM62.48 791.34l1.81 1.04v2.09l-1.81 1.04l-1.81 -1.04v-2.09zM66.10 791.34l1.81 1.04v2.09l-1.81 1.04l-1.81 -1.04v-2.09zM98.66 791.34l1.81 1.04v2.09l-1.81 1.04l-1.81 -1.04v-2.09zM102.28 791.34l1.81 1.04v2.09l-1.81 1.04l-1.81 -1.04v-2.09zM67.91 788.21l1.81 1.04v2.09l-1.81 1.04l-1.81 -1.04v-2.09zM104.09 788.21l1.81 1.04v2.09l-1.81 1.04l-1.81 -1.04v-2.09zM69.72 785.08l1.81 1.04v2.09l-1.81 1.04l-1.81 -1.04v-2.09zM73.34 785.08l1.81 1.04v2.09l-1.81 1.04l-1.81 -1.04v-2.09zM98.66 785.08l1.81 1.04v2.09l-1.81 1.04l-1.81 -1.04v-2.09zM109.52 785.08l1.81 1.04v2.09l-1.81 1.04l-1.81 -1.04v-2.09zM75.15 781.94l1.81 1.04v2.09l-1.81 1.04l-1.81 -1.04v-2.09zM78.77 781.94l1.81 1.04v2.09l-1.81 1.04l-1.81 -1.04v-2.09zM111.33 781.94l1.81 1.04v2.09l-1.81 1.04l-1.81 -1.04v-2.09zM114.95 781.94l1.81 1.04v2.09l-1.81 1.04l-1.81 -1.04v-2.09zM116.76 778.81l1.81 1.04v2.09l-1.81 1.04l-1.81 -1.04v-2.09zM82.38 775.68l1.81 1.04v2.09l-1.81 1.04l-1.81 -1.04v-2.09zM118.56 775.68l1.81 1.04v2.09l-1.81 1.04l-1.81 -1.04v-2.09zM80.57 772.54l1.81 1.04v2.09l-1.81 1.04l-1.81 -1.04v-2.09zM120.37 772.54l1.81 1.04v2.09l-1.81 1.04l-1.81 -1.04v-2.09zM82.38 769.41l1.81 1.04v2.09l-1.81 1.04l-1.81 -1.04v-2.09zM89.62 769.41l1.81 1.04v2.09l-1.81 1.04l-1.81 -1.04v-2.09zM104.09 769.41l1.81 1.04v2.09l-1.81 1.04l-1.81 -1.04v-2.09zM118.56 769.41l1.81 1.04v2.09l-1.81 1.04l-1.81 -1.04v-2.09zM84.19 766.28l1.81 1.04v2.09l-1.81 1.04l-1.81 -1.04v-2.09zM87.81 766.28l1.81 1.04v2.09l-1.81 1.04l-1.81 -1.04v-2.09zM89.62 763.14l1.81 1.04v2.09l-1.81 1.04l-1.81 -1.04v-2.09zM93.24 763.14l1.81 1.04v2.09l-1.81 1.04l-1.81 -1.04v-2.09zM91.43 760.01l1.81 1.04v2.09l-1.81 1.04l-1.81 -1.04v-2.09zM89.62 756.88l1.81 1.04v2.09l-1.81 1.04l-1.81 -1.04v-2.09zM96.86 756.88l1.81 1.04v2.09l-1.81 1.04l-1.81 -1.04v-2.09zM114.95 756.88l1.81 1.04v2.09l-1.81 1.04l-1.81 -1.04v-2.09zM91.43 753.74l1.81 1.04v2.09l-1.81 1.04l-1.81 -1.04v-2.09zM95.05 753.74l1.81 1.04v2.09l-1.81 1.04l-1.81 -1.04v-2.09zM96.86 750.61l1.81 1.04v2.09l-1.81 1.04l-1.81 -1.04v-2.09zM104.09 750.61l1.81 1.04v2.09l-1.81 1.04l-1.81 -1.04v-2.09zM107.71 750.61l1.81 1.04v2.09l-1.81 1.04l-1.81 -1.04v-2.09zM111.33 750.61l1.81 1.04v2.09l-1.81 1.04l-1.81 -1.04v-2.09zM114.95 750.61l1.81 1.04v2.09l-1.81 1.04l-1.81 -1.04v-2.09zM113.14 803.88l1.81 1.04v2.09l-1.81 1.04l-1.81 -1.04v-2.09zM96.86 807.01l1.81 1.04v2.09l-1.81 1.04l-1.81 -1.04v-2.09zM80.57 816.41l1.81 1.04v2.09l-1.81 1.04l-1.81 -1.04v-2.09zM120.37 785.08l1.81 1.04v2.09l-1.81 1.04l-1.81 -1.04v-2.09zM122.18 706.74l1.81 1.04v2.09l-1.81 1.04l-1.81 -1.04v-2.09zM125.80 706.74l1.81 1.04v2.09l-1.81 1.04l-1.81 -1.04v-2.09zM129.42 706.74l1.81 1.04v2.09l-1.81 1.04l-1.81 -1.04v-2.09zM118.56 713.01l1.81 1.04v2.09l-1.81 1.04l-1.81 -1.04v-2.09zM125.80 713.01l1.81 1.04v2.09l-1.81 1.04l-1.81 -1.04v-2.09zM129.42 713.01l1.81 1.04v2.09l-1.81 1.04l-1.81 -1.04v-2.09zM111.33 725.54l1.81 1.04v2.09l-1.81 1.04l-1.81 -1.04v-2.09zM129.42 725.54l1.81 1.04v2.09l-1.81 1.04l-1.81 -1.04v-2.09zM145.70 722.41l1.81 1.04v2.09l-1.81 1.04l-1.81 -1.04v-2.09zM122.18 731.81l1.81 1.04v2.09l-1.81 1.04l-1.81 -1.04v-2.09zM116.76 734.94l1.81 1.04v2.09l-1.81 1.04l-1.81 -1.04v-2.09zM114.95 738.08l1.81 1.04v2.09l-1.81 1.04l-1.81 -1.04v-2.09zM131.23 734.94l1.81 1.04v2.09l-1.81 1.04l-1.81 -1.04v-2.09zM125.80 738.08l1.81 1.04v2.09l-1.81 1.04l-1.81 -1.04v-2.09zM129.42 738.08l1.81 1.04v2.09l-1.81 1.04l-1.81 -1.04v-2.09zM120.37 741.21l1.81 1.04v2.09l-1.81 1.04l-1.81 -1.04v-2.09zM134.85 741.21l1.81 1.04v2.09l-1.81 1.04l-1.81 -1.04v-2.09zM143.89 738.08l1.81 1.04v2.09l-1.81 1.04l-1.81 -1.04v-2.09zM145.70 741.21l1.81 1.04v2.09l-1.81 1.04l-1.81 -1.04v-2.09zM96.86 744.34l1.81 1.04v2.09l-1.81 1.04l-1.81 -1.04v-2.09zM104.09 744.34l1.81 1.04v2.09l-1.81 1.04l-1.81 -1.04v-2.09zM107.71 744.34l1.81 1.04v2.09l-1.81 1.04l-1.81 -1.04v-2.09zM114.95 744.34l1.81 1.04v2.09l-1.81 1.04l-1.81 -1.04v-2.09zM125.80 744.34l1.81 1.04v2.09l-1.81 1.04l-1.81 -1.04v-2.09zM123.99 753.74l1.81 1.04v2.09l-1.81 1.04l-1.81 -1.04v-2.09zM131.23 753.74l1.81 1.04v2.09l-1.81 1.04l-1.81 -1.04v-2.09zM133.04 756.88l1.81 1.04v2.09l-1.81 1.04l-1.81 -1.04v-2.09zM138.46 753.74l1.81 1.04v2.09l-1.81 1.04l-1.81 -1.04v-2.09z"/><path fill="#4a76c4" stroke="#4a76c4" stroke-width="0.35" stroke-linejoin="round" d="M60.67 825.81l1.81 1.04v2.09l-1.81 1.04l-1.81 -1.04v-2.09zM62.48 822.68l1.81 1.04v2.09l-1.81 1.04l-1.81 -1.04v-2.09zM49.82 819.55l1.81 1.04v2.09l-1.81 1.04l-1.81 -1.04v-2.09zM67.91 819.55l1.81 1.04v2.09l-1.81 1.04l-1.81 -1.04v-2.09zM53.44 813.28l1.81 1.04v2.09l-1.81 1.04l-1.81 -1.04v-2.09zM75.15 813.28l1.81 1.04v2.09l-1.81 1.04l-1.81 -1.04v-2.09zM80.57 810.15l1.81 1.04v2.09l-1.81 1.04l-1.81 -1.04v-2.09zM57.06 807.01l1.81 1.04v2.09l-1.81 1.04l-1.81 -1.04v-2.09zM82.38 807.01l1.81 1.04v2.09l-1.81 1.04l-1.81 -1.04v-2.09zM58.87 803.88l1.81 1.04v2.09l-1.81 1.04l-1.81 -1.04v-2.09zM87.81 803.88l1.81 1.04v2.09l-1.81 1.04l-1.81 -1.04v-2.09zM60.67 800.75l1.81 1.04v2.09l-1.81 1.04l-1.81 -1.04v-2.09zM89.62 800.75l1.81 1.04v2.09l-1.81 1.04l-1.81 -1.04v-2.09zM62.48 797.61l1.81 1.04v2.09l-1.81 1.04l-1.81 -1.04v-2.09zM91.43 797.61l1.81 1.04v2.09l-1.81 1.04l-1.81 -1.04v-2.09zM98.66 797.61l1.81 1.04v2.09l-1.81 1.04l-1.81 -1.04v-2.09zM67.91 794.48l1.81 1.04v2.09l-1.81 1.04l-1.81 -1.04v-2.09zM96.86 794.48l1.81 1.04v2.09l-1.81 1.04l-1.81 -1.04v-2.09zM95.05 791.34l1.81 1.04v2.09l-1.81 1.04l-1.81 -1.04v-2.09zM71.53 788.21l1.81 1.04v2.09l-1.81 1.04l-1.81 -1.04v-2.09zM75.15 788.21l1.81 1.04v2.09l-1.81 1.04l-1.81 -1.04v-2.09zM78.77 788.21l1.81 1.04v2.09l-1.81 1.04l-1.81 -1.04v-2.09zM96.86 788.21l1.81 1.04v2.09l-1.81 1.04l-1.81 -1.04v-2.09zM107.71 788.21l1.81 1.04v2.09l-1.81 1.04l-1.81 -1.04v-2.09zM80.57 785.08l1.81 1.04v2.09l-1.81 1.04l-1.81 -1.04v-2.09zM105.90 785.08l1.81 1.04v2.09l-1.81 1.04l-1.81 -1.04v-2.09zM82.38 781.94l1.81 1.04v2.09l-1.81 1.04l-1.81 -1.04v-2.09zM96.86 781.94l1.81 1.04v2.09l-1.81 1.04l-1.81 -1.04v-2.09zM100.47 781.94l1.81 1.04v2.09l-1.81 1.04l-1.81 -1.04v-2.09zM104.09 781.94l1.81 1.04v2.09l-1.81 1.04l-1.81 -1.04v-2.09zM80.57 778.81l1.81 1.04v2.09l-1.81 1.04l-1.81 -1.04v-2.09zM84.19 778.81l1.81 1.04v2.09l-1.81 1.04l-1.81 -1.04v-2.09zM87.81 778.81l1.81 1.04v2.09l-1.81 1.04l-1.81 -1.04v-2.09zM91.43 778.81l1.81 1.04v2.09l-1.81 1.04l-1.81 -1.04v-2.09zM98.66 778.81l1.81 1.04v2.09l-1.81 1.04l-1.81 -1.04v-2.09zM102.28 778.81l1.81 1.04v2.09l-1.81 1.04l-1.81 -1.04v-2.09zM105.90 778.81l1.81 1.04v2.09l-1.81 1.04l-1.81 -1.04v-2.09zM113.14 778.81l1.81 1.04v2.09l-1.81 1.04l-1.81 -1.04v-2.09zM86.00 775.68l1.81 1.04v2.09l-1.81 1.04l-1.81 -1.04v-2.09zM93.24 775.68l1.81 1.04v2.09l-1.81 1.04l-1.81 -1.04v-2.09zM100.47 775.68l1.81 1.04v2.09l-1.81 1.04l-1.81 -1.04v-2.09zM104.09 775.68l1.81 1.04v2.09l-1.81 1.04l-1.81 -1.04v-2.09zM107.71 775.68l1.81 1.04v2.09l-1.81 1.04l-1.81 -1.04v-2.09zM111.33 775.68l1.81 1.04v2.09l-1.81 1.04l-1.81 -1.04v-2.09zM84.19 772.54l1.81 1.04v2.09l-1.81 1.04l-1.81 -1.04v-2.09zM87.81 772.54l1.81 1.04v2.09l-1.81 1.04l-1.81 -1.04v-2.09zM91.43 772.54l1.81 1.04v2.09l-1.81 1.04l-1.81 -1.04v-2.09zM95.05 772.54l1.81 1.04v2.09l-1.81 1.04l-1.81 -1.04v-2.09zM98.66 772.54l1.81 1.04v2.09l-1.81 1.04l-1.81 -1.04v-2.09zM105.90 772.54l1.81 1.04v2.09l-1.81 1.04l-1.81 -1.04v-2.09zM113.14 772.54l1.81 1.04v2.09l-1.81 1.04l-1.81 -1.04v-2.09zM116.76 772.54l1.81 1.04v2.09l-1.81 1.04l-1.81 -1.04v-2.09zM86.00 769.41l1.81 1.04v2.09l-1.81 1.04l-1.81 -1.04v-2.09zM93.24 769.41l1.81 1.04v2.09l-1.81 1.04l-1.81 -1.04v-2.09zM96.86 769.41l1.81 1.04v2.09l-1.81 1.04l-1.81 -1.04v-2.09zM111.33 769.41l1.81 1.04v2.09l-1.81 1.04l-1.81 -1.04v-2.09zM91.43 766.28l1.81 1.04v2.09l-1.81 1.04l-1.81 -1.04v-2.09zM95.05 766.28l1.81 1.04v2.09l-1.81 1.04l-1.81 -1.04v-2.09zM98.66 766.28l1.81 1.04v2.09l-1.81 1.04l-1.81 -1.04v-2.09zM102.28 766.28l1.81 1.04v2.09l-1.81 1.04l-1.81 -1.04v-2.09zM105.90 766.28l1.81 1.04v2.09l-1.81 1.04l-1.81 -1.04v-2.09zM113.14 766.28l1.81 1.04v2.09l-1.81 1.04l-1.81 -1.04v-2.09zM116.76 766.28l1.81 1.04v2.09l-1.81 1.04l-1.81 -1.04v-2.09zM96.86 763.14l1.81 1.04v2.09l-1.81 1.04l-1.81 -1.04v-2.09zM107.71 763.14l1.81 1.04v2.09l-1.81 1.04l-1.81 -1.04v-2.09zM111.33 763.14l1.81 1.04v2.09l-1.81 1.04l-1.81 -1.04v-2.09zM114.95 763.14l1.81 1.04v2.09l-1.81 1.04l-1.81 -1.04v-2.09zM95.05 760.01l1.81 1.04v2.09l-1.81 1.04l-1.81 -1.04v-2.09zM98.66 760.01l1.81 1.04v2.09l-1.81 1.04l-1.81 -1.04v-2.09zM102.28 760.01l1.81 1.04v2.09l-1.81 1.04l-1.81 -1.04v-2.09zM109.52 760.01l1.81 1.04v2.09l-1.81 1.04l-1.81 -1.04v-2.09zM113.14 760.01l1.81 1.04v2.09l-1.81 1.04l-1.81 -1.04v-2.09zM93.24 756.88l1.81 1.04v2.09l-1.81 1.04l-1.81 -1.04v-2.09zM100.47 756.88l1.81 1.04v2.09l-1.81 1.04l-1.81 -1.04v-2.09zM104.09 756.88l1.81 1.04v2.09l-1.81 1.04l-1.81 -1.04v-2.09zM107.71 756.88l1.81 1.04v2.09l-1.81 1.04l-1.81 -1.04v-2.09zM111.33 756.88l1.81 1.04v2.09l-1.81 1.04l-1.81 -1.04v-2.09zM98.66 753.74l1.81 1.04v2.09l-1.81 1.04l-1.81 -1.04v-2.09zM102.28 753.74l1.81 1.04v2.09l-1.81 1.04l-1.81 -1.04v-2.09zM109.52 753.74l1.81 1.04v2.09l-1.81 1.04l-1.81 -1.04v-2.09zM113.14 753.74l1.81 1.04v2.09l-1.81 1.04l-1.81 -1.04v-2.09zM116.76 753.74l1.81 1.04v2.09l-1.81 1.04l-1.81 -1.04v-2.09zM100.47 750.61l1.81 1.04v2.09l-1.81 1.04l-1.81 -1.04v-2.09z"/><path fill="#6379ba" stroke="#6379ba" stroke-width="0.35" stroke-linejoin="round" d="M76.96 810.15l1.81 1.04v2.09l-1.81 1.04l-1.81 -1.04v-2.09zM84.19 803.88l1.81 1.04v2.09l-1.81 1.04l-1.81 -1.04v-2.09zM64.29 800.75l1.81 1.04v2.09l-1.81 1.04l-1.81 -1.04v-2.09zM86.00 800.75l1.81 1.04v2.09l-1.81 1.04l-1.81 -1.04v-2.09zM66.10 797.61l1.81 1.04v2.09l-1.81 1.04l-1.81 -1.04v-2.09zM87.81 797.61l1.81 1.04v2.09l-1.81 1.04l-1.81 -1.04v-2.09zM93.24 794.48l1.81 1.04v2.09l-1.81 1.04l-1.81 -1.04v-2.09zM69.72 791.34l1.81 1.04v2.09l-1.81 1.04l-1.81 -1.04v-2.09zM73.34 791.34l1.81 1.04v2.09l-1.81 1.04l-1.81 -1.04v-2.09zM100.47 788.21l1.81 1.04v2.09l-1.81 1.04l-1.81 -1.04v-2.09zM76.96 785.08l1.81 1.04v2.09l-1.81 1.04l-1.81 -1.04v-2.09zM102.28 785.08l1.81 1.04v2.09l-1.81 1.04l-1.81 -1.04v-2.09zM86.00 781.94l1.81 1.04v2.09l-1.81 1.04l-1.81 -1.04v-2.09zM107.71 781.94l1.81 1.04v2.09l-1.81 1.04l-1.81 -1.04v-2.09zM95.05 778.81l1.81 1.04v2.09l-1.81 1.04l-1.81 -1.04v-2.09zM109.52 778.81l1.81 1.04v2.09l-1.81 1.04l-1.81 -1.04v-2.09zM89.62 775.68l1.81 1.04v2.09l-1.81 1.04l-1.81 -1.04v-2.09zM96.86 775.68l1.81 1.04v2.09l-1.81 1.04l-1.81 -1.04v-2.09zM102.28 772.54l1.81 1.04v2.09l-1.81 1.04l-1.81 -1.04v-2.09zM109.52 772.54l1.81 1.04v2.09l-1.81 1.04l-1.81 -1.04v-2.09zM100.47 769.41l1.81 1.04v2.09l-1.81 1.04l-1.81 -1.04v-2.09zM107.71 769.41l1.81 1.04v2.09l-1.81 1.04l-1.81 -1.04v-2.09zM114.95 769.41l1.81 1.04v2.09l-1.81 1.04l-1.81 -1.04v-2.09zM109.52 766.28l1.81 1.04v2.09l-1.81 1.04l-1.81 -1.04v-2.09zM100.47 763.14l1.81 1.04v2.09l-1.81 1.04l-1.81 -1.04v-2.09zM104.09 763.14l1.81 1.04v2.09l-1.81 1.04l-1.81 -1.04v-2.09zM105.90 760.01l1.81 1.04v2.09l-1.81 1.04l-1.81 -1.04v-2.09z"/><path fill="#767bb0" stroke="#767bb0" stroke-width="0.35" stroke-linejoin="round" d="M55.25 810.15l1.81 1.04v2.09l-1.81 1.04l-1.81 -1.04v-2.09zM78.77 807.01l1.81 1.04v2.09l-1.81 1.04l-1.81 -1.04v-2.09zM71.53 794.48l1.81 1.04v2.09l-1.81 1.04l-1.81 -1.04v-2.09zM89.62 794.48l1.81 1.04v2.09l-1.81 1.04l-1.81 -1.04v-2.09zM84.19 785.08l1.81 1.04v2.09l-1.81 1.04l-1.81 -1.04v-2.09z"/><path fill="#877ea6" stroke="#877ea6" stroke-width="0.35" stroke-linejoin="round" d="M58.87 822.68l1.81 1.04v2.09l-1.81 1.04l-1.81 -1.04v-2.09zM57.06 813.28l1.81 1.04v2.09l-1.81 1.04l-1.81 -1.04v-2.09zM71.53 813.28l1.81 1.04v2.09l-1.81 1.04l-1.81 -1.04v-2.09zM91.43 791.34l1.81 1.04v2.09l-1.81 1.04l-1.81 -1.04v-2.09zM95.05 785.08l1.81 1.04v2.09l-1.81 1.04l-1.81 -1.04v-2.09z"/><path fill="#958199" stroke="#958199" stroke-width="0.35" stroke-linejoin="round" d="M51.63 822.68l1.81 1.04v2.09l-1.81 1.04l-1.81 -1.04v-2.09zM55.25 816.41l1.81 1.04v2.09l-1.81 1.04l-1.81 -1.04v-2.09zM66.10 816.41l1.81 1.04v2.09l-1.81 1.04l-1.81 -1.04v-2.09zM67.91 813.28l1.81 1.04v2.09l-1.81 1.04l-1.81 -1.04v-2.09zM62.48 803.88l1.81 1.04v2.09l-1.81 1.04l-1.81 -1.04v-2.09zM80.57 803.88l1.81 1.04v2.09l-1.81 1.04l-1.81 -1.04v-2.09zM82.38 800.75l1.81 1.04v2.09l-1.81 1.04l-1.81 -1.04v-2.09zM69.72 797.61l1.81 1.04v2.09l-1.81 1.04l-1.81 -1.04v-2.09zM87.81 791.34l1.81 1.04v2.09l-1.81 1.04l-1.81 -1.04v-2.09zM82.38 788.21l1.81 1.04v2.09l-1.81 1.04l-1.81 -1.04v-2.09zM86.00 788.21l1.81 1.04v2.09l-1.81 1.04l-1.81 -1.04v-2.09zM89.62 788.21l1.81 1.04v2.09l-1.81 1.04l-1.81 -1.04v-2.09zM93.24 788.21l1.81 1.04v2.09l-1.81 1.04l-1.81 -1.04v-2.09zM91.43 785.08l1.81 1.04v2.09l-1.81 1.04l-1.81 -1.04v-2.09zM89.62 781.94l1.81 1.04v2.09l-1.81 1.04l-1.81 -1.04v-2.09zM93.24 781.94l1.81 1.04v2.09l-1.81 1.04l-1.81 -1.04v-2.09z"/><path fill="#a28493" stroke="#a28493" stroke-width="0.35" stroke-linejoin="round" d="M60.67 807.01l1.81 1.04v2.09l-1.81 1.04l-1.81 -1.04v-2.09zM84.19 797.61l1.81 1.04v2.09l-1.81 1.04l-1.81 -1.04v-2.09zM86.00 794.48l1.81 1.04v2.09l-1.81 1.04l-1.81 -1.04v-2.09zM76.96 791.34l1.81 1.04v2.09l-1.81 1.04l-1.81 -1.04v-2.09zM87.81 785.08l1.81 1.04v2.09l-1.81 1.04l-1.81 -1.04v-2.09z"/><path fill="#b88a7f" stroke="#b88a7f" stroke-width="0.35" stroke-linejoin="round" d="M73.34 810.15l1.81 1.04v2.09l-1.81 1.04l-1.81 -1.04v-2.09zM75.15 807.01l1.81 1.04v2.09l-1.81 1.04l-1.81 -1.04v-2.09zM67.91 800.75l1.81 1.04v2.09l-1.81 1.04l-1.81 -1.04v-2.09zM80.57 791.34l1.81 1.04v2.09l-1.81 1.04l-1.81 -1.04v-2.09zM84.19 791.34l1.81 1.04v2.09l-1.81 1.04l-1.81 -1.04v-2.09z"/><path fill="#cc916a" stroke="#cc916a" stroke-width="0.35" stroke-linejoin="round" d="M58.87 810.15l1.81 1.04v2.09l-1.81 1.04l-1.81 -1.04v-2.09z"/><path fill="#de9753" stroke="#de9753" stroke-width="0.35" stroke-linejoin="round" d="M66.10 810.15l1.81 1.04v2.09l-1.81 1.04l-1.81 -1.04v-2.09zM76.96 803.88l1.81 1.04v2.09l-1.81 1.04l-1.81 -1.04v-2.09zM75.15 794.48l1.81 1.04v2.09l-1.81 1.04l-1.81 -1.04v-2.09zM78.77 794.48l1.81 1.04v2.09l-1.81 1.04l-1.81 -1.04v-2.09zM82.38 794.48l1.81 1.04v2.09l-1.81 1.04l-1.81 -1.04v-2.09z"/><path fill="#ef9e38" stroke="#ef9e38" stroke-width="0.35" stroke-linejoin="round" d="M57.06 819.55l1.81 1.04v2.09l-1.81 1.04l-1.81 -1.04v-2.09zM58.87 816.41l1.81 1.04v2.09l-1.81 1.04l-1.81 -1.04v-2.09zM69.72 810.15l1.81 1.04v2.09l-1.81 1.04l-1.81 -1.04v-2.09zM64.29 807.01l1.81 1.04v2.09l-1.81 1.04l-1.81 -1.04v-2.09zM66.10 803.88l1.81 1.04v2.09l-1.81 1.04l-1.81 -1.04v-2.09zM71.53 800.75l1.81 1.04v2.09l-1.81 1.04l-1.81 -1.04v-2.09zM75.15 800.75l1.81 1.04v2.09l-1.81 1.04l-1.81 -1.04v-2.09zM78.77 800.75l1.81 1.04v2.09l-1.81 1.04l-1.81 -1.04v-2.09zM73.34 797.61l1.81 1.04v2.09l-1.81 1.04l-1.81 -1.04v-2.09zM80.57 797.61l1.81 1.04v2.09l-1.81 1.04l-1.81 -1.04v-2.09z"/><path fill="#ffa500" stroke="#ffa500" stroke-width="0.35" stroke-linejoin="round" d="M53.44 819.55l1.81 1.04v2.09l-1.81 1.04l-1.81 -1.04v-2.09zM60.67 819.55l1.81 1.04v2.09l-1.81 1.04l-1.81 -1.04v-2.09zM73.34 803.88l1.81 1.04v2.09l-1.81 1.04l-1.81 -1.04v-2.09zM76.96 797.61l1.81 1.04v2.09l-1.81 1.04l-1.81 -1.04v-2.09z"/><path fill="#ffbc00" stroke="#ffbc00" stroke-width="0.35" stroke-linejoin="round" d="M49.82 825.81l1.81 1.04v2.09l-1.81 1.04l-1.81 -1.04v-2.09zM67.91 807.01l1.81 1.04v2.09l-1.81 1.04l-1.81 -1.04v-2.09zM71.53 807.01l1.81 1.04v2.09l-1.81 1.04l-1.81 -1.04v-2.09zM69.72 803.88l1.81 1.04v2.09l-1.81 1.04l-1.81 -1.04v-2.09z"/><path fill="#ffd300" stroke="#ffd300" stroke-width="0.35" stroke-linejoin="round" d="M64.29 813.28l1.81 1.04v2.09l-1.81 1.04l-1.81 -1.04v-2.09z"/><path fill="#ffe900" stroke="#ffe900" stroke-width="0.35" stroke-linejoin="round" d="M62.48 816.41l1.81 1.04v2.09l-1.81 1.04l-1.81 -1.04v-2.09z"/><path fill="#ffff00" stroke="#ffff00" stroke-width="0.35" stroke-linejoin="round" d="M60.67 813.28l1.81 1.04v2.09l-1.81 1.04l-1.81 -1.04v-2.09zM62.48 810.15l1.81 1.04v2.09l-1.81 1.04l-1.81 -1.04v-2.09z"/><path fill="#808080" stroke="#808080" stroke-width="0.35" stroke-linejoin="round" d="M55.25 828.95l1.81 1.04v2.09l-1.81 1.04l-1.81 -1.04v-2.09zM53.44 825.81l1.81 1.04v2.09l-1.81 1.04l-1.81 -1.04v-2.09zM55.25 822.68l1.81 1.04v2.09l-1.81 1.04l-1.81 -1.04v-2.09z"/></g>
<line x1="42.5" y1="835.5" x2="186.5" y2="691.5" stroke="#000" stroke-opacity="0.48" stroke-width="1.1"/>
<rect x="42.5" y="691.5" width="144" height="144" fill="none" stroke="#333" stroke-width="1.25"/>
<path d="M48.50 835.5v3M42.5 829.50h-3M86.10 835.5v3M42.5 791.90h-3M123.70 835.5v3M42.5 754.30h-3M161.31 835.5v3M42.5 716.69h-3" stroke="#333" stroke-width="1" fill="none"/>
<text x="48.50" y="848.70" font-size="10.5" text-anchor="middle" fill="#000">0</text>
<text x="37.00" y="833.50" font-size="10.5" text-anchor="end" fill="#000">0</text>
<text x="86.10" y="848.70" font-size="10.5" text-anchor="middle" fill="#000">200</text>
<text x="37.00" y="795.90" font-size="10.5" text-anchor="end" fill="#000">200</text>
<text x="123.70" y="848.70" font-size="10.5" text-anchor="middle" fill="#000">400</text>
<text x="37.00" y="758.30" font-size="10.5" text-anchor="end" fill="#000">400</text>
<text x="161.31" y="848.70" font-size="10.5" text-anchor="middle" fill="#000">600</text>
<text x="37.00" y="720.69" font-size="10.5" text-anchor="end" fill="#000">600</text>
<text x="114.50" y="683.2" font-size="10.7" font-weight="bold" text-anchor="middle">Aboveground biomass − spruce</text>
<text x="114.50" y="863.50" font-size="10.6" text-anchor="middle"><tspan>Predicted biomass (t · ha</tspan><tspan font-size="7.1" dy="-4.5">−1</tspan><tspan dy="4.5">)</tspan></text>
<text transform="translate(11.90,763.50) rotate(-90)" font-size="10.6" text-anchor="middle"><tspan>Field measured biomass (t · ha</tspan><tspan font-size="7.1" dy="-4.5">−1</tspan><tspan dy="4.5">)</tspan></text>
<clipPath id="c282_691"><rect x="282.5" y="691.5" width="144" height="144"/></clipPath><g clip-path="url(#c282_691)"><path fill="#1f72cf" stroke="#1f72cf" stroke-width="0.35" stroke-linejoin="round" d="M300.10 826.44l1.81 1.04v2.09l-1.81 1.04l-1.81 -1.04v-2.09zM305.53 823.31l1.81 1.04v2.09l-1.81 1.04l-1.81 -1.04v-2.09zM289.25 820.18l1.81 1.04v2.09l-1.81 1.04l-1.81 -1.04v-2.09zM307.34 820.18l1.81 1.04v2.09l-1.81 1.04l-1.81 -1.04v-2.09zM309.15 817.04l1.81 1.04v2.09l-1.81 1.04l-1.81 -1.04v-2.09zM312.76 817.04l1.81 1.04v2.09l-1.81 1.04l-1.81 -1.04v-2.09zM314.57 813.91l1.81 1.04v2.09l-1.81 1.04l-1.81 -1.04v-2.09zM318.19 813.91l1.81 1.04v2.09l-1.81 1.04l-1.81 -1.04v-2.09zM320.00 810.78l1.81 1.04v2.09l-1.81 1.04l-1.81 -1.04v-2.09zM318.19 807.64l1.81 1.04v2.09l-1.81 1.04l-1.81 -1.04v-2.09zM325.43 807.64l1.81 1.04v2.09l-1.81 1.04l-1.81 -1.04v-2.09zM330.85 804.51l1.81 1.04v2.09l-1.81 1.04l-1.81 -1.04v-2.09zM300.10 801.38l1.81 1.04v2.09l-1.81 1.04l-1.81 -1.04v-2.09zM301.91 798.24l1.81 1.04v2.09l-1.81 1.04l-1.81 -1.04v-2.09zM329.05 795.11l1.81 1.04v2.09l-1.81 1.04l-1.81 -1.04v-2.09zM310.96 788.84l1.81 1.04v2.09l-1.81 1.04l-1.81 -1.04v-2.09zM332.66 788.84l1.81 1.04v2.09l-1.81 1.04l-1.81 -1.04v-2.09zM339.90 788.84l1.81 1.04v2.09l-1.81 1.04l-1.81 -1.04v-2.09zM312.76 785.71l1.81 1.04v2.09l-1.81 1.04l-1.81 -1.04v-2.09zM338.09 785.71l1.81 1.04v2.09l-1.81 1.04l-1.81 -1.04v-2.09zM314.57 782.58l1.81 1.04v2.09l-1.81 1.04l-1.81 -1.04v-2.09zM339.90 782.58l1.81 1.04v2.09l-1.81 1.04l-1.81 -1.04v-2.09zM316.38 779.44l1.81 1.04v2.09l-1.81 1.04l-1.81 -1.04v-2.09zM341.71 779.44l1.81 1.04v2.09l-1.81 1.04l-1.81 -1.04v-2.09zM318.19 776.31l1.81 1.04v2.09l-1.81 1.04l-1.81 -1.04v-2.09zM321.81 776.31l1.81 1.04v2.09l-1.81 1.04l-1.81 -1.04v-2.09zM330.85 773.18l1.81 1.04v2.09l-1.81 1.04l-1.81 -1.04v-2.09zM334.47 773.18l1.81 1.04v2.09l-1.81 1.04l-1.81 -1.04v-2.09zM338.09 773.18l1.81 1.04v2.09l-1.81 1.04l-1.81 -1.04v-2.09zM325.43 770.04l1.81 1.04v2.09l-1.81 1.04l-1.81 -1.04v-2.09zM336.28 770.04l1.81 1.04v2.09l-1.81 1.04l-1.81 -1.04v-2.09zM339.90 770.04l1.81 1.04v2.09l-1.81 1.04l-1.81 -1.04v-2.09zM338.09 766.91l1.81 1.04v2.09l-1.81 1.04l-1.81 -1.04v-2.09zM336.28 763.78l1.81 1.04v2.09l-1.81 1.04l-1.81 -1.04v-2.09zM339.90 757.51l1.81 1.04v2.09l-1.81 1.04l-1.81 -1.04v-2.09zM350.75 770.04l1.81 1.04v2.09l-1.81 1.04l-1.81 -1.04v-2.09zM345.33 785.71l1.81 1.04v2.09l-1.81 1.04l-1.81 -1.04v-2.09zM347.14 801.38l1.81 1.04v2.09l-1.81 1.04l-1.81 -1.04v-2.09zM329.05 813.91l1.81 1.04v2.09l-1.81 1.04l-1.81 -1.04v-2.09zM334.47 735.58l1.81 1.04v2.09l-1.81 1.04l-1.81 -1.04v-2.09zM356.18 760.64l1.81 1.04v2.09l-1.81 1.04l-1.81 -1.04v-2.09z"/><path fill="#4a76c4" stroke="#4a76c4" stroke-width="0.35" stroke-linejoin="round" d="M301.91 823.31l1.81 1.04v2.09l-1.81 1.04l-1.81 -1.04v-2.09zM291.06 817.04l1.81 1.04v2.09l-1.81 1.04l-1.81 -1.04v-2.09zM292.86 813.91l1.81 1.04v2.09l-1.81 1.04l-1.81 -1.04v-2.09zM310.96 813.91l1.81 1.04v2.09l-1.81 1.04l-1.81 -1.04v-2.09zM294.67 810.78l1.81 1.04v2.09l-1.81 1.04l-1.81 -1.04v-2.09zM323.62 810.78l1.81 1.04v2.09l-1.81 1.04l-1.81 -1.04v-2.09zM296.48 807.64l1.81 1.04v2.09l-1.81 1.04l-1.81 -1.04v-2.09zM298.29 804.51l1.81 1.04v2.09l-1.81 1.04l-1.81 -1.04v-2.09zM320.00 804.51l1.81 1.04v2.09l-1.81 1.04l-1.81 -1.04v-2.09zM323.62 804.51l1.81 1.04v2.09l-1.81 1.04l-1.81 -1.04v-2.09zM327.24 804.51l1.81 1.04v2.09l-1.81 1.04l-1.81 -1.04v-2.09zM325.43 801.38l1.81 1.04v2.09l-1.81 1.04l-1.81 -1.04v-2.09zM329.05 801.38l1.81 1.04v2.09l-1.81 1.04l-1.81 -1.04v-2.09zM305.53 798.24l1.81 1.04v2.09l-1.81 1.04l-1.81 -1.04v-2.09zM327.24 798.24l1.81 1.04v2.09l-1.81 1.04l-1.81 -1.04v-2.09zM330.85 798.24l1.81 1.04v2.09l-1.81 1.04l-1.81 -1.04v-2.09zM307.34 795.11l1.81 1.04v2.09l-1.81 1.04l-1.81 -1.04v-2.09zM309.15 791.98l1.81 1.04v2.09l-1.81 1.04l-1.81 -1.04v-2.09zM330.85 791.98l1.81 1.04v2.09l-1.81 1.04l-1.81 -1.04v-2.09zM334.47 785.71l1.81 1.04v2.09l-1.81 1.04l-1.81 -1.04v-2.09zM336.28 782.58l1.81 1.04v2.09l-1.81 1.04l-1.81 -1.04v-2.09zM327.24 779.44l1.81 1.04v2.09l-1.81 1.04l-1.81 -1.04v-2.09zM330.85 779.44l1.81 1.04v2.09l-1.81 1.04l-1.81 -1.04v-2.09zM334.47 779.44l1.81 1.04v2.09l-1.81 1.04l-1.81 -1.04v-2.09zM325.43 776.31l1.81 1.04v2.09l-1.81 1.04l-1.81 -1.04v-2.09zM332.66 776.31l1.81 1.04v2.09l-1.81 1.04l-1.81 -1.04v-2.09zM336.28 776.31l1.81 1.04v2.09l-1.81 1.04l-1.81 -1.04v-2.09zM339.90 776.31l1.81 1.04v2.09l-1.81 1.04l-1.81 -1.04v-2.09zM323.62 773.18l1.81 1.04v2.09l-1.81 1.04l-1.81 -1.04v-2.09zM327.24 773.18l1.81 1.04v2.09l-1.81 1.04l-1.81 -1.04v-2.09z"/><path fill="#6379ba" stroke="#6379ba" stroke-width="0.35" stroke-linejoin="round" d="M303.72 820.18l1.81 1.04v2.09l-1.81 1.04l-1.81 -1.04v-2.09zM312.76 810.78l1.81 1.04v2.09l-1.81 1.04l-1.81 -1.04v-2.09zM316.38 810.78l1.81 1.04v2.09l-1.81 1.04l-1.81 -1.04v-2.09zM314.57 788.84l1.81 1.04v2.09l-1.81 1.04l-1.81 -1.04v-2.09zM316.38 785.71l1.81 1.04v2.09l-1.81 1.04l-1.81 -1.04v-2.09zM318.19 782.58l1.81 1.04v2.09l-1.81 1.04l-1.81 -1.04v-2.09zM321.81 782.58l1.81 1.04v2.09l-1.81 1.04l-1.81 -1.04v-2.09zM320.00 779.44l1.81 1.04v2.09l-1.81 1.04l-1.81 -1.04v-2.09zM323.62 779.44l1.81 1.04v2.09l-1.81 1.04l-1.81 -1.04v-2.09zM338.09 779.44l1.81 1.04v2.09l-1.81 1.04l-1.81 -1.04v-2.09zM329.05 776.31l1.81 1.04v2.09l-1.81 1.04l-1.81 -1.04v-2.09z"/><path fill="#767bb0" stroke="#767bb0" stroke-width="0.35" stroke-linejoin="round" d="M305.53 817.04l1.81 1.04v2.09l-1.81 1.04l-1.81 -1.04v-2.09zM314.57 807.64l1.81 1.04v2.09l-1.81 1.04l-1.81 -1.04v-2.09zM321.81 801.38l1.81 1.04v2.09l-1.81 1.04l-1.81 -1.04v-2.09zM312.76 791.98l1.81 1.04v2.09l-1.81 1.04l-1.81 -1.04v-2.09zM320.00 785.71l1.81 1.04v2.09l-1.81 1.04l-1.81 -1.04v-2.09z"/><path fill="#877ea6" stroke="#877ea6" stroke-width="0.35" stroke-linejoin="round" d="M300.10 807.64l1.81 1.04v2.09l-1.81 1.04l-1.81 -1.04v-2.09zM301.91 804.51l1.81 1.04v2.09l-1.81 1.04l-1.81 -1.04v-2.09zM303.72 801.38l1.81 1.04v2.09l-1.81 1.04l-1.81 -1.04v-2.09zM307.34 801.38l1.81 1.04v2.09l-1.81 1.04l-1.81 -1.04v-2.09zM309.15 798.24l1.81 1.04v2.09l-1.81 1.04l-1.81 -1.04v-2.09zM327.24 791.98l1.81 1.04v2.09l-1.81 1.04l-1.81 -1.04v-2.09zM330.85 785.71l1.81 1.04v2.09l-1.81 1.04l-1.81 -1.04v-2.09z"/><path fill="#958199" stroke="#958199" stroke-width="0.35" stroke-linejoin="round" d="M298.29 810.78l1.81 1.04v2.09l-1.81 1.04l-1.81 -1.04v-2.09zM316.38 804.51l1.81 1.04v2.09l-1.81 1.04l-1.81 -1.04v-2.09zM318.19 801.38l1.81 1.04v2.09l-1.81 1.04l-1.81 -1.04v-2.09zM320.00 798.24l1.81 1.04v2.09l-1.81 1.04l-1.81 -1.04v-2.09zM323.62 798.24l1.81 1.04v2.09l-1.81 1.04l-1.81 -1.04v-2.09zM310.96 795.11l1.81 1.04v2.09l-1.81 1.04l-1.81 -1.04v-2.09zM314.57 795.11l1.81 1.04v2.09l-1.81 1.04l-1.81 -1.04v-2.09zM318.19 795.11l1.81 1.04v2.09l-1.81 1.04l-1.81 -1.04v-2.09zM325.43 795.11l1.81 1.04v2.09l-1.81 1.04l-1.81 -1.04v-2.09zM316.38 791.98l1.81 1.04v2.09l-1.81 1.04l-1.81 -1.04v-2.09zM320.00 791.98l1.81 1.04v2.09l-1.81 1.04l-1.81 -1.04v-2.09zM323.62 791.98l1.81 1.04v2.09l-1.81 1.04l-1.81 -1.04v-2.09zM318.19 788.84l1.81 1.04v2.09l-1.81 1.04l-1.81 -1.04v-2.09zM321.81 788.84l1.81 1.04v2.09l-1.81 1.04l-1.81 -1.04v-2.09zM325.43 788.84l1.81 1.04v2.09l-1.81 1.04l-1.81 -1.04v-2.09zM329.05 788.84l1.81 1.04v2.09l-1.81 1.04l-1.81 -1.04v-2.09zM323.62 785.71l1.81 1.04v2.09l-1.81 1.04l-1.81 -1.04v-2.09zM327.24 785.71l1.81 1.04v2.09l-1.81 1.04l-1.81 -1.04v-2.09zM325.43 782.58l1.81 1.04v2.09l-1.81 1.04l-1.81 -1.04v-2.09zM329.05 782.58l1.81 1.04v2.09l-1.81 1.04l-1.81 -1.04v-2.09z"/><path fill="#a28493" stroke="#a28493" stroke-width="0.35" stroke-linejoin="round" d="M321.81 795.11l1.81 1.04v2.09l-1.81 1.04l-1.81 -1.04v-2.09z"/><path fill="#b88a7f" stroke="#b88a7f" stroke-width="0.35" stroke-linejoin="round" d="M309.15 810.78l1.81 1.04v2.09l-1.81 1.04l-1.81 -1.04v-2.09zM316.38 798.24l1.81 1.04v2.09l-1.81 1.04l-1.81 -1.04v-2.09z"/><path fill="#cc916a" stroke="#cc916a" stroke-width="0.35" stroke-linejoin="round" d="M301.91 817.04l1.81 1.04v2.09l-1.81 1.04l-1.81 -1.04v-2.09zM312.76 798.24l1.81 1.04v2.09l-1.81 1.04l-1.81 -1.04v-2.09z"/><path fill="#de9753" stroke="#de9753" stroke-width="0.35" stroke-linejoin="round" d="M310.96 807.64l1.81 1.04v2.09l-1.81 1.04l-1.81 -1.04v-2.09z"/><path fill="#ef9e38" stroke="#ef9e38" stroke-width="0.35" stroke-linejoin="round" d="M296.48 820.18l1.81 1.04v2.09l-1.81 1.04l-1.81 -1.04v-2.09zM298.29 817.04l1.81 1.04v2.09l-1.81 1.04l-1.81 -1.04v-2.09zM300.10 813.91l1.81 1.04v2.09l-1.81 1.04l-1.81 -1.04v-2.09zM303.72 813.91l1.81 1.04v2.09l-1.81 1.04l-1.81 -1.04v-2.09zM305.53 810.78l1.81 1.04v2.09l-1.81 1.04l-1.81 -1.04v-2.09zM305.53 804.51l1.81 1.04v2.09l-1.81 1.04l-1.81 -1.04v-2.09zM314.57 801.38l1.81 1.04v2.09l-1.81 1.04l-1.81 -1.04v-2.09z"/><path fill="#ffa500" stroke="#ffa500" stroke-width="0.35" stroke-linejoin="round" d="M296.48 813.91l1.81 1.04v2.09l-1.81 1.04l-1.81 -1.04v-2.09zM307.34 813.91l1.81 1.04v2.09l-1.81 1.04l-1.81 -1.04v-2.09zM303.72 807.64l1.81 1.04v2.09l-1.81 1.04l-1.81 -1.04v-2.09zM312.76 804.51l1.81 1.04v2.09l-1.81 1.04l-1.81 -1.04v-2.09zM310.96 801.38l1.81 1.04v2.09l-1.81 1.04l-1.81 -1.04v-2.09z"/><path fill="#ffbc00" stroke="#ffbc00" stroke-width="0.35" stroke-linejoin="round" d="M300.10 820.18l1.81 1.04v2.09l-1.81 1.04l-1.81 -1.04v-2.09z"/><path fill="#ffd300" stroke="#ffd300" stroke-width="0.35" stroke-linejoin="round" d="M309.15 804.51l1.81 1.04v2.09l-1.81 1.04l-1.81 -1.04v-2.09z"/><path fill="#ffe900" stroke="#ffe900" stroke-width="0.35" stroke-linejoin="round" d="M307.34 807.64l1.81 1.04v2.09l-1.81 1.04l-1.81 -1.04v-2.09z"/><path fill="#ffff00" stroke="#ffff00" stroke-width="0.35" stroke-linejoin="round" d="M294.67 817.04l1.81 1.04v2.09l-1.81 1.04l-1.81 -1.04v-2.09zM301.91 810.78l1.81 1.04v2.09l-1.81 1.04l-1.81 -1.04v-2.09z"/><path fill="#808080" stroke="#808080" stroke-width="0.35" stroke-linejoin="round" d="M289.25 826.44l1.81 1.04v2.09l-1.81 1.04l-1.81 -1.04v-2.09zM292.86 826.44l1.81 1.04v2.09l-1.81 1.04l-1.81 -1.04v-2.09zM296.48 826.44l1.81 1.04v2.09l-1.81 1.04l-1.81 -1.04v-2.09zM291.06 823.31l1.81 1.04v2.09l-1.81 1.04l-1.81 -1.04v-2.09zM294.67 823.31l1.81 1.04v2.09l-1.81 1.04l-1.81 -1.04v-2.09zM298.29 823.31l1.81 1.04v2.09l-1.81 1.04l-1.81 -1.04v-2.09zM292.86 820.18l1.81 1.04v2.09l-1.81 1.04l-1.81 -1.04v-2.09z"/></g>
<line x1="282.5" y1="835.5" x2="426.5" y2="691.5" stroke="#000" stroke-opacity="0.48" stroke-width="1.1"/>
<rect x="282.5" y="691.5" width="144" height="144" fill="none" stroke="#333" stroke-width="1.25"/>
<path d="M288.50 835.5v3M282.5 829.50h-3M326.10 835.5v3M282.5 791.90h-3M363.70 835.5v3M282.5 754.30h-3M401.31 835.5v3M282.5 716.69h-3" stroke="#333" stroke-width="1" fill="none"/>
<text x="288.50" y="848.70" font-size="10.5" text-anchor="middle" fill="#000">0</text>
<text x="277.00" y="833.50" font-size="10.5" text-anchor="end" fill="#000">0</text>
<text x="326.10" y="848.70" font-size="10.5" text-anchor="middle" fill="#000">200</text>
<text x="277.00" y="795.90" font-size="10.5" text-anchor="end" fill="#000">200</text>
<text x="363.70" y="848.70" font-size="10.5" text-anchor="middle" fill="#000">400</text>
<text x="277.00" y="758.30" font-size="10.5" text-anchor="end" fill="#000">400</text>
<text x="401.31" y="848.70" font-size="10.5" text-anchor="middle" fill="#000">600</text>
<text x="277.00" y="720.69" font-size="10.5" text-anchor="end" fill="#000">600</text>
<text x="354.50" y="683.2" font-size="10.7" font-weight="bold" text-anchor="middle">Aboveground biomass − pine</text>
<text x="354.50" y="863.50" font-size="10.6" text-anchor="middle"><tspan>Predicted biomass (t · ha</tspan><tspan font-size="7.1" dy="-4.5">−1</tspan><tspan dy="4.5">)</tspan></text>
<text transform="translate(251.90,763.50) rotate(-90)" font-size="10.6" text-anchor="middle"><tspan>Field measured biomass (t · ha</tspan><tspan font-size="7.1" dy="-4.5">−1</tspan><tspan dy="4.5">)</tspan></text>
<clipPath id="c522_691"><rect x="522.5" y="691.5" width="144" height="144"/></clipPath><g clip-path="url(#c522_691)"><path fill="#1f72cf" stroke="#1f72cf" stroke-width="0.35" stroke-linejoin="round" d="M533.15 826.08l1.81 1.04v2.09l-1.81 1.04l-1.81 -1.04v-2.09zM527.72 822.95l1.81 1.04v2.09l-1.81 1.04l-1.81 -1.04v-2.09zM538.57 822.95l1.81 1.04v2.09l-1.81 1.04l-1.81 -1.04v-2.09zM542.19 822.95l1.81 1.04v2.09l-1.81 1.04l-1.81 -1.04v-2.09zM545.81 822.95l1.81 1.04v2.09l-1.81 1.04l-1.81 -1.04v-2.09zM529.53 819.81l1.81 1.04v2.09l-1.81 1.04l-1.81 -1.04v-2.09zM551.24 819.81l1.81 1.04v2.09l-1.81 1.04l-1.81 -1.04v-2.09zM556.66 816.68l1.81 1.04v2.09l-1.81 1.04l-1.81 -1.04v-2.09zM560.28 816.68l1.81 1.04v2.09l-1.81 1.04l-1.81 -1.04v-2.09zM562.09 813.54l1.81 1.04v2.09l-1.81 1.04l-1.81 -1.04v-2.09zM534.96 810.41l1.81 1.04v2.09l-1.81 1.04l-1.81 -1.04v-2.09zM556.66 810.41l1.81 1.04v2.09l-1.81 1.04l-1.81 -1.04v-2.09zM563.90 810.41l1.81 1.04v2.09l-1.81 1.04l-1.81 -1.04v-2.09zM562.09 807.28l1.81 1.04v2.09l-1.81 1.04l-1.81 -1.04v-2.09zM538.57 804.14l1.81 1.04v2.09l-1.81 1.04l-1.81 -1.04v-2.09zM567.52 804.14l1.81 1.04v2.09l-1.81 1.04l-1.81 -1.04v-2.09zM569.33 801.01l1.81 1.04v2.09l-1.81 1.04l-1.81 -1.04v-2.09zM542.19 797.88l1.81 1.04v2.09l-1.81 1.04l-1.81 -1.04v-2.09zM571.14 797.88l1.81 1.04v2.09l-1.81 1.04l-1.81 -1.04v-2.09zM540.38 794.74l1.81 1.04v2.09l-1.81 1.04l-1.81 -1.04v-2.09zM572.95 794.74l1.81 1.04v2.09l-1.81 1.04l-1.81 -1.04v-2.09zM542.19 791.61l1.81 1.04v2.09l-1.81 1.04l-1.81 -1.04v-2.09zM545.81 791.61l1.81 1.04v2.09l-1.81 1.04l-1.81 -1.04v-2.09zM571.14 791.61l1.81 1.04v2.09l-1.81 1.04l-1.81 -1.04v-2.09zM544.00 788.48l1.81 1.04v2.09l-1.81 1.04l-1.81 -1.04v-2.09zM547.62 788.48l1.81 1.04v2.09l-1.81 1.04l-1.81 -1.04v-2.09zM572.95 788.48l1.81 1.04v2.09l-1.81 1.04l-1.81 -1.04v-2.09zM549.43 785.34l1.81 1.04v2.09l-1.81 1.04l-1.81 -1.04v-2.09zM551.24 782.21l1.81 1.04v2.09l-1.81 1.04l-1.81 -1.04v-2.09zM553.05 779.08l1.81 1.04v2.09l-1.81 1.04l-1.81 -1.04v-2.09zM574.75 779.08l1.81 1.04v2.09l-1.81 1.04l-1.81 -1.04v-2.09zM554.86 775.94l1.81 1.04v2.09l-1.81 1.04l-1.81 -1.04v-2.09zM558.47 775.94l1.81 1.04v2.09l-1.81 1.04l-1.81 -1.04v-2.09zM565.71 775.94l1.81 1.04v2.09l-1.81 1.04l-1.81 -1.04v-2.09zM569.33 775.94l1.81 1.04v2.09l-1.81 1.04l-1.81 -1.04v-2.09zM572.95 775.94l1.81 1.04v2.09l-1.81 1.04l-1.81 -1.04v-2.09zM560.28 772.81l1.81 1.04v2.09l-1.81 1.04l-1.81 -1.04v-2.09zM574.75 772.81l1.81 1.04v2.09l-1.81 1.04l-1.81 -1.04v-2.09zM558.47 769.68l1.81 1.04v2.09l-1.81 1.04l-1.81 -1.04v-2.09zM562.09 769.68l1.81 1.04v2.09l-1.81 1.04l-1.81 -1.04v-2.09zM576.56 769.68l1.81 1.04v2.09l-1.81 1.04l-1.81 -1.04v-2.09zM560.28 766.54l1.81 1.04v2.09l-1.81 1.04l-1.81 -1.04v-2.09zM563.90 760.28l1.81 1.04v2.09l-1.81 1.04l-1.81 -1.04v-2.09zM578.37 760.28l1.81 1.04v2.09l-1.81 1.04l-1.81 -1.04v-2.09zM592.85 760.28l1.81 1.04v2.09l-1.81 1.04l-1.81 -1.04v-2.09zM581.99 766.54l1.81 1.04v2.09l-1.81 1.04l-1.81 -1.04v-2.09zM581.99 772.81l1.81 1.04v2.09l-1.81 1.04l-1.81 -1.04v-2.09zM583.80 782.21l1.81 1.04v2.09l-1.81 1.04l-1.81 -1.04v-2.09zM578.37 785.34l1.81 1.04v2.09l-1.81 1.04l-1.81 -1.04v-2.09zM589.23 791.61l1.81 1.04v2.09l-1.81 1.04l-1.81 -1.04v-2.09zM578.37 804.14l1.81 1.04v2.09l-1.81 1.04l-1.81 -1.04v-2.09zM534.96 797.88l1.81 1.04v2.09l-1.81 1.04l-1.81 -1.04v-2.09zM533.15 807.28l1.81 1.04v2.09l-1.81 1.04l-1.81 -1.04v-2.09zM583.80 744.61l1.81 1.04v2.09l-1.81 1.04l-1.81 -1.04v-2.09zM576.56 750.88l1.81 1.04v2.09l-1.81 1.04l-1.81 -1.04v-2.09zM596.46 772.81l1.81 1.04v2.09l-1.81 1.04l-1.81 -1.04v-2.09z"/><path fill="#4a76c4" stroke="#4a76c4" stroke-width="0.35" stroke-linejoin="round" d="M544.00 819.81l1.81 1.04v2.09l-1.81 1.04l-1.81 -1.04v-2.09zM547.62 819.81l1.81 1.04v2.09l-1.81 1.04l-1.81 -1.04v-2.09zM531.34 816.68l1.81 1.04v2.09l-1.81 1.04l-1.81 -1.04v-2.09zM545.81 816.68l1.81 1.04v2.09l-1.81 1.04l-1.81 -1.04v-2.09zM549.43 816.68l1.81 1.04v2.09l-1.81 1.04l-1.81 -1.04v-2.09zM553.05 816.68l1.81 1.04v2.09l-1.81 1.04l-1.81 -1.04v-2.09zM533.15 813.54l1.81 1.04v2.09l-1.81 1.04l-1.81 -1.04v-2.09zM547.62 813.54l1.81 1.04v2.09l-1.81 1.04l-1.81 -1.04v-2.09zM551.24 813.54l1.81 1.04v2.09l-1.81 1.04l-1.81 -1.04v-2.09zM554.86 813.54l1.81 1.04v2.09l-1.81 1.04l-1.81 -1.04v-2.09zM558.47 813.54l1.81 1.04v2.09l-1.81 1.04l-1.81 -1.04v-2.09zM560.28 810.41l1.81 1.04v2.09l-1.81 1.04l-1.81 -1.04v-2.09zM536.76 807.28l1.81 1.04v2.09l-1.81 1.04l-1.81 -1.04v-2.09zM558.47 807.28l1.81 1.04v2.09l-1.81 1.04l-1.81 -1.04v-2.09zM563.90 804.14l1.81 1.04v2.09l-1.81 1.04l-1.81 -1.04v-2.09zM540.38 801.01l1.81 1.04v2.09l-1.81 1.04l-1.81 -1.04v-2.09zM562.09 801.01l1.81 1.04v2.09l-1.81 1.04l-1.81 -1.04v-2.09zM565.71 801.01l1.81 1.04v2.09l-1.81 1.04l-1.81 -1.04v-2.09zM567.52 797.88l1.81 1.04v2.09l-1.81 1.04l-1.81 -1.04v-2.09zM569.33 794.74l1.81 1.04v2.09l-1.81 1.04l-1.81 -1.04v-2.09zM551.24 788.48l1.81 1.04v2.09l-1.81 1.04l-1.81 -1.04v-2.09zM556.66 785.34l1.81 1.04v2.09l-1.81 1.04l-1.81 -1.04v-2.09zM571.14 785.34l1.81 1.04v2.09l-1.81 1.04l-1.81 -1.04v-2.09zM554.86 782.21l1.81 1.04v2.09l-1.81 1.04l-1.81 -1.04v-2.09zM572.95 782.21l1.81 1.04v2.09l-1.81 1.04l-1.81 -1.04v-2.09zM560.28 779.08l1.81 1.04v2.09l-1.81 1.04l-1.81 -1.04v-2.09zM567.52 779.08l1.81 1.04v2.09l-1.81 1.04l-1.81 -1.04v-2.09zM571.14 779.08l1.81 1.04v2.09l-1.81 1.04l-1.81 -1.04v-2.09zM563.90 772.81l1.81 1.04v2.09l-1.81 1.04l-1.81 -1.04v-2.09z"/><path fill="#6379ba" stroke="#6379ba" stroke-width="0.35" stroke-linejoin="round" d="M549.43 810.41l1.81 1.04v2.09l-1.81 1.04l-1.81 -1.04v-2.09zM553.05 810.41l1.81 1.04v2.09l-1.81 1.04l-1.81 -1.04v-2.09zM554.86 807.28l1.81 1.04v2.09l-1.81 1.04l-1.81 -1.04v-2.09zM556.66 804.14l1.81 1.04v2.09l-1.81 1.04l-1.81 -1.04v-2.09zM560.28 804.14l1.81 1.04v2.09l-1.81 1.04l-1.81 -1.04v-2.09zM563.90 797.88l1.81 1.04v2.09l-1.81 1.04l-1.81 -1.04v-2.09zM544.00 794.74l1.81 1.04v2.09l-1.81 1.04l-1.81 -1.04v-2.09zM565.71 794.74l1.81 1.04v2.09l-1.81 1.04l-1.81 -1.04v-2.09zM549.43 791.61l1.81 1.04v2.09l-1.81 1.04l-1.81 -1.04v-2.09zM569.33 788.48l1.81 1.04v2.09l-1.81 1.04l-1.81 -1.04v-2.09zM553.05 785.34l1.81 1.04v2.09l-1.81 1.04l-1.81 -1.04v-2.09zM567.52 785.34l1.81 1.04v2.09l-1.81 1.04l-1.81 -1.04v-2.09zM558.47 782.21l1.81 1.04v2.09l-1.81 1.04l-1.81 -1.04v-2.09zM565.71 782.21l1.81 1.04v2.09l-1.81 1.04l-1.81 -1.04v-2.09zM563.90 779.08l1.81 1.04v2.09l-1.81 1.04l-1.81 -1.04v-2.09z"/><path fill="#767bb0" stroke="#767bb0" stroke-width="0.35" stroke-linejoin="round" d="M551.24 807.28l1.81 1.04v2.09l-1.81 1.04l-1.81 -1.04v-2.09zM558.47 801.01l1.81 1.04v2.09l-1.81 1.04l-1.81 -1.04v-2.09zM560.28 797.88l1.81 1.04v2.09l-1.81 1.04l-1.81 -1.04v-2.09zM547.62 794.74l1.81 1.04v2.09l-1.81 1.04l-1.81 -1.04v-2.09zM565.71 788.48l1.81 1.04v2.09l-1.81 1.04l-1.81 -1.04v-2.09z"/><path fill="#877ea6" stroke="#877ea6" stroke-width="0.35" stroke-linejoin="round" d="M533.15 819.81l1.81 1.04v2.09l-1.81 1.04l-1.81 -1.04v-2.09zM538.57 810.41l1.81 1.04v2.09l-1.81 1.04l-1.81 -1.04v-2.09zM540.38 807.28l1.81 1.04v2.09l-1.81 1.04l-1.81 -1.04v-2.09zM544.00 801.01l1.81 1.04v2.09l-1.81 1.04l-1.81 -1.04v-2.09zM554.86 788.48l1.81 1.04v2.09l-1.81 1.04l-1.81 -1.04v-2.09zM563.90 785.34l1.81 1.04v2.09l-1.81 1.04l-1.81 -1.04v-2.09z"/><path fill="#958199" stroke="#958199" stroke-width="0.35" stroke-linejoin="round" d="M536.76 819.81l1.81 1.04v2.09l-1.81 1.04l-1.81 -1.04v-2.09zM536.76 813.54l1.81 1.04v2.09l-1.81 1.04l-1.81 -1.04v-2.09zM542.19 804.14l1.81 1.04v2.09l-1.81 1.04l-1.81 -1.04v-2.09zM553.05 804.14l1.81 1.04v2.09l-1.81 1.04l-1.81 -1.04v-2.09zM545.81 797.88l1.81 1.04v2.09l-1.81 1.04l-1.81 -1.04v-2.09zM562.09 794.74l1.81 1.04v2.09l-1.81 1.04l-1.81 -1.04v-2.09zM560.28 791.61l1.81 1.04v2.09l-1.81 1.04l-1.81 -1.04v-2.09zM563.90 791.61l1.81 1.04v2.09l-1.81 1.04l-1.81 -1.04v-2.09zM558.47 788.48l1.81 1.04v2.09l-1.81 1.04l-1.81 -1.04v-2.09zM562.09 788.48l1.81 1.04v2.09l-1.81 1.04l-1.81 -1.04v-2.09zM560.28 785.34l1.81 1.04v2.09l-1.81 1.04l-1.81 -1.04v-2.09z"/><path fill="#a28493" stroke="#a28493" stroke-width="0.35" stroke-linejoin="round" d="M554.86 801.01l1.81 1.04v2.09l-1.81 1.04l-1.81 -1.04v-2.09zM554.86 794.74l1.81 1.04v2.09l-1.81 1.04l-1.81 -1.04v-2.09z"/><path fill="#b88a7f" stroke="#b88a7f" stroke-width="0.35" stroke-linejoin="round" d="M545.81 810.41l1.81 1.04v2.09l-1.81 1.04l-1.81 -1.04v-2.09zM549.43 804.14l1.81 1.04v2.09l-1.81 1.04l-1.81 -1.04v-2.09zM547.62 801.01l1.81 1.04v2.09l-1.81 1.04l-1.81 -1.04v-2.09zM551.24 801.01l1.81 1.04v2.09l-1.81 1.04l-1.81 -1.04v-2.09zM553.05 797.88l1.81 1.04v2.09l-1.81 1.04l-1.81 -1.04v-2.09zM556.66 797.88l1.81 1.04v2.09l-1.81 1.04l-1.81 -1.04v-2.09zM551.24 794.74l1.81 1.04v2.09l-1.81 1.04l-1.81 -1.04v-2.09zM558.47 794.74l1.81 1.04v2.09l-1.81 1.04l-1.81 -1.04v-2.09zM553.05 791.61l1.81 1.04v2.09l-1.81 1.04l-1.81 -1.04v-2.09zM556.66 791.61l1.81 1.04v2.09l-1.81 1.04l-1.81 -1.04v-2.09z"/><path fill="#cc916a" stroke="#cc916a" stroke-width="0.35" stroke-linejoin="round" d="M549.43 797.88l1.81 1.04v2.09l-1.81 1.04l-1.81 -1.04v-2.09z"/><path fill="#de9753" stroke="#de9753" stroke-width="0.35" stroke-linejoin="round" d="M538.57 816.68l1.81 1.04v2.09l-1.81 1.04l-1.81 -1.04v-2.09zM547.62 807.28l1.81 1.04v2.09l-1.81 1.04l-1.81 -1.04v-2.09zM545.81 804.14l1.81 1.04v2.09l-1.81 1.04l-1.81 -1.04v-2.09z"/><path fill="#ef9e38" stroke="#ef9e38" stroke-width="0.35" stroke-linejoin="round" d="M540.38 813.54l1.81 1.04v2.09l-1.81 1.04l-1.81 -1.04v-2.09zM544.00 807.28l1.81 1.04v2.09l-1.81 1.04l-1.81 -1.04v-2.09z"/><path fill="#ffa500" stroke="#ffa500" stroke-width="0.35" stroke-linejoin="round" d="M540.38 819.81l1.81 1.04v2.09l-1.81 1.04l-1.81 -1.04v-2.09zM534.96 816.68l1.81 1.04v2.09l-1.81 1.04l-1.81 -1.04v-2.09zM542.19 810.41l1.81 1.04v2.09l-1.81 1.04l-1.81 -1.04v-2.09z"/><path fill="#ffbc00" stroke="#ffbc00" stroke-width="0.35" stroke-linejoin="round" d="M542.19 816.68l1.81 1.04v2.09l-1.81 1.04l-1.81 -1.04v-2.09zM544.00 813.54l1.81 1.04v2.09l-1.81 1.04l-1.81 -1.04v-2.09z"/><path fill="#808080" stroke="#808080" stroke-width="0.35" stroke-linejoin="round" d="M529.53 826.08l1.81 1.04v2.09l-1.81 1.04l-1.81 -1.04v-2.09zM536.76 826.08l1.81 1.04v2.09l-1.81 1.04l-1.81 -1.04v-2.09zM531.34 822.95l1.81 1.04v2.09l-1.81 1.04l-1.81 -1.04v-2.09zM534.96 822.95l1.81 1.04v2.09l-1.81 1.04l-1.81 -1.04v-2.09z"/></g>
<line x1="522.5" y1="835.5" x2="666.5" y2="691.5" stroke="#000" stroke-opacity="0.48" stroke-width="1.1"/>
<rect x="522.5" y="691.5" width="144" height="144" fill="none" stroke="#333" stroke-width="1.25"/>
<path d="M528.50 835.5v3M522.5 829.50h-3M566.10 835.5v3M522.5 791.90h-3M603.70 835.5v3M522.5 754.30h-3M641.31 835.5v3M522.5 716.69h-3" stroke="#333" stroke-width="1" fill="none"/>
<text x="528.50" y="848.70" font-size="10.5" text-anchor="middle" fill="#000">0</text>
<text x="517.00" y="833.50" font-size="10.5" text-anchor="end" fill="#000">0</text>
<text x="566.10" y="848.70" font-size="10.5" text-anchor="middle" fill="#000">200</text>
<text x="517.00" y="795.90" font-size="10.5" text-anchor="end" fill="#000">200</text>
<text x="603.70" y="848.70" font-size="10.5" text-anchor="middle" fill="#000">400</text>
<text x="517.00" y="758.30" font-size="10.5" text-anchor="end" fill="#000">400</text>
<text x="641.31" y="848.70" font-size="10.5" text-anchor="middle" fill="#000">600</text>
<text x="517.00" y="720.69" font-size="10.5" text-anchor="end" fill="#000">600</text>
<text x="594.50" y="683.2" font-size="10.7" font-weight="bold" text-anchor="middle">Aboveground biomass − deciduous</text>
<text x="594.50" y="863.50" font-size="10.6" text-anchor="middle"><tspan>Predicted biomass (t · ha</tspan><tspan font-size="7.1" dy="-4.5">−1</tspan><tspan dy="4.5">)</tspan></text>
<text transform="translate(491.90,763.50) rotate(-90)" font-size="10.6" text-anchor="middle"><tspan>Field measured biomass (t · ha</tspan><tspan font-size="7.1" dy="-4.5">−1</tspan><tspan dy="4.5">)</tspan></text>
</svg></body></html>
